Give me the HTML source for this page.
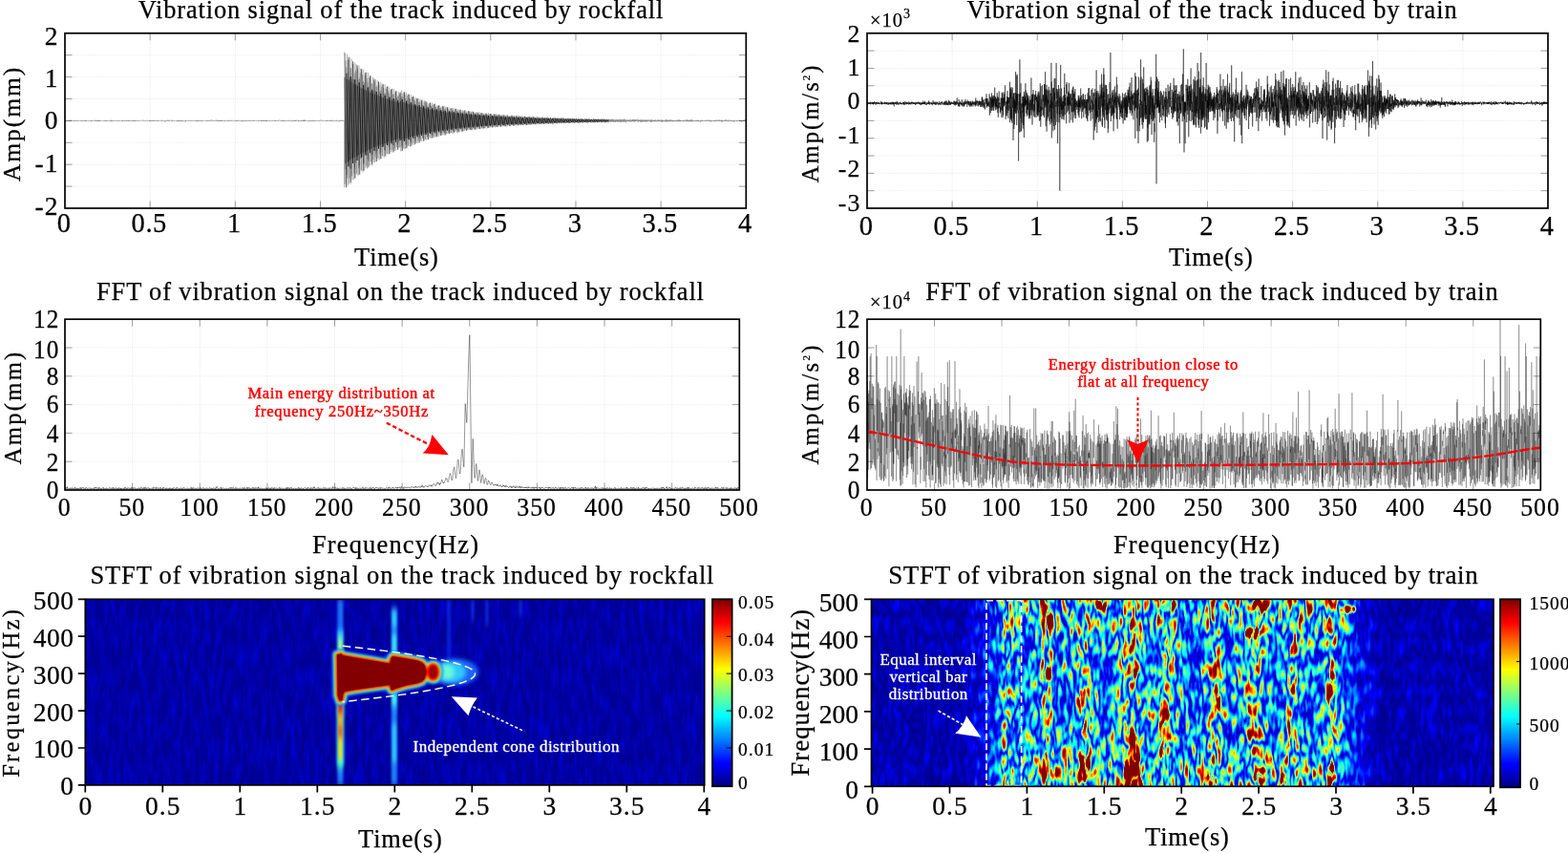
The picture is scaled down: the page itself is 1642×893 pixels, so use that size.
<!DOCTYPE html><html><head><meta charset="utf-8"><title>Vibration signals</title><style>html,body{margin:0;padding:0;background:#fff;overflow:hidden}svg{display:block;font-family:"Liberation Serif", serif}</style></head><body>
<svg width="1642" height="893" viewBox="0 0 1642 893">
<rect width="1642" height="893" fill="#fff"/>
<rect x="68" y="34.8" width="713.30" height="183.20" fill="#fff"/>
<path d="M157.16 34.8V218M246.32 34.8V218M335.49 34.8V218M424.65 34.8V218M513.81 34.8V218M602.97 34.8V218M692.14 34.8V218M68 195.10H781.3M68 172.20H781.3M68 149.30H781.3M68 126.40H781.3M68 103.50H781.3M68 80.60H781.3M68 57.70H781.3" stroke="#e2e2e2" stroke-width="0.6" stroke-dasharray="1.2 0.8" fill="none"/>
<path d="M157.16 34.8v7.5M157.16 218v-7.5M246.32 34.8v7.5M246.32 218v-7.5M335.49 34.8v7.5M335.49 218v-7.5M424.65 34.8v7.5M424.65 218v-7.5M513.81 34.8v7.5M513.81 218v-7.5M602.97 34.8v7.5M602.97 218v-7.5M692.14 34.8v7.5M692.14 218v-7.5M68 195.10h7.5M781.3 195.10h-7.5M68 172.20h7.5M781.3 172.20h-7.5M68 149.30h7.5M781.3 149.30h-7.5M68 126.40h7.5M781.3 126.40h-7.5M68 103.50h7.5M781.3 103.50h-7.5M68 80.60h7.5M781.3 80.60h-7.5M68 57.70h7.5M781.3 57.70h-7.5" stroke="#777" stroke-width="0.7" fill="none"/>
<clipPath id="c1"><rect x="68" y="34.8" width="713.3" height="183.2"/></clipPath>
<polyline points="68.0,126.3 68.2,126.1 68.4,126.3 68.5,126.9 68.7,126.1 68.9,126.2 69.1,126.6 69.2,126.2 69.4,126.3 69.6,126.3 69.8,126.4 70.0,126.2 70.1,126.7 70.3,126.5 70.5,126.6 70.7,126.2 70.9,126.4 71.0,126.5 71.2,126.7 71.4,126.5 71.6,126.4 71.7,126.5 71.9,125.9 72.1,126.0 72.3,127.4 72.5,127.1 72.6,126.5 72.8,126.6 73.0,126.3 73.2,126.3 73.3,125.6 73.5,126.8 73.7,126.5 73.9,125.7 74.1,126.2 74.2,126.2 74.4,126.6 74.6,127.0 74.8,126.3 75.0,126.4 75.1,126.8 75.3,126.7 75.5,126.4 75.7,126.7 75.8,126.4 76.0,126.4 76.2,126.4 76.4,126.6 76.6,126.2 76.7,126.1 76.9,126.3 77.1,126.7 77.3,126.1 77.5,126.6 77.6,126.1 77.8,126.8 78.0,126.1 78.2,126.4 78.3,126.9 78.5,126.5 78.7,126.4 78.9,126.3 79.1,126.8 79.2,126.8 79.4,126.3 79.6,126.6 79.8,126.3 79.9,126.1 80.1,127.0 80.3,126.3 80.5,126.0 80.7,126.5 80.8,126.7 81.0,126.1 81.2,126.3 81.4,126.1 81.6,126.5 81.7,126.9 81.9,126.4 82.1,126.6 82.3,126.1 82.4,126.3 82.6,127.0 82.8,126.8 83.0,126.1 83.2,126.2 83.3,126.6 83.5,126.4 83.7,126.2 83.9,126.2 84.0,126.1 84.2,126.3 84.4,126.4 84.6,126.5 84.8,126.0 84.9,127.2 85.1,126.5 85.3,126.4 85.5,126.9 85.7,126.3 85.8,126.6 86.0,126.1 86.2,126.4 86.4,126.2 86.5,126.0 86.7,126.3 86.9,126.7 87.1,127.0 87.3,125.8 87.4,126.4 87.6,126.7 87.8,126.3 88.0,126.5 88.2,126.1 88.3,126.4 88.5,126.4 88.7,126.7 88.9,126.2 89.0,126.8 89.2,126.2 89.4,125.8 89.6,127.0 89.8,127.3 89.9,126.2 90.1,125.5 90.3,126.8 90.5,126.9 90.6,126.2 90.8,126.7 91.0,126.6 91.2,126.5 91.4,126.2 91.5,126.5 91.7,126.3 91.9,126.5 92.1,126.7 92.3,126.5 92.4,126.7 92.6,126.4 92.8,126.8 93.0,126.8 93.1,125.9 93.3,126.4 93.5,126.4 93.7,126.2 93.9,126.6 94.0,126.5 94.2,126.2 94.4,126.3 94.6,126.8 94.7,126.1 94.9,126.6 95.1,126.8 95.3,126.7 95.5,126.5 95.6,125.8 95.8,126.8 96.0,126.3 96.2,127.2 96.4,126.4 96.5,126.1 96.7,126.5 96.9,126.6 97.1,126.3 97.2,126.1 97.4,126.2 97.6,125.7 97.8,126.3 98.0,126.6 98.1,126.4 98.3,126.4 98.5,126.4 98.7,126.4 98.9,126.3 99.0,127.0 99.2,126.1 99.4,126.6 99.6,126.8 99.7,126.2 99.9,125.9 100.1,126.2 100.3,126.3 100.5,126.7 100.6,125.3 100.8,126.1 101.0,126.8 101.2,126.7 101.3,126.4 101.5,127.0 101.7,126.3 101.9,126.6 102.1,126.0 102.2,126.0 102.4,127.4 102.6,126.4 102.8,127.0 103.0,126.0 103.1,126.3 103.3,126.2 103.5,126.8 103.7,125.7 103.8,125.7 104.0,126.8 104.2,126.3 104.4,126.6 104.6,126.4 104.7,126.9 104.9,125.7 105.1,126.8 105.3,126.5 105.4,126.2 105.6,126.6 105.8,126.5 106.0,126.6 106.2,126.4 106.3,126.8 106.5,126.6 106.7,126.5 106.9,126.5 107.1,126.4 107.2,126.5 107.4,126.1 107.6,126.5 107.8,126.5 107.9,126.6 108.1,126.6 108.3,126.9 108.5,126.2 108.7,126.8 108.8,126.7 109.0,126.3 109.2,126.3 109.4,126.5 109.5,127.1 109.7,126.2 109.9,126.3 110.1,126.9 110.3,126.1 110.4,126.7 110.6,126.8 110.8,126.4 111.0,126.5 111.2,126.3 111.3,127.0 111.5,125.7 111.7,126.6 111.9,127.0 112.0,126.2 112.2,126.5 112.4,126.3 112.6,126.5 112.8,126.4 112.9,126.3 113.1,126.7 113.3,126.2 113.5,126.6 113.7,126.7 113.8,126.4 114.0,126.2 114.2,126.5 114.4,126.7 114.5,126.2 114.7,127.0 114.9,126.8 115.1,126.4 115.3,126.9 115.4,126.4 115.6,126.4 115.8,126.1 116.0,126.7 116.1,126.6 116.3,126.3 116.5,127.3 116.7,125.3 116.9,126.7 117.0,126.7 117.2,126.1 117.4,126.4 117.6,127.1 117.8,126.2 117.9,126.1 118.1,126.6 118.3,126.5 118.5,126.2 118.6,126.7 118.8,126.2 119.0,126.3 119.2,126.6 119.4,126.9 119.5,126.5 119.7,126.7 119.9,126.0 120.1,126.3 120.2,126.1 120.4,126.4 120.6,126.3 120.8,126.7 121.0,126.2 121.1,125.7 121.3,126.5 121.5,126.6 121.7,126.5 121.9,126.6 122.0,126.7 122.2,126.3 122.4,126.5 122.6,125.9 122.7,126.4 122.9,126.3 123.1,126.1 123.3,126.5 123.5,125.9 123.6,126.6 123.8,126.7 124.0,126.5 124.2,126.4 124.4,126.9 124.5,126.4 124.7,127.0 124.9,125.9 125.1,126.4 125.2,126.6 125.4,126.7 125.6,126.5 125.8,126.5 126.0,126.8 126.1,126.7 126.3,126.5 126.5,126.6 126.7,126.1 126.8,126.0 127.0,126.4 127.2,126.2 127.4,126.9 127.6,126.2 127.7,126.4 127.9,126.2 128.1,125.8 128.3,127.2 128.5,126.3 128.6,126.8 128.8,126.2 129.0,126.9 129.2,126.6 129.3,126.3 129.5,126.2 129.7,126.4 129.9,126.7 130.1,126.6 130.2,126.1 130.4,126.4 130.6,127.0 130.8,126.1 130.9,126.2 131.1,126.1 131.3,126.5 131.5,126.1 131.7,126.8 131.8,126.2 132.0,126.6 132.2,126.2 132.4,126.0 132.6,126.7 132.7,126.4 132.9,126.4 133.1,126.0 133.3,126.1 133.4,126.8 133.6,126.2 133.8,126.1 134.0,125.6 134.2,127.0 134.3,126.6 134.5,125.9 134.7,126.9 134.9,126.8 135.1,126.2 135.2,126.0 135.4,126.6 135.6,126.2 135.8,126.4 135.9,125.8 136.1,126.4 136.3,126.0 136.5,126.7 136.7,126.5 136.8,126.4 137.0,126.0 137.2,126.2 137.4,126.7 137.5,126.2 137.7,126.1 137.9,126.4 138.1,126.5 138.3,126.5 138.4,127.0 138.6,126.3 138.8,126.3 139.0,126.7 139.2,126.1 139.3,126.9 139.5,126.6 139.7,126.6 139.9,125.7 140.0,127.0 140.2,126.2 140.4,126.1 140.6,126.3 140.8,126.0 140.9,126.8 141.1,127.2 141.3,126.1 141.5,126.8 141.6,126.5 141.8,126.8 142.0,126.0 142.2,126.1 142.4,126.7 142.5,126.1 142.7,126.4 142.9,126.5 143.1,126.4 143.3,126.5 143.4,126.2 143.6,126.3 143.8,126.5 144.0,126.0 144.1,126.6 144.3,126.3 144.5,126.2 144.7,125.9 144.9,126.6 145.0,125.8 145.2,126.3 145.4,126.5 145.6,126.6 145.7,126.2 145.9,126.4 146.1,126.8 146.3,126.8 146.5,126.6 146.6,126.6 146.8,126.0 147.0,125.9 147.2,126.1 147.4,126.3 147.5,126.6 147.7,126.4 147.9,126.1 148.1,125.6 148.2,126.1 148.4,126.5 148.6,126.4 148.8,126.6 149.0,126.7 149.1,126.5 149.3,126.3 149.5,125.7 149.7,126.4 149.9,125.9 150.0,125.8 150.2,126.4 150.4,125.8 150.6,126.1 150.7,126.6 150.9,126.3 151.1,126.4 151.3,126.5 151.5,126.5 151.6,126.3 151.8,126.2 152.0,126.7 152.2,126.4 152.3,127.0 152.5,126.3 152.7,126.2 152.9,126.3 153.1,126.3 153.2,126.2 153.4,126.6 153.6,126.5 153.8,126.2 154.0,126.0 154.1,126.3 154.3,125.5 154.5,126.4 154.7,126.0 154.8,125.9 155.0,126.4 155.2,126.7 155.4,126.8 155.6,126.3 155.7,126.0 155.9,126.3 156.1,126.3 156.3,126.5 156.4,126.2 156.6,127.2 156.8,126.3 157.0,126.4 157.2,126.9 157.3,125.6 157.5,126.9 157.7,126.8 157.9,126.8 158.1,126.0 158.2,126.7 158.4,126.2 158.6,126.2 158.8,126.3 158.9,126.9 159.1,126.6 159.3,125.8 159.5,126.9 159.7,126.7 159.8,126.5 160.0,126.1 160.2,126.3 160.4,126.1 160.6,126.8 160.7,126.1 160.9,126.2 161.1,127.0 161.3,125.8 161.4,125.6 161.6,126.7 161.8,126.4 162.0,125.9 162.2,126.9 162.3,127.1 162.5,126.9 162.7,126.6 162.9,126.6 163.0,126.2 163.2,126.3 163.4,126.9 163.6,126.2 163.8,125.7 163.9,126.0 164.1,126.0 164.3,126.4 164.5,126.0 164.7,126.8 164.8,126.1 165.0,126.4 165.2,126.0 165.4,126.2 165.5,126.8 165.7,126.4 165.9,126.0 166.1,126.8 166.3,126.6 166.4,126.7 166.6,126.9 166.8,126.0 167.0,125.9 167.1,126.1 167.3,126.3 167.5,126.4 167.7,126.3 167.9,126.7 168.0,126.1 168.2,126.0 168.4,126.1 168.6,126.6 168.8,126.4 168.9,126.5 169.1,125.7 169.3,126.3 169.5,127.1 169.6,126.3 169.8,125.7 170.0,126.1 170.2,126.1 170.4,126.4 170.5,127.1 170.7,127.1 170.9,126.9 171.1,126.4 171.3,126.3 171.4,126.1 171.6,126.5 171.8,126.0 172.0,126.5 172.1,126.7 172.3,126.1 172.5,126.7 172.7,127.4 172.9,126.8 173.0,126.4 173.2,127.5 173.4,126.5 173.6,126.5 173.7,126.9 173.9,126.9 174.1,126.6 174.3,126.6 174.5,125.9 174.6,126.3 174.8,127.0 175.0,126.7 175.2,126.1 175.4,125.7 175.5,126.3 175.7,126.3 175.9,125.7 176.1,126.4 176.2,126.5 176.4,126.9 176.6,126.6 176.8,125.6 177.0,126.9 177.1,126.4 177.3,126.9 177.5,126.4 177.7,126.1 177.8,126.5 178.0,126.1 178.2,126.1 178.4,126.2 178.6,125.8 178.7,126.1 178.9,126.5 179.1,126.6 179.3,126.7 179.5,126.2 179.6,126.5 179.8,125.4 180.0,125.7 180.2,126.5 180.3,126.5 180.5,125.8 180.7,127.1 180.9,126.6 181.1,126.1 181.2,126.7 181.4,126.6 181.6,126.5 181.8,126.2 181.9,126.3 182.1,126.3 182.3,126.2 182.5,126.4 182.7,126.0 182.8,126.7 183.0,126.9 183.2,127.1 183.4,127.0 183.6,126.6 183.7,126.0 183.9,126.3 184.1,126.6 184.3,126.8 184.4,126.6 184.6,126.5 184.8,126.6 185.0,126.9 185.2,126.6 185.3,126.0 185.5,127.2 185.7,126.5 185.9,127.2 186.1,126.3 186.2,126.7 186.4,127.2 186.6,126.4 186.8,125.7 186.9,126.4 187.1,126.0 187.3,126.4 187.5,127.2 187.7,126.2 187.8,126.6 188.0,126.9 188.2,126.1 188.4,126.3 188.5,126.6 188.7,126.1 188.9,126.7 189.1,126.2 189.3,126.7 189.4,126.2 189.6,126.8 189.8,125.9 190.0,126.3 190.2,125.9 190.3,126.7 190.5,126.6 190.7,126.1 190.9,127.4 191.0,126.8 191.2,126.0 191.4,126.2 191.6,126.0 191.8,126.5 191.9,126.2 192.1,126.7 192.3,126.9 192.5,127.0 192.6,126.6 192.8,126.6 193.0,126.6 193.2,127.7 193.4,127.1 193.5,126.6 193.7,126.3 193.9,126.6 194.1,126.7 194.3,127.2 194.4,125.7 194.6,126.8 194.8,125.8 195.0,125.8 195.1,126.3 195.3,126.6 195.5,126.4 195.7,126.8 195.9,126.3 196.0,126.4 196.2,126.2 196.4,126.1 196.6,125.8 196.8,126.5 196.9,126.0 197.1,126.7 197.3,126.7 197.5,126.6 197.6,126.8 197.8,126.0 198.0,126.1 198.2,125.9 198.4,126.4 198.5,126.3 198.7,126.6 198.9,126.8 199.1,126.2 199.2,126.3 199.4,126.8 199.6,126.2 199.8,127.0 200.0,126.5 200.1,126.6 200.3,126.6 200.5,126.8 200.7,126.1 200.9,126.2 201.0,126.0 201.2,126.4 201.4,126.9 201.6,126.5 201.7,126.8 201.9,126.2 202.1,126.0 202.3,126.3 202.5,126.6 202.6,126.5 202.8,126.3 203.0,126.9 203.2,126.4 203.3,126.3 203.5,126.6 203.7,126.6 203.9,126.3 204.1,126.7 204.2,126.7 204.4,126.1 204.6,126.3 204.8,125.8 205.0,126.8 205.1,127.1 205.3,126.1 205.5,126.1 205.7,126.7 205.8,126.9 206.0,126.4 206.2,127.1 206.4,126.5 206.6,127.2 206.7,126.5 206.9,127.2 207.1,126.5 207.3,125.9 207.5,126.5 207.6,126.1 207.8,126.6 208.0,126.7 208.2,127.0 208.3,126.0 208.5,126.4 208.7,125.8 208.9,126.8 209.1,126.5 209.2,126.4 209.4,125.9 209.6,125.7 209.8,126.7 209.9,126.8 210.1,127.1 210.3,125.9 210.5,126.4 210.7,126.7 210.8,126.4 211.0,127.4 211.2,127.1 211.4,126.1 211.6,126.3 211.7,126.4 211.9,126.8 212.1,126.2 212.3,125.8 212.4,126.9 212.6,126.4 212.8,126.6 213.0,126.3 213.2,126.4 213.3,126.5 213.5,126.7 213.7,126.4 213.9,126.6 214.0,126.5 214.2,126.4 214.4,126.2 214.6,126.6 214.8,126.5 214.9,126.0 215.1,126.5 215.3,126.5 215.5,126.1 215.7,126.3 215.8,126.4 216.0,126.3 216.2,126.9 216.4,126.3 216.5,125.9 216.7,126.2 216.9,127.0 217.1,126.3 217.3,126.7 217.4,126.5 217.6,126.4 217.8,126.9 218.0,125.9 218.1,126.4 218.3,126.1 218.5,126.2 218.7,125.9 218.9,126.0 219.0,127.0 219.2,126.4 219.4,127.2 219.6,126.6 219.8,126.2 219.9,126.1 220.1,125.9 220.3,126.6 220.5,126.3 220.6,126.4 220.8,125.9 221.0,125.8 221.2,126.5 221.4,125.0 221.5,126.4 221.7,126.5 221.9,126.2 222.1,126.1 222.3,126.2 222.4,126.6 222.6,125.9 222.8,126.4 223.0,125.8 223.1,125.9 223.3,126.9 223.5,126.8 223.7,126.8 223.9,126.3 224.0,126.4 224.2,126.3 224.4,126.7 224.6,126.3 224.7,125.9 224.9,126.9 225.1,126.5 225.3,126.3 225.5,126.5 225.6,126.5 225.8,125.8 226.0,125.9 226.2,126.1 226.4,126.7 226.5,125.6 226.7,126.3 226.9,126.6 227.1,126.5 227.2,126.6 227.4,125.6 227.6,126.3 227.8,126.4 228.0,127.2 228.1,126.1 228.3,126.8 228.5,126.8 228.7,126.2 228.8,126.7 229.0,126.1 229.2,126.0 229.4,127.1 229.6,126.5 229.7,127.0 229.9,126.4 230.1,126.1 230.3,126.9 230.5,125.7 230.6,126.5 230.8,126.8 231.0,126.5 231.2,126.1 231.3,126.9 231.5,126.4 231.7,126.9 231.9,126.0 232.1,126.3 232.2,126.6 232.4,126.0 232.6,126.9 232.8,126.6 233.0,125.7 233.1,126.5 233.3,125.9 233.5,126.3 233.7,126.7 233.8,126.5 234.0,126.4 234.2,126.6 234.4,126.7 234.6,126.7 234.7,127.0 234.9,126.4 235.1,126.3 235.3,126.1 235.4,127.1 235.6,126.1 235.8,126.4 236.0,126.9 236.2,126.4 236.3,126.1 236.5,126.2 236.7,126.1 236.9,126.1 237.1,126.1 237.2,126.4 237.4,127.2 237.6,126.7 237.8,126.3 237.9,126.6 238.1,126.2 238.3,126.1 238.5,126.4 238.7,125.7 238.8,126.8 239.0,126.1 239.2,126.6 239.4,126.7 239.5,126.2 239.7,126.6 239.9,126.1 240.1,126.8 240.3,126.4 240.4,126.7 240.6,126.5 240.8,126.5 241.0,126.8 241.2,126.2 241.3,126.9 241.5,126.8 241.7,126.1 241.9,126.1 242.0,126.2 242.2,126.3 242.4,125.6 242.6,126.8 242.8,126.7 242.9,126.8 243.1,126.1 243.3,126.3 243.5,126.0 243.7,126.0 243.8,126.5 244.0,126.7 244.2,126.8 244.4,125.6 244.5,126.1 244.7,126.2 244.9,126.5 245.1,126.5 245.3,126.5 245.4,126.5 245.6,127.3 245.8,126.4 246.0,126.5 246.1,126.3 246.3,126.3 246.5,126.1 246.7,126.4 246.9,126.1 247.0,127.3 247.2,126.8 247.4,125.8 247.6,126.9 247.8,126.5 247.9,126.1 248.1,126.7 248.3,126.1 248.5,126.9 248.6,127.1 248.8,126.9 249.0,127.0 249.2,126.4 249.4,126.5 249.5,126.3 249.7,126.8 249.9,125.5 250.1,126.4 250.2,126.4 250.4,126.2 250.6,126.5 250.8,126.6 251.0,126.4 251.1,126.1 251.3,126.2 251.5,126.1 251.7,126.6 251.9,126.7 252.0,125.7 252.2,126.5 252.4,126.2 252.6,126.1 252.7,125.9 252.9,126.9 253.1,126.6 253.3,126.6 253.5,126.5 253.6,127.3 253.8,126.4 254.0,127.5 254.2,126.3 254.3,126.2 254.5,126.2 254.7,126.8 254.9,126.1 255.1,126.7 255.2,126.9 255.4,126.8 255.6,126.7 255.8,126.3 256.0,126.1 256.1,127.2 256.3,126.6 256.5,126.1 256.7,126.3 256.8,126.2 257.0,127.0 257.2,126.1 257.4,127.0 257.6,126.3 257.7,125.9 257.9,125.7 258.1,126.2 258.3,126.1 258.5,126.6 258.6,126.6 258.8,126.0 259.0,126.4 259.2,126.4 259.3,126.9 259.5,126.3 259.7,126.2 259.9,126.7 260.1,126.6 260.2,125.8 260.4,126.3 260.6,126.5 260.8,126.8 260.9,126.6 261.1,126.5 261.3,125.9 261.5,126.6 261.7,125.7 261.8,126.7 262.0,126.5 262.2,126.1 262.4,126.5 262.6,126.7 262.7,126.4 262.9,126.2 263.1,127.0 263.3,126.5 263.4,126.4 263.6,126.5 263.8,126.1 264.0,126.6 264.2,126.5 264.3,126.4 264.5,126.1 264.7,126.5 264.9,125.8 265.0,126.7 265.2,125.9 265.4,126.7 265.6,126.5 265.8,126.3 265.9,125.6 266.1,126.1 266.3,126.5 266.5,125.9 266.7,126.5 266.8,126.7 267.0,126.2 267.2,126.4 267.4,126.1 267.5,126.6 267.7,126.3 267.9,126.2 268.1,126.3 268.3,126.4 268.4,126.7 268.6,126.1 268.8,126.3 269.0,126.2 269.2,126.5 269.3,126.4 269.5,126.8 269.7,126.4 269.9,126.1 270.0,126.4 270.2,126.1 270.4,126.3 270.6,125.9 270.8,126.5 270.9,127.0 271.1,126.2 271.3,126.5 271.5,126.8 271.6,126.2 271.8,126.3 272.0,126.2 272.2,126.5 272.4,126.3 272.5,126.3 272.7,125.7 272.9,126.7 273.1,126.4 273.3,126.3 273.4,127.0 273.6,127.0 273.8,125.6 274.0,127.0 274.1,126.2 274.3,126.7 274.5,126.7 274.7,127.1 274.9,126.7 275.0,126.1 275.2,126.9 275.4,126.2 275.6,126.3 275.7,125.7 275.9,126.6 276.1,125.9 276.3,126.1 276.5,126.5 276.6,127.0 276.8,125.8 277.0,126.9 277.2,126.6 277.4,126.1 277.5,126.0 277.7,126.7 277.9,126.4 278.1,126.5 278.2,126.0 278.4,125.5 278.6,127.1 278.8,126.1 279.0,127.4 279.1,126.4 279.3,126.8 279.5,125.7 279.7,126.3 279.9,126.7 280.0,126.6 280.2,126.6 280.4,126.3 280.6,126.5 280.7,126.2 280.9,125.8 281.1,126.1 281.3,126.8 281.5,127.0 281.6,126.7 281.8,126.0 282.0,126.5 282.2,126.6 282.3,126.3 282.5,126.9 282.7,126.8 282.9,126.2 283.1,126.5 283.2,126.6 283.4,126.3 283.6,126.6 283.8,126.7 284.0,126.6 284.1,126.2 284.3,126.4 284.5,126.8 284.7,126.5 284.8,126.2 285.0,125.7 285.2,126.8 285.4,126.3 285.6,126.5 285.7,126.1 285.9,126.2 286.1,125.9 286.3,126.2 286.4,126.6 286.6,126.6 286.8,126.3 287.0,126.3 287.2,125.5 287.3,125.8 287.5,126.8 287.7,126.3 287.9,126.9 288.1,127.0 288.2,126.1 288.4,126.2 288.6,126.8 288.8,125.8 288.9,126.8 289.1,126.8 289.3,126.2 289.5,126.3 289.7,126.5 289.8,126.4 290.0,126.3 290.2,126.5 290.4,126.5 290.5,127.1 290.7,126.9 290.9,126.2 291.1,126.7 291.3,126.2 291.4,125.9 291.6,126.5 291.8,126.3 292.0,125.6 292.2,126.1 292.3,125.7 292.5,125.8 292.7,126.1 292.9,126.4 293.0,126.7 293.2,126.8 293.4,126.2 293.6,126.2 293.8,126.5 293.9,126.1 294.1,126.6 294.3,126.0 294.5,126.4 294.7,126.4 294.8,126.4 295.0,126.4 295.2,125.5 295.4,127.0 295.5,126.3 295.7,125.9 295.9,126.1 296.1,126.5 296.3,125.8 296.4,126.8 296.6,126.9 296.8,126.2 297.0,126.9 297.1,127.3 297.3,126.1 297.5,126.1 297.7,126.1 297.9,126.6 298.0,126.3 298.2,126.8 298.4,125.8 298.6,126.1 298.8,126.1 298.9,127.1 299.1,126.1 299.3,125.9 299.5,126.0 299.6,126.1 299.8,126.4 300.0,126.5 300.2,126.2 300.4,126.3 300.5,126.3 300.7,126.5 300.9,125.8 301.1,126.8 301.2,126.4 301.4,126.6 301.6,126.0 301.8,125.9 302.0,125.9 302.1,126.1 302.3,126.9 302.5,125.6 302.7,126.2 302.9,126.4 303.0,126.4 303.2,126.5 303.4,126.2 303.6,126.3 303.7,126.5 303.9,127.3 304.1,126.4 304.3,126.2 304.5,126.2 304.6,126.5 304.8,126.2 305.0,126.0 305.2,126.6 305.4,125.9 305.5,127.1 305.7,126.9 305.9,126.7 306.1,127.3 306.2,126.8 306.4,125.9 306.6,125.9 306.8,126.4 307.0,125.8 307.1,126.3 307.3,126.6 307.5,126.3 307.7,126.5 307.8,126.1 308.0,127.0 308.2,126.0 308.4,126.6 308.6,126.1 308.7,127.0 308.9,126.6 309.1,126.4 309.3,126.1 309.5,126.8 309.6,125.8 309.8,126.2 310.0,126.6 310.2,126.0 310.3,126.4 310.5,126.0 310.7,125.5 310.9,126.1 311.1,126.6 311.2,126.6 311.4,126.2 311.6,126.3 311.8,126.7 311.9,126.6 312.1,126.2 312.3,125.5 312.5,127.4 312.7,126.1 312.8,126.5 313.0,126.1 313.2,126.1 313.4,126.4 313.6,126.8 313.7,126.9 313.9,127.1 314.1,126.0 314.3,126.5 314.4,126.6 314.6,126.5 314.8,126.9 315.0,126.3 315.2,125.9 315.3,126.0 315.5,127.0 315.7,125.9 315.9,126.7 316.1,127.1 316.2,126.9 316.4,126.8 316.6,126.4 316.8,126.8 316.9,127.0 317.1,126.5 317.3,125.7 317.5,126.7 317.7,126.2 317.8,126.4 318.0,125.4 318.2,127.1 318.4,126.0 318.5,126.9 318.7,126.6 318.9,126.4 319.1,125.2 319.3,126.7 319.4,127.1 319.6,125.9 319.8,126.7 320.0,126.5 320.2,126.4 320.3,126.4 320.5,126.5 320.7,126.3 320.9,126.3 321.0,126.1 321.2,126.6 321.4,126.7 321.6,126.8 321.8,126.2 321.9,126.4 322.1,126.2 322.3,126.2 322.5,125.8 322.6,126.3 322.8,126.1 323.0,126.8 323.2,126.8 323.4,126.5 323.5,126.8 323.7,126.1 323.9,126.9 324.1,126.4 324.3,127.3 324.4,126.8 324.6,126.5 324.8,126.5 325.0,127.1 325.1,126.4 325.3,126.0 325.5,126.2 325.7,126.6 325.9,126.6 326.0,126.8 326.2,126.2 326.4,125.9 326.6,126.6 326.7,127.0 326.9,126.3 327.1,126.1 327.3,127.4 327.5,126.3 327.6,125.6 327.8,126.1 328.0,126.2 328.2,126.3 328.4,126.0 328.5,126.7 328.7,126.7 328.9,126.3 329.1,126.7 329.2,126.3 329.4,127.1 329.6,126.1 329.8,126.1 330.0,126.4 330.1,126.3 330.3,125.8 330.5,126.8 330.7,126.7 330.9,126.8 331.0,126.6 331.2,126.8 331.4,126.4 331.6,126.6 331.7,126.9 331.9,127.0 332.1,126.0 332.3,126.4 332.5,126.5 332.6,126.4 332.8,126.4 333.0,126.1 333.2,126.2 333.3,126.6 333.5,126.7 333.7,126.8 333.9,126.9 334.1,125.9 334.2,126.7 334.4,127.1 334.6,126.7 334.8,126.7 335.0,126.3 335.1,126.7 335.3,126.2 335.5,126.3 335.7,125.9 335.8,125.6 336.0,125.4 336.2,125.9 336.4,126.8 336.6,126.5 336.7,126.3 336.9,125.6 337.1,126.2 337.3,126.0 337.4,126.5 337.6,126.2 337.8,126.1 338.0,126.6 338.2,126.1 338.3,126.0 338.5,126.5 338.7,126.0 338.9,125.8 339.1,126.4 339.2,126.4 339.4,126.5 339.6,126.6 339.8,126.3 339.9,126.6 340.1,126.5 340.3,126.7 340.5,127.0 340.7,126.7 340.8,126.3 341.0,126.8 341.2,126.6 341.4,125.8 341.6,126.0 341.7,126.7 341.9,126.2 342.1,126.6 342.3,125.8 342.4,126.6 342.6,126.4 342.8,125.9 343.0,126.7 343.2,125.9 343.3,126.7 343.5,126.3 343.7,126.5 343.9,126.4 344.0,126.3 344.2,126.4 344.4,126.8 344.6,126.1 344.8,126.1 344.9,125.9 345.1,125.9 345.3,126.9 345.5,125.9 345.7,125.9 345.8,126.6 346.0,126.0 346.2,125.9 346.4,126.6 346.5,126.9 346.7,126.5 346.9,125.4 347.1,126.3 347.3,126.8 347.4,126.5 347.6,126.8 347.8,126.5 348.0,126.4 348.1,127.3 348.3,126.3 348.5,125.9 348.7,126.5 348.9,126.5 349.0,126.0 349.2,126.9 349.4,126.9 349.6,126.9 349.8,126.5 349.9,126.3 350.1,126.4 350.3,126.2 350.5,126.1 350.6,126.2 350.8,126.7 351.0,126.5 351.2,125.9 351.4,126.8 351.5,126.5 351.7,126.6 351.9,126.5 352.1,126.8 352.3,126.9 352.4,125.5 352.6,126.1 352.8,126.7 353.0,126.4 353.1,126.2 353.3,126.5 353.5,126.2 353.7,126.6 353.9,126.5 354.0,126.4 354.2,126.6 354.4,127.3 354.6,126.4 354.7,126.3 354.9,126.2 355.1,126.8 355.3,126.3 355.5,126.3 355.6,127.0 355.8,127.2 356.0,126.2 356.2,126.7 356.4,126.0 356.5,125.6 356.7,126.6 356.9,126.7 357.1,126.4 357.2,126.2 357.4,126.8 357.6,125.9 357.8,126.0 358.0,126.2 358.1,126.6 358.3,126.1 358.5,126.1 358.7,126.8 358.8,125.6 359.0,126.5 359.2,126.3 359.4,126.6 359.6,126.3 359.7,126.0 359.9,126.7 360.1,127.0 360.3,126.6 360.5,128.6 360.6,196.2 360.8,85.2 361.0,80.7 361.2,192.9 361.3,134.2 361.5,55.5 361.7,159.5 361.9,177.6 362.1,63.4 362.2,110.2 362.4,196.7 362.6,102.3 362.8,70.2 362.9,183.3 363.1,151.3 363.3,56.8 363.5,142.0 363.7,186.7 363.8,76.2 364.0,94.2 364.2,194.4 364.4,119.9 364.6,62.8 364.7,169.3 364.9,165.2 365.1,61.5 365.3,124.6 365.4,192.6 365.6,91.4 365.8,81.7 366.0,186.5 366.2,136.8 366.3,59.9 366.5,153.4 366.7,176.5 366.9,70.7 367.1,108.3 367.2,192.7 367.4,106.9 367.6,71.5 367.8,176.5 367.9,151.8 368.1,61.6 368.3,136.9 368.5,184.5 368.7,82.3 368.8,93.6 369.0,188.2 369.2,124.2 369.4,66.4 369.5,163.7 369.7,165.4 369.9,67.1 370.1,121.4 370.3,188.0 370.4,96.9 370.6,82.9 370.8,181.7 371.0,138.8 371.2,65.1 371.3,149.8 371.5,175.5 371.7,76.5 371.9,106.0 372.0,186.6 372.2,111.5 372.4,73.8 372.6,170.5 372.8,152.5 372.9,67.0 373.1,134.3 373.3,181.5 373.5,88.5 373.6,93.6 373.8,183.1 374.0,127.2 374.2,69.7 374.4,158.4 374.5,164.1 374.7,72.3 374.9,118.7 375.1,184.2 375.3,101.2 375.4,83.1 375.6,176.2 375.8,140.9 376.0,68.3 376.1,144.7 376.3,173.7 376.5,81.7 376.7,105.1 376.9,183.0 377.0,114.8 377.2,76.1 377.4,166.1 377.6,153.7 377.8,71.8 377.9,130.9 378.1,178.3 378.3,92.8 378.5,93.5 378.6,178.6 378.8,129.6 379.0,72.4 379.2,154.2 379.4,164.1 379.5,78.1 379.7,116.9 379.9,180.5 380.1,105.4 380.2,85.1 380.4,171.1 380.6,142.3 380.8,72.8 381.0,140.7 381.1,171.6 381.3,86.4 381.5,104.5 381.7,178.6 381.9,119.3 382.0,78.7 382.2,161.2 382.4,153.2 382.6,76.1 382.7,128.0 382.9,176.1 383.1,96.8 383.3,94.4 383.5,173.5 383.6,131.7 383.8,75.6 384.0,149.6 384.2,162.4 384.3,82.0 384.5,115.2 384.7,176.7 384.9,108.7 385.1,86.3 385.2,166.6 385.4,143.2 385.6,76.0 385.8,137.4 386.0,168.8 386.1,91.1 386.3,103.3 386.5,174.5 386.7,121.1 386.8,81.2 387.0,156.8 387.2,153.8 387.4,80.8 387.6,125.5 387.7,173.1 387.9,101.4 388.1,94.9 388.3,169.2 388.5,133.4 388.6,79.4 388.8,146.0 389.0,161.9 389.2,86.8 389.3,113.0 389.5,173.3 389.7,112.8 389.9,87.9 390.1,162.0 390.2,144.8 390.4,80.9 390.6,133.9 390.8,167.6 390.9,94.9 391.1,102.6 391.3,170.0 391.5,124.9 391.7,83.5 391.8,152.6 392.0,153.5 392.2,85.2 392.4,122.6 392.6,170.3 392.7,104.6 392.9,94.8 393.1,164.4 393.3,135.4 393.4,83.2 393.6,142.0 393.8,160.4 394.0,91.0 394.2,111.9 394.3,169.4 394.5,116.2 394.7,89.5 394.9,158.2 395.0,145.2 395.2,84.2 395.4,131.9 395.6,165.4 395.8,98.8 395.9,103.2 396.1,166.8 396.3,126.6 396.5,86.2 396.7,149.8 396.8,153.4 397.0,88.7 397.2,121.1 397.4,167.7 397.5,108.1 397.7,95.9 397.9,162.0 398.1,136.5 398.3,85.9 398.4,138.7 398.6,159.4 398.8,94.9 399.0,111.4 399.1,166.4 399.3,118.0 399.5,90.9 399.7,154.2 399.9,146.0 400.0,87.3 400.2,128.5 400.4,163.0 400.6,102.5 400.8,103.2 400.9,163.6 401.1,128.4 401.3,88.9 401.5,145.8 401.6,153.1 401.8,92.2 402.0,119.3 402.2,165.1 402.4,111.5 402.5,97.4 402.7,157.3 402.9,137.0 403.1,88.2 403.3,135.9 403.4,158.0 403.6,97.9 403.8,110.9 404.0,163.7 404.1,120.8 404.3,92.9 404.5,151.2 404.7,145.6 404.9,90.9 405.0,127.8 405.2,161.3 405.4,106.0 405.6,103.5 405.7,160.4 405.9,129.7 406.1,90.1 406.3,143.3 406.5,152.1 406.6,95.0 406.8,118.7 407.0,161.9 407.2,113.7 407.4,97.6 407.5,154.1 407.7,139.0 407.9,91.5 408.1,134.1 408.2,156.7 408.4,101.3 408.6,110.5 408.8,160.6 409.0,123.2 409.1,94.2 409.3,148.9 409.5,145.3 409.7,94.0 409.8,126.0 410.0,159.1 410.2,109.1 410.4,103.6 410.6,157.1 410.7,131.3 410.9,92.8 411.1,139.7 411.3,151.8 411.5,98.4 411.6,117.2 411.8,160.0 412.0,116.4 412.2,98.9 412.3,152.2 412.5,138.8 412.7,93.4 412.9,132.5 413.1,155.3 413.2,103.8 413.4,109.7 413.6,158.1 413.8,125.4 414.0,96.2 414.1,145.3 414.3,145.8 414.5,96.7 414.7,123.7 414.8,157.5 415.0,111.3 415.2,103.1 415.4,154.1 415.6,132.4 415.7,95.2 415.9,137.7 416.1,151.2 416.3,100.9 416.4,116.4 416.6,156.9 416.8,118.1 417.0,100.0 417.2,148.6 417.3,140.1 417.5,96.4 417.7,129.6 417.9,154.1 418.1,107.2 418.2,109.8 418.4,155.2 418.6,126.5 418.8,97.9 418.9,141.9 419.1,146.0 419.3,96.1 419.5,122.4 419.7,158.5 419.8,112.2 420.0,101.7 420.2,154.3 420.4,134.6 420.5,94.5 420.7,136.3 420.9,152.5 421.1,101.0 421.3,114.6 421.4,158.3 421.6,120.6 421.8,98.1 422.0,148.4 422.2,141.7 422.3,96.0 422.5,128.6 422.7,155.5 422.9,107.0 423.0,107.9 423.2,155.7 423.4,128.4 423.6,96.7 423.8,142.0 423.9,147.2 424.1,99.2 424.3,120.8 424.5,156.2 424.6,114.8 424.8,103.1 425.0,151.4 425.2,135.3 425.4,96.5 425.5,134.3 425.7,151.7 425.9,104.7 426.1,114.8 426.3,154.6 426.4,122.7 426.6,100.2 426.8,144.9 427.0,141.1 427.1,98.3 427.3,127.2 427.5,153.2 427.7,109.2 427.9,108.6 428.0,152.3 428.2,129.4 428.4,98.9 428.6,139.0 428.8,146.0 428.9,102.6 429.1,120.7 429.3,153.9 429.5,116.9 429.6,103.9 429.8,148.0 430.0,136.0 430.2,99.1 430.4,132.0 430.5,149.7 430.7,107.2 430.9,113.8 431.1,152.7 431.2,124.5 431.4,101.4 431.6,143.4 431.8,141.5 432.0,101.6 432.1,125.8 432.3,151.7 432.5,113.3 432.7,108.9 432.9,149.7 433.0,130.3 433.2,100.6 433.4,136.5 433.6,145.2 433.7,104.3 433.9,119.3 434.1,152.2 434.3,118.9 434.5,105.5 434.6,145.6 434.8,136.4 435.0,102.0 435.2,130.4 435.3,148.2 435.5,110.0 435.7,113.8 435.9,150.2 436.1,125.4 436.2,103.2 436.4,140.6 436.6,141.3 436.8,103.9 437.0,125.3 437.1,150.0 437.3,115.1 437.5,110.1 437.7,147.3 437.8,131.1 438.0,103.1 438.2,135.1 438.4,144.6 438.6,106.9 438.7,119.1 438.9,149.5 439.1,120.3 439.3,106.6 439.5,143.6 439.6,136.8 439.8,103.9 440.0,129.6 440.2,146.5 440.3,112.0 440.5,113.9 440.7,147.9 440.9,126.2 441.1,105.0 441.2,139.0 441.4,140.3 441.6,106.1 441.8,123.5 441.9,148.1 442.1,116.4 442.3,109.9 442.5,144.7 442.7,131.6 442.8,104.6 443.0,133.2 443.2,144.4 443.4,110.2 443.6,118.5 443.7,148.1 443.9,121.2 444.1,107.0 444.3,140.9 444.4,136.8 444.6,105.0 444.8,128.6 445.0,146.5 445.2,114.0 445.3,114.4 445.5,146.0 445.7,127.4 445.9,105.6 446.0,136.4 446.2,140.1 446.4,107.9 446.6,122.8 446.8,146.9 446.9,119.0 447.1,111.1 447.3,143.3 447.5,132.1 447.7,106.9 447.8,132.3 448.0,143.2 448.2,111.8 448.4,118.0 448.5,146.2 448.7,123.8 448.9,109.1 449.1,139.5 449.3,137.0 449.4,107.8 449.6,127.1 449.8,144.8 450.0,115.4 450.2,114.9 450.3,144.2 450.5,128.2 450.7,107.2 450.9,134.8 451.0,140.0 451.2,110.3 451.4,122.4 451.6,144.9 451.8,120.2 451.9,111.0 452.1,140.9 452.3,133.2 452.5,107.7 452.6,130.6 452.8,141.8 453.0,112.8 453.2,118.1 453.4,144.2 453.5,124.9 453.7,109.6 453.9,137.7 454.1,136.7 454.3,109.1 454.4,126.2 454.6,144.4 454.8,117.2 455.0,114.8 455.1,142.8 455.3,128.3 455.5,108.4 455.7,133.7 455.9,140.2 456.0,112.1 456.2,121.5 456.4,143.5 456.6,121.4 456.7,111.9 456.9,139.6 457.1,132.8 457.3,110.0 457.5,129.3 457.6,141.6 457.8,114.4 458.0,117.7 458.2,143.3 458.4,125.8 458.5,111.0 458.7,136.2 458.9,136.6 459.1,110.6 459.2,125.5 459.4,143.1 459.6,117.9 459.8,114.7 460.0,140.3 460.1,129.6 460.3,110.6 460.5,132.1 460.7,138.8 460.8,113.3 461.0,121.9 461.2,142.3 461.4,122.5 461.6,112.5 461.7,139.2 461.9,133.3 462.1,111.7 462.3,128.7 462.5,140.6 462.6,116.8 462.8,118.4 463.0,141.6 463.2,125.8 463.3,110.8 463.5,135.1 463.7,136.1 463.9,112.0 464.1,124.3 464.2,141.5 464.4,120.0 464.6,114.8 464.8,139.1 465.0,129.2 465.1,110.8 465.3,132.1 465.5,139.2 465.7,114.4 465.8,120.8 466.0,142.1 466.2,123.5 466.4,113.3 466.6,136.9 466.7,133.6 466.9,111.6 467.1,126.9 467.3,139.9 467.4,117.9 467.6,118.1 467.8,140.4 468.0,127.2 468.2,112.4 468.3,133.8 468.5,136.7 468.7,113.2 468.9,123.5 469.1,140.3 469.2,120.9 469.4,115.2 469.6,138.5 469.8,131.0 469.9,112.4 470.1,130.0 470.3,138.4 470.5,116.2 470.7,120.5 470.8,140.1 471.0,124.3 471.2,114.1 471.4,135.6 471.5,133.8 471.7,113.2 471.9,126.7 472.1,139.2 472.3,118.0 472.4,117.2 472.6,138.7 472.8,127.9 473.0,113.2 473.2,132.7 473.3,135.7 473.5,115.8 473.7,123.3 473.9,140.4 474.0,121.8 474.2,115.3 474.4,137.3 474.6,131.8 474.8,112.8 474.9,128.8 475.1,137.6 475.3,116.6 475.5,120.7 475.7,138.7 475.8,124.5 476.0,114.2 476.2,134.4 476.4,133.2 476.5,113.8 476.7,126.3 476.9,138.2 477.1,119.5 477.3,117.9 477.4,137.4 477.6,128.0 477.8,113.7 478.0,131.8 478.1,135.6 478.3,116.3 478.5,123.0 478.7,139.4 478.9,123.4 479.0,116.0 479.2,135.9 479.4,131.2 479.6,114.0 479.8,128.4 479.9,137.6 480.1,118.1 480.3,120.3 480.5,138.3 480.6,125.9 480.8,115.2 481.0,133.7 481.2,133.8 481.4,115.2 481.5,124.7 481.7,138.3 481.9,120.5 482.1,118.6 482.2,136.2 482.4,128.9 482.6,114.7 482.8,130.2 483.0,135.2 483.1,117.5 483.3,122.5 483.5,138.0 483.7,123.3 483.9,116.5 484.0,134.6 484.2,131.3 484.4,115.2 484.6,127.4 484.7,137.4 484.9,119.2 485.1,120.6 485.3,137.2 485.5,126.6 485.6,115.7 485.8,132.7 486.0,133.8 486.2,116.8 486.4,125.0 486.5,137.2 486.7,121.8 486.9,118.5 487.1,136.0 487.2,128.5 487.4,115.4 487.6,129.7 487.8,135.4 488.0,118.1 488.1,122.7 488.3,136.6 488.5,124.9 488.7,116.8 488.8,133.9 489.0,131.7 489.2,116.6 489.4,127.6 489.6,135.9 489.7,120.3 489.9,119.9 490.1,136.1 490.3,126.7 490.5,116.0 490.6,132.1 490.8,133.7 491.0,116.9 491.2,125.0 491.3,136.0 491.5,122.6 491.7,118.5 491.9,135.3 492.1,129.3 492.2,116.5 492.4,129.2 492.6,135.4 492.8,118.4 492.9,122.8 493.1,136.2 493.3,124.8 493.5,117.2 493.7,133.4 493.8,131.3 494.0,116.5 494.2,126.6 494.4,135.7 494.6,120.9 494.7,120.0 494.9,135.8 495.1,127.2 495.3,116.7 495.4,131.4 495.6,134.4 495.8,118.0 496.0,124.3 496.2,135.6 496.3,123.1 496.5,118.9 496.7,134.5 496.9,129.7 497.0,117.1 497.2,128.9 497.4,134.7 497.6,119.2 497.8,122.0 497.9,136.0 498.1,125.4 498.3,118.2 498.5,132.8 498.7,131.5 498.8,117.8 499.0,125.7 499.2,135.2 499.4,121.9 499.5,120.2 499.7,134.2 499.9,127.9 500.1,117.8 500.3,130.4 500.4,133.5 500.6,119.2 500.8,124.4 501.0,135.2 501.2,123.4 501.3,119.1 501.5,133.0 501.7,129.6 501.9,117.0 502.0,128.0 502.2,134.4 502.4,120.2 502.6,121.9 502.8,134.8 502.9,125.5 503.1,118.3 503.3,131.4 503.5,132.0 503.6,118.4 503.8,126.0 504.0,135.1 504.2,122.4 504.4,120.5 504.5,133.8 504.7,127.8 504.9,118.5 505.1,129.1 505.3,133.9 505.4,119.4 505.6,123.4 505.8,135.0 506.0,124.4 506.1,119.5 506.3,132.2 506.5,131.2 506.7,118.6 506.9,128.1 507.0,133.9 507.2,120.6 507.4,121.5 507.6,134.0 507.7,126.3 507.9,118.9 508.1,130.4 508.3,131.4 508.5,119.3 508.6,125.8 508.8,134.6 509.0,122.5 509.2,120.0 509.4,132.6 509.5,128.7 509.7,118.6 509.9,128.4 510.1,132.8 510.2,119.9 510.4,124.0 510.6,134.3 510.8,124.9 511.0,119.6 511.1,132.0 511.3,130.8 511.5,118.2 511.7,126.9 511.9,134.1 512.0,121.3 512.2,121.9 512.4,133.3 512.6,126.9 512.7,119.3 512.9,130.5 513.1,131.5 513.3,119.4 513.5,124.9 513.6,133.6 513.8,123.0 514.0,120.5 514.2,132.2 514.3,128.2 514.5,118.9 514.7,128.4 514.9,132.8 515.1,121.3 515.2,123.9 515.4,133.2 515.6,125.3 515.8,120.0 516.0,130.6 516.1,129.9 516.3,119.4 516.5,126.2 516.7,133.3 516.8,122.2 517.0,121.2 517.2,132.6 517.4,127.2 517.6,119.1 517.7,129.2 517.9,131.5 518.1,120.4 518.3,124.1 518.4,133.5 518.6,124.5 518.8,120.7 519.0,131.1 519.2,128.6 519.3,119.1 519.5,128.7 519.7,132.6 519.9,121.0 520.1,123.3 520.2,132.6 520.4,125.5 520.6,119.9 520.8,130.0 520.9,130.4 521.1,120.1 521.3,126.1 521.5,132.8 521.7,123.5 521.8,121.4 522.0,132.3 522.2,127.4 522.4,119.5 522.6,129.2 522.7,130.9 522.9,120.8 523.1,124.3 523.3,133.2 523.4,124.5 523.6,120.8 523.8,131.7 524.0,129.2 524.2,119.9 524.3,127.1 524.5,131.9 524.7,121.6 524.9,123.0 525.0,132.3 525.2,125.5 525.4,120.3 525.6,129.9 525.8,130.0 525.9,121.2 526.1,125.9 526.3,132.4 526.5,123.1 526.7,122.1 526.8,131.5 527.0,127.9 527.2,120.2 527.4,128.0 527.5,131.7 527.7,121.3 527.9,124.4 528.1,132.5 528.3,125.0 528.4,120.9 528.6,131.3 528.8,129.5 529.0,120.2 529.1,127.5 529.3,131.8 529.5,122.5 529.7,123.3 529.9,132.2 530.0,126.4 530.2,120.5 530.4,129.8 530.6,130.3 530.8,121.5 530.9,125.7 531.1,132.9 531.3,123.8 531.5,122.2 531.6,130.6 531.8,127.4 532.0,120.6 532.2,127.9 532.4,131.0 532.5,122.3 532.7,125.1 532.9,131.7 533.1,125.1 533.2,122.0 533.4,130.2 533.6,128.8 533.8,121.1 534.0,126.5 534.1,132.3 534.3,123.0 534.5,123.0 534.7,131.4 534.9,126.5 535.0,120.9 535.2,129.0 535.4,130.5 535.6,120.9 535.7,125.5 535.9,131.6 536.1,124.2 536.3,122.2 536.5,130.7 536.6,127.9 536.8,120.4 537.0,127.5 537.2,131.2 537.4,122.1 537.5,124.1 537.7,132.0 537.9,126.0 538.1,121.4 538.2,130.1 538.4,129.7 538.6,121.3 538.8,126.4 539.0,131.4 539.1,123.8 539.3,123.3 539.5,130.8 539.7,127.2 539.8,121.4 540.0,127.9 540.2,130.0 540.4,122.0 540.6,125.9 540.7,131.5 540.9,125.1 541.1,122.3 541.3,130.8 541.5,128.8 541.6,120.7 541.8,127.6 542.0,130.5 542.2,122.5 542.3,124.3 542.5,131.3 542.7,126.0 542.9,121.4 543.1,129.4 543.2,129.4 543.4,121.0 543.6,126.1 543.8,131.0 543.9,124.1 544.1,122.9 544.3,131.4 544.5,127.0 544.7,121.9 544.8,128.4 545.0,130.2 545.2,122.2 545.4,124.9 545.6,131.3 545.7,125.0 545.9,122.9 546.1,130.8 546.3,127.8 546.4,121.4 546.6,127.8 546.8,130.0 547.0,123.4 547.2,123.8 547.3,130.9 547.5,126.1 547.7,121.7 547.9,129.7 548.1,129.3 548.2,122.1 548.4,126.0 548.6,131.1 548.8,124.4 548.9,123.4 549.1,130.2 549.3,127.6 549.5,121.7 549.7,128.0 549.8,130.1 550.0,122.5 550.2,124.7 550.4,131.2 550.5,125.2 550.7,121.8 550.9,130.1 551.1,128.5 551.3,122.2 551.4,126.2 551.6,131.0 551.8,123.5 552.0,123.6 552.2,131.0 552.3,126.5 552.5,122.4 552.7,129.3 552.9,129.3 553.0,122.2 553.2,126.0 553.4,130.7 553.6,124.2 553.8,122.7 553.9,130.6 554.1,127.3 554.3,122.3 554.5,128.5 554.6,130.2 554.8,122.8 555.0,124.7 555.2,131.1 555.4,125.0 555.5,122.5 555.7,129.4 555.9,128.6 556.1,122.1 556.3,126.9 556.4,129.9 556.6,123.7 556.8,123.7 557.0,130.5 557.1,127.2 557.3,122.2 557.5,128.9 557.7,129.3 557.9,122.7 558.0,126.0 558.2,130.2 558.4,125.3 558.6,122.7 558.8,130.0 558.9,127.3 559.1,121.9 559.3,127.8 559.5,130.1 559.6,123.0 559.8,124.7 560.0,130.3 560.2,126.5 560.4,123.4 560.5,128.9 560.7,128.0 560.9,122.8 561.1,126.8 561.2,130.1 561.4,124.0 561.6,123.7 561.8,130.2 562.0,127.5 562.1,122.0 562.3,128.4 562.5,128.7 562.7,123.8 562.9,125.4 563.0,130.4 563.2,125.5 563.4,123.0 563.6,129.0 563.7,127.9 563.9,122.4 564.1,127.6 564.3,129.9 564.5,123.8 564.6,124.8 564.8,129.9 565.0,126.5 565.2,122.6 565.3,128.4 565.5,128.6 565.7,123.3 565.9,127.2 566.1,130.0 566.2,124.7 566.4,123.9 566.6,130.1 566.8,127.0 567.0,122.8 567.1,127.9 567.3,129.1 567.5,123.2 567.7,125.0 567.8,130.3 568.0,125.1 568.2,123.3 568.4,129.3 568.6,128.2 568.7,122.3 568.9,126.9 569.1,129.8 569.3,123.9 569.4,124.6 569.6,130.0 569.8,126.7 570.0,123.0 570.2,128.5 570.3,128.6 570.5,122.8 570.7,126.6 570.9,130.2 571.1,124.7 571.2,123.7 571.4,129.2 571.6,126.8 571.8,123.8 571.9,127.5 572.1,129.0 572.3,123.4 572.5,125.5 572.7,129.6 572.8,125.2 573.0,122.9 573.2,128.8 573.4,128.4 573.6,123.1 573.7,126.6 573.9,129.3 574.1,123.5 574.3,124.6 574.4,130.0 574.6,126.6 574.8,123.0 575.0,128.5 575.2,128.9 575.3,123.7 575.5,125.5 575.7,129.6 575.9,125.1 576.0,123.7 576.2,128.9 576.4,127.6 576.6,122.9 576.8,127.3 576.9,129.8 577.1,124.3 577.3,125.1 577.5,129.4 577.7,125.9 577.8,123.9 578.0,128.5 578.2,128.6 578.4,123.1 578.5,126.7 578.7,129.4 578.9,124.7 579.1,124.2 579.3,130.2 579.4,126.9 579.6,123.1 579.8,128.2 580.0,128.0 580.1,123.5 580.3,126.1 580.5,129.1 580.7,125.2 580.9,123.8 581.0,129.2 581.2,127.5 581.4,123.1 581.6,127.2 581.8,129.2 581.9,124.4 582.1,124.9 582.3,128.7 582.5,126.2 582.6,123.4 582.8,129.4 583.0,128.5 583.2,123.3 583.4,125.9 583.5,129.2 583.7,124.5 583.9,124.4 584.1,128.7 584.3,127.1 584.4,123.3 584.6,127.9 584.8,128.6 585.0,123.8 585.1,125.8 585.3,129.6 585.5,125.5 585.7,124.4 585.9,128.2 586.0,127.1 586.2,123.7 586.4,126.4 586.6,128.4 586.7,124.2 586.9,125.3 587.1,129.1 587.3,125.9 587.5,123.3 587.6,128.2 587.8,128.2 588.0,122.9 588.2,125.8 588.4,129.0 588.5,125.3 588.7,124.3 588.9,128.5 589.1,126.5 589.2,123.3 589.4,127.5 589.6,128.1 589.8,124.3 590.0,125.8 590.1,129.3 590.3,125.8 590.5,123.4 590.7,129.1 590.8,127.4 591.0,124.1 591.2,127.3 591.4,128.8 591.6,125.1 591.7,125.1 591.9,128.2 592.1,126.3 592.3,123.7 592.5,128.3 592.6,127.8 592.8,124.5 593.0,126.1 593.2,129.0 593.3,124.3 593.5,124.6 593.7,128.8 593.9,127.1 594.1,124.2 594.2,127.1 594.4,127.9 594.6,124.4 594.8,125.3 595.0,129.1 595.1,125.6 595.3,124.0 595.5,128.8 595.7,127.8 595.8,123.5 596.0,127.4 596.2,128.7 596.4,124.9 596.6,125.3 596.7,128.8 596.9,126.3 597.1,123.8 597.3,128.7 597.4,127.4 597.6,124.3 597.8,125.7 598.0,128.9 598.2,125.5 598.3,124.6 598.5,127.4 598.7,126.4 598.9,124.1 599.1,127.1 599.2,128.0 599.4,124.3 599.6,125.5 599.8,128.9 599.9,126.3 600.1,124.0 600.3,127.7 600.5,126.7 600.7,124.2 600.8,126.3 601.0,128.6 601.2,124.5 601.4,125.0 601.5,128.9 601.7,127.1 601.9,123.8 602.1,127.5 602.3,127.6 602.4,124.5 602.6,125.0 602.8,129.0 603.0,125.3 603.2,124.4 603.3,127.9 603.5,127.2 603.7,124.4 603.9,127.4 604.0,128.1 604.2,124.6 604.4,125.3 604.6,129.0 604.8,126.0 604.9,124.3 605.1,127.7 605.3,128.1 605.5,124.5 605.6,125.8 605.8,128.7 606.0,125.2 606.2,125.1 606.4,129.0 606.5,127.0 606.7,124.1 606.9,127.7 607.1,127.3 607.3,125.0 607.4,126.6 607.6,128.7 607.8,126.1 608.0,124.1 608.1,128.3 608.3,127.0 608.5,124.7 608.7,126.6 608.9,128.1 609.0,124.4 609.2,125.3 609.4,128.3 609.6,126.1 609.8,124.1 609.9,127.9 610.1,127.4 610.3,124.6 610.5,126.1 610.6,128.6 610.8,125.5 611.0,125.2 611.2,127.8 611.4,127.3 611.5,124.9 611.7,127.0 611.9,128.4 612.1,124.8 612.2,126.0 612.4,127.7 612.6,126.0 612.8,124.9 613.0,128.1 613.1,127.1 613.3,124.2 613.5,127.3 613.7,128.1 613.9,124.3 614.0,126.0 614.2,128.2 614.4,126.0 614.6,124.4 614.7,127.7 614.9,128.5 615.1,124.1 615.3,126.4 615.5,128.4 615.6,125.0 615.8,125.8 616.0,128.2 616.2,126.6 616.3,124.2 616.5,126.9 616.7,127.2 616.9,124.7 617.1,125.4 617.2,128.1 617.4,126.5 617.6,125.0 617.8,127.1 618.0,127.4 618.1,124.5 618.3,127.1 618.5,128.3 618.7,125.6 618.8,125.6 619.0,128.0 619.2,126.7 619.4,124.8 619.6,127.0 619.7,127.5 619.9,124.5 620.1,125.8 620.3,128.5 620.5,125.7 620.6,125.8 620.8,127.7 621.0,126.9 621.2,124.5 621.3,127.4 621.5,127.7 621.7,124.7 621.9,125.6 622.1,128.8 622.2,126.3 622.4,124.8 622.6,128.0 622.8,127.2 622.9,124.2 623.1,126.8 623.3,128.2 623.5,125.5 623.7,124.9 623.8,127.8 624.0,125.5 624.2,124.6 624.4,127.7 624.6,127.5 624.7,124.9 624.9,126.0 625.1,127.7 625.3,125.8 625.4,124.8 625.6,128.7 625.8,126.5 626.0,124.6 626.2,127.0 626.3,128.1 626.5,124.6 626.7,125.9 626.9,127.7 627.0,126.3 627.2,124.8 627.4,127.4 627.6,126.6 627.8,124.6 627.9,126.4 628.1,128.1 628.3,125.5 628.5,125.5 628.7,127.3 628.8,126.0 629.0,125.0 629.2,127.1 629.4,128.1 629.5,124.6 629.7,125.8 629.9,128.0 630.1,126.1 630.3,124.8 630.4,127.5 630.6,127.0 630.8,124.4 631.0,127.3 631.2,128.1 631.3,125.5 631.5,125.6 631.7,127.4 631.9,126.2 632.0,124.4 632.2,127.4 632.4,127.5 632.6,124.5 632.8,126.2 632.9,127.5 633.1,125.2 633.3,125.6 633.5,128.8 633.6,126.6 633.8,125.2 634.0,127.6 634.2,128.2 634.4,125.3 634.5,126.0 634.7,128.0 634.9,125.2 635.1,125.5 635.3,127.6 635.4,127.5 635.6,125.2 635.8,126.6 636.0,127.7 636.1,125.8 636.3,125.2 636.5,128.3 636.7,126.0 636.9,124.9 637.0,127.0 637.2,127.1 637.4,125.1 637.6,126.1 637.7,128.4 637.9,126.1 638.1,125.4 638.3,127.3 638.5,127.0 638.6,125.1 638.8,126.3 639.0,127.6 639.2,125.2 639.4,126.3 639.5,127.9 639.7,125.8 639.9,125.1 640.1,127.2 640.2,126.9 640.4,124.5 640.6,126.3 640.8,127.8 641.0,125.1 641.1,124.9 641.3,127.7 641.5,126.8 641.7,124.9 641.8,127.3 642.0,126.4 642.2,124.8 642.4,126.6 642.6,127.9 642.7,125.2 642.9,125.7 643.1,127.8 643.3,126.8 643.5,125.0 643.6,127.1 643.8,127.5 644.0,125.8 644.2,126.1 644.3,128.1 644.5,126.2 644.7,125.2 644.9,127.4 645.1,127.2 645.2,125.2 645.4,126.4 645.6,127.4 645.8,125.2 646.0,126.0 646.1,127.6 646.3,126.2 646.5,125.1 646.7,126.9 646.8,127.4 647.0,125.0 647.2,126.7 647.4,127.6 647.6,126.0 647.7,125.6 647.9,127.7 648.1,126.5 648.3,124.7 648.4,126.7 648.6,127.2 648.8,125.5 649.0,126.3 649.2,128.4 649.3,126.2 649.5,125.2 649.7,127.3 649.9,127.1 650.1,124.7 650.2,126.8 650.4,128.0 650.6,124.9 650.8,125.3 650.9,127.8 651.1,127.3 651.3,125.4 651.5,127.1 651.7,127.4 651.8,125.2 652.0,126.2 652.2,127.3 652.4,126.4 652.5,125.5 652.7,127.7 652.9,126.6 653.1,125.0 653.3,126.4 653.4,127.5 653.6,124.1 653.8,125.6 654.0,128.0 654.2,126.3 654.3,125.4 654.5,126.9 654.7,126.8 654.9,125.1 655.0,126.4 655.2,127.9 655.4,125.2 655.6,125.2 655.8,128.6 655.9,126.6 656.1,125.5 656.3,127.1 656.5,126.7 656.7,125.8 656.8,126.4 657.0,126.8 657.2,126.2 657.4,125.5 657.5,126.9 657.7,127.1 657.9,125.2 658.1,126.5 658.3,127.0 658.4,126.2 658.6,126.1 658.8,127.6 659.0,126.0 659.1,125.5 659.3,126.9 659.5,127.3 659.7,125.4 659.9,125.8 660.0,127.7 660.2,124.7 660.4,125.4 660.6,127.0 660.8,126.4 660.9,125.8 661.1,127.4 661.3,127.2 661.5,125.8 661.6,126.2 661.8,127.7 662.0,126.4 662.2,125.0 662.4,127.0 662.5,126.9 662.7,125.0 662.9,126.9 663.1,127.1 663.2,126.0 663.4,125.2 663.6,127.8 663.8,126.6 664.0,124.9 664.1,126.8 664.3,127.5 664.5,125.1 664.7,126.3 664.9,127.5 665.0,125.7 665.2,125.3 665.4,127.0 665.6,126.5 665.7,125.1 665.9,126.8 666.1,126.8 666.3,125.8 666.5,125.3 666.6,126.7 666.8,125.4 667.0,125.5 667.2,126.4 667.4,126.5 667.5,124.9 667.7,125.3 667.9,127.4 668.1,125.5 668.2,126.2 668.4,128.2 668.6,126.3 668.8,125.2 669.0,126.7 669.1,127.0 669.3,126.2 669.5,126.1 669.7,127.1 669.8,125.4 670.0,125.9 670.2,127.6 670.4,127.0 670.6,125.6 670.7,127.3 670.9,127.6 671.1,125.0 671.3,126.3 671.5,128.1 671.6,126.3 671.8,125.6 672.0,126.9 672.2,127.2 672.3,125.4 672.5,126.7 672.7,127.8 672.9,125.7 673.1,125.7 673.2,127.4 673.4,126.3 673.6,125.7 673.8,126.9 673.9,127.1 674.1,125.1 674.3,126.9 674.5,127.6 674.7,125.9 674.8,125.8 675.0,127.2 675.2,126.5 675.4,125.2 675.6,127.3 675.7,127.7 675.9,126.7 676.1,125.7 676.3,127.3 676.4,125.8 676.6,125.5 676.8,127.5 677.0,126.6 677.2,125.9 677.3,126.4 677.5,127.4 677.7,125.6 677.9,125.4 678.0,127.5 678.2,126.8 678.4,125.4 678.6,127.0 678.8,126.8 678.9,125.4 679.1,125.6 679.3,126.4 679.5,126.4 679.7,125.8 679.8,127.0 680.0,126.6 680.2,125.6 680.4,127.2 680.5,126.3 680.7,125.7 680.9,126.3 681.1,128.2 681.3,125.8 681.4,125.4 681.6,127.0 681.8,127.4 682.0,125.6 682.2,126.5 682.3,128.2 682.5,125.0 682.7,125.6 682.9,127.4 683.0,126.9 683.2,125.7 683.4,125.9 683.6,127.0 683.8,126.1 683.9,125.8 684.1,127.1 684.3,126.0 684.5,125.7 684.6,127.1 684.8,126.7 685.0,125.6 685.2,127.0 685.4,127.6 685.5,125.8 685.7,126.5 685.9,127.3 686.1,126.5 686.3,125.3 686.4,126.8 686.6,127.1 686.8,125.7 687.0,126.1 687.1,126.9 687.3,126.4 687.5,126.3 687.7,127.4 687.9,127.5 688.0,125.8 688.2,126.4 688.4,126.8 688.6,125.1 688.7,126.1 688.9,127.2 689.1,126.4 689.3,125.8 689.5,126.9 689.6,126.5 689.8,125.4 690.0,127.2 690.2,127.0 690.4,125.9 690.5,126.1 690.7,127.2 690.9,126.1 691.1,125.5 691.2,127.1 691.4,125.8 691.6,125.9 691.8,126.1 692.0,126.8 692.1,126.4 692.3,125.5 692.5,127.4 692.7,126.8 692.9,125.8 693.0,126.0 693.2,127.6 693.4,125.6 693.6,126.0 693.7,128.0 693.9,125.6 694.1,125.9 694.3,127.1 694.5,126.8 694.6,125.9 694.8,126.7 695.0,127.2 695.2,126.3 695.3,125.9 695.5,126.7 695.7,126.9 695.9,126.2 696.1,126.8 696.2,126.9 696.4,125.4 696.6,126.6 696.8,128.1 697.0,125.8 697.1,125.5 697.3,126.5 697.5,127.0 697.7,125.4 697.8,126.2 698.0,127.8 698.2,125.4 698.4,125.5 698.6,127.0 698.7,126.1 698.9,125.4 699.1,127.0 699.3,127.4 699.4,126.0 699.6,126.5 699.8,127.5 700.0,125.6 700.2,126.0 700.3,127.2 700.5,127.2 700.7,125.5 700.9,127.0 701.1,126.4 701.2,126.4 701.4,126.1 701.6,127.3 701.8,126.3 701.9,125.1 702.1,126.6 702.3,127.0 702.5,125.1 702.7,126.8 702.8,126.8 703.0,126.5 703.2,126.1 703.4,127.3 703.6,126.5 703.7,126.3 703.9,127.5 704.1,126.9 704.3,125.5 704.4,126.3 704.6,127.3 704.8,126.6 705.0,126.0 705.2,127.3 705.3,126.8 705.5,125.6 705.7,126.6 705.9,126.8 706.0,125.9 706.2,126.5 706.4,127.2 706.6,126.3 706.8,126.4 706.9,127.1 707.1,127.3 707.3,126.4 707.5,126.8 707.7,127.3 707.8,125.7 708.0,126.1 708.2,126.9 708.4,125.9 708.5,125.7 708.7,126.7 708.9,127.1 709.1,125.5 709.3,126.3 709.4,127.1 709.6,126.5 709.8,126.2 710.0,127.3 710.1,126.5 710.3,125.3 710.5,127.2 710.7,127.1 710.9,126.0 711.0,125.3 711.2,127.2 711.4,126.5 711.6,125.5 711.8,127.3 711.9,126.5 712.1,126.3 712.3,125.7 712.5,127.1 712.6,126.1 712.8,126.5 713.0,127.1 713.2,126.4 713.4,126.0 713.5,126.3 713.7,127.0 713.9,125.8 714.1,126.2 714.2,126.6 714.4,126.3 714.6,125.9 714.8,126.9 715.0,126.4 715.1,126.4 715.3,126.2 715.5,127.0 715.7,126.2 715.9,126.1 716.0,127.8 716.2,126.6 716.4,125.7 716.6,126.4 716.7,126.8 716.9,125.6 717.1,126.5 717.3,126.7 717.5,126.2 717.6,125.8 717.8,127.1 718.0,126.8 718.2,126.1 718.4,126.9 718.5,126.5 718.7,124.7 718.9,126.3 719.1,127.3 719.2,126.0 719.4,125.7 719.6,127.1 719.8,125.9 720.0,125.4 720.1,126.2 720.3,126.9 720.5,125.9 720.7,125.7 720.8,127.5 721.0,126.6 721.2,125.8 721.4,127.3 721.6,126.2 721.7,126.0 721.9,126.5 722.1,126.9 722.3,125.5 722.5,126.0 722.6,127.2 722.8,126.8 723.0,125.7 723.2,126.9 723.3,126.0 723.5,125.4 723.7,127.4 723.9,127.4 724.1,126.1 724.2,125.0 724.4,127.6 724.6,126.8 724.8,125.3 724.9,126.8 725.1,126.9 725.3,126.2 725.5,125.8 725.7,127.4 725.8,126.4 726.0,126.4 726.2,126.4 726.4,126.5 726.6,125.9 726.7,126.3 726.9,127.0 727.1,126.2 727.3,125.9 727.4,126.8 727.6,126.5 727.8,126.0 728.0,126.8 728.2,127.0 728.3,125.8 728.5,126.2 728.7,126.3 728.9,126.3 729.1,125.9 729.2,127.1 729.4,126.6 729.6,126.0 729.8,126.8 729.9,126.9 730.1,125.4 730.3,126.4 730.5,127.2 730.7,126.4 730.8,125.8 731.0,126.2 731.2,127.0 731.4,125.9 731.5,126.6 731.7,127.3 731.9,126.3 732.1,126.4 732.3,126.7 732.4,126.2 732.6,126.0 732.8,126.8 733.0,126.4 733.2,126.0 733.3,125.7 733.5,128.0 733.7,126.4 733.9,126.3 734.0,127.0 734.2,126.4 734.4,125.5 734.6,126.5 734.8,126.6 734.9,126.5 735.1,126.0 735.3,127.0 735.5,127.1 735.6,125.5 735.8,126.9 736.0,126.6 736.2,126.2 736.4,126.2 736.5,126.7 736.7,126.2 736.9,126.2 737.1,126.6 737.3,126.5 737.4,126.0 737.6,126.5 737.8,126.9 738.0,126.1 738.1,125.9 738.3,126.3 738.5,126.5 738.7,126.0 738.9,127.1 739.0,127.2 739.2,125.5 739.4,126.7 739.6,126.8 739.8,126.6 739.9,126.3 740.1,126.7 740.3,126.3 740.5,125.8 740.6,126.5 740.8,126.7 741.0,125.6 741.2,125.7 741.4,126.7 741.5,126.3 741.7,126.4 741.9,127.0 742.1,126.7 742.2,125.4 742.4,127.1 742.6,127.1 742.8,126.4 743.0,125.9 743.1,127.2 743.3,127.0 743.5,126.7 743.7,126.6 743.9,127.3 744.0,125.5 744.2,126.0 744.4,127.3 744.6,126.3 744.7,126.1 744.9,127.4 745.1,126.9 745.3,126.1 745.5,126.6 745.6,126.7 745.8,126.7 746.0,126.2 746.2,127.0 746.3,126.4 746.5,126.2 746.7,126.4 746.9,126.0 747.1,126.1 747.2,126.6 747.4,127.4 747.6,126.2 747.8,125.9 748.0,126.9 748.1,126.3 748.3,126.0 748.5,126.7 748.7,126.5 748.8,125.7 749.0,127.1 749.2,127.0 749.4,127.2 749.6,126.1 749.7,127.0 749.9,126.7 750.1,125.4 750.3,126.5 750.4,126.4 750.6,125.8 750.8,125.6 751.0,127.0 751.2,126.4 751.3,126.0 751.5,125.9 751.7,126.8 751.9,125.9 752.1,126.0 752.2,126.5 752.4,126.3 752.6,125.5 752.8,126.7 752.9,125.9 753.1,125.7 753.3,126.4 753.5,127.0 753.7,125.5 753.8,126.6 754.0,126.8 754.2,125.8 754.4,126.2 754.6,126.8 754.7,126.5 754.9,125.9 755.1,126.3 755.3,127.3 755.4,126.2 755.6,125.5 755.8,127.6 756.0,126.5 756.2,125.7 756.3,127.4 756.5,126.9 756.7,126.3 756.9,125.9 757.0,127.1 757.2,125.9 757.4,126.4 757.6,126.8 757.8,126.8 757.9,126.5 758.1,126.8 758.3,127.2 758.5,126.1 758.7,126.3 758.8,126.7 759.0,125.7 759.2,125.5 759.4,127.2 759.5,126.8 759.7,125.3 759.9,126.5 760.1,126.9 760.3,125.7 760.4,126.4 760.6,126.5 760.8,126.4 761.0,125.5 761.1,126.7 761.3,126.3 761.5,125.6 761.7,125.8 761.9,127.1 762.0,126.3 762.2,126.6 762.4,127.4 762.6,126.6 762.8,125.9 762.9,126.1 763.1,126.9 763.3,125.3 763.5,126.2 763.6,126.5 763.8,126.3 764.0,126.5 764.2,126.2 764.4,126.7 764.5,125.6 764.7,126.6 764.9,126.6 765.1,126.2 765.3,126.3 765.4,126.9 765.6,126.1 765.8,126.5 766.0,127.0 766.1,126.3 766.3,126.3 766.5,126.3 766.7,127.3 766.9,126.3 767.0,125.7 767.2,126.7 767.4,126.4 767.6,126.1 767.7,126.5 767.9,127.4 768.1,126.7 768.3,126.1 768.5,127.5 768.6,125.8 768.8,125.8 769.0,127.2 769.2,127.4 769.4,126.9 769.5,126.4 769.7,126.8 769.9,125.6 770.1,126.0 770.2,126.2 770.4,126.1 770.6,126.4 770.8,126.7 771.0,127.0 771.1,126.2 771.3,126.6 771.5,126.9 771.7,125.7 771.8,126.3 772.0,127.2 772.2,126.7 772.4,126.2 772.6,126.8 772.7,126.8 772.9,126.3 773.1,125.9 773.3,126.5 773.5,126.6 773.6,125.7 773.8,126.2 774.0,126.6 774.2,126.3 774.3,126.3 774.5,126.8 774.7,126.0 774.9,126.6 775.1,126.0 775.2,126.5 775.4,125.8 775.6,126.8 775.8,126.6 776.0,126.9 776.1,126.8 776.3,127.7 776.5,125.9 776.7,126.6 776.8,127.3 777.0,126.1 777.2,126.2 777.4,126.6 777.6,126.3 777.7,125.9 777.9,126.1 778.1,126.5 778.3,127.0 778.4,125.6 778.6,126.2 778.8,125.9 779.0,126.8 779.2,126.7 779.3,126.9 779.5,125.5 779.7,126.0 779.9,126.1 780.1,126.2 780.2,126.3 780.4,127.0 780.6,126.8 780.8,125.6 780.9,126.6 781.1,127.4" fill="none" stroke="#000" stroke-width="0.3" stroke-opacity="0.55" stroke-linejoin="round" clip-path="url(#c1)"/>
<polyline points="360.5,54.6 362.7,195.7 365.0,59.5 367.2,191.0 369.5,64.0 371.7,186.6 374.0,68.2 376.2,182.6 378.5,72.2 380.7,178.8 383.0,75.8 385.2,175.3 387.5,79.2 389.7,172.0 392.0,82.4 394.2,168.9 396.5,85.3 398.7,166.1 401.0,88.1 403.2,163.4 405.5,90.6 407.7,161.0 410.0,93.0 412.2,158.7 414.5,95.2 416.7,156.6 419.0,97.3 421.2,157.8 423.5,96.3 425.7,155.2 428.0,98.7 430.2,152.9 432.5,100.9 434.7,150.9 437.0,102.8 439.2,149.1 441.5,104.6 443.7,147.4 446.0,106.2 448.2,145.9 450.5,107.6 452.7,144.5 455.0,108.9 457.2,143.3 459.5,110.1 461.7,142.1 464.0,111.2 466.2,141.1 468.5,112.2 470.7,140.1 473.0,113.1 475.2,139.2 477.5,114.0 479.7,138.4 482.0,114.8 484.2,137.6 486.5,115.5 488.7,136.9 491.0,116.2 493.2,136.2 495.5,116.9 497.7,135.6 500.0,117.5 502.2,135.0 504.5,118.0 506.7,134.5 509.0,118.5 511.2,134.0 513.5,119.0 515.7,133.6 518.0,119.5 520.2,133.1 522.5,119.9 524.7,132.7 527.0,120.3 529.2,132.3 531.5,120.6 533.7,132.0 536.0,121.0 538.2,131.7 540.5,121.3 542.7,131.3 545.0,121.6 547.2,131.1 549.5,121.9 551.7,130.8 554.0,122.1 556.2,130.5 558.5,122.4 560.7,130.3 563.0,122.6 565.2,130.1 567.5,122.8 569.7,129.9 572.0,123.0 574.2,129.7 576.5,123.2 578.7,129.5 581.0,123.4 583.2,129.3 585.5,123.6 587.7,129.2 590.0,123.7 592.2,129.0 594.5,123.9 596.7,128.9 599.0,124.0 601.2,128.7 603.5,124.1 605.7,128.6 608.0,124.2 610.2,128.5 612.5,124.4 614.7,128.4 617.0,124.5 619.2,128.3 621.5,124.6 623.7,128.2 626.0,124.7 628.2,128.1 630.5,124.7 632.7,128.0 635.0,124.8 637.2,127.9" fill="none" stroke="#000" stroke-width="0.5" stroke-opacity="0.6" stroke-linejoin="round" clip-path="url(#c1)"/>
<polyline points="362.7,76.9 365.0,174.2 367.2,80.2 369.5,171.0 371.7,83.4 374.0,168.0 376.2,86.3 378.5,165.1 380.7,89.0 383.0,162.5 385.2,91.5 387.5,160.1 389.7,93.8 392.0,157.9 394.2,96.0 396.5,155.7 398.7,98.1 401.0,153.8 403.2,99.9 405.5,152.0 407.7,101.7 410.0,150.3 412.2,103.3 414.5,148.7 416.7,104.9 419.0,147.2 421.2,104.0 423.5,147.9 425.7,105.8 428.0,146.2 430.2,107.4 432.5,144.6 434.7,108.9 437.0,143.2 439.2,110.2 441.5,142.0 443.7,111.4 446.0,140.9 448.2,112.5 450.5,139.8 452.7,113.4 455.0,138.9 457.2,114.3 459.5,138.0 461.7,115.2 464.0,137.3 466.2,115.9 468.5,136.5 470.7,116.6 473.0,135.9 475.2,117.2 477.5,135.3 479.7,117.8 482.0,134.7 484.2,118.4 486.5,134.2 488.7,118.9 491.0,133.7 493.2,119.4 495.5,133.2 497.7,119.8 500.0,132.8 502.2,120.2 504.5,132.4 506.7,120.6 509.0,132.0 511.2,121.0 513.5,131.7 515.7,121.3 518.0,131.4 520.2,121.6 522.5,131.1 524.7,121.9 527.0,130.8 529.2,122.2 531.5,130.5 533.7,122.4 536.0,130.3 538.2,122.6 540.5,130.0 542.7,122.9 545.0,129.8 547.2,123.1 549.5,129.6 551.7,123.3 554.0,129.4 556.2,123.4 558.5,129.3 560.7,123.6 563.0,129.1 565.2,123.8 567.5,129.0 569.7,123.9 572.0,128.8 574.2,124.1 576.5,128.7 578.7,124.2 581.0,128.5 583.2,124.3 585.5,128.4 587.7,124.4 590.0,128.3 592.2,124.5 594.5,128.2 596.7,124.6 599.0,128.1 601.2,124.7 603.5,128.0 605.7,124.8 608.0,127.9 610.2,124.9 612.5,127.9 614.7,125.0 617.0,127.8 619.2,125.1 621.5,127.7 623.7,125.1 626.0,127.6 628.2,125.2 630.5,127.6 632.7,125.3 635.0,127.5 637.2,125.3" fill="none" stroke="#000" stroke-width="0.7" stroke-opacity="0.85" stroke-linejoin="round" clip-path="url(#c1)"/>
<polyline points="361.0,81.4 362.1,170.7 363.3,82.9 364.4,169.1 365.5,84.4 366.6,167.6 367.8,85.9 368.9,166.2 370.0,87.3 371.1,164.9 372.3,88.6 373.4,163.5 374.5,89.9 375.6,162.3 376.8,91.2 377.9,161.0 379.0,92.4 380.1,159.8 381.3,93.5 382.4,158.7 383.5,94.7 384.6,157.6 385.8,95.8 386.9,156.5 388.0,96.8 389.1,155.5 390.3,97.8 391.4,154.5 392.5,98.8 393.6,153.5 394.8,99.7 395.9,152.6 397.0,100.6 398.1,151.7 399.3,101.5 400.4,150.9 401.5,102.3 402.6,150.0 403.8,103.2 404.9,149.2 406.0,103.9 407.1,148.5 408.3,104.7 409.4,147.7 410.5,105.4 411.6,147.0 412.8,106.1 413.9,146.3 415.0,106.8 416.1,145.6 417.3,107.5 418.4,145.0 419.5,105.9 420.6,146.5 421.8,106.8 422.9,145.6 424.0,107.6 425.1,144.8 426.3,108.4 427.4,144.1 428.5,109.1 429.6,143.4 430.8,109.8 431.9,142.7 433.0,110.4 434.1,142.1 435.3,111.0 436.4,141.5 437.5,111.6 438.6,140.9 439.8,112.2 440.9,140.3 442.0,112.7 443.1,139.8 444.3,113.2 445.4,139.3 446.5,113.7 447.6,138.9 448.8,114.2 449.9,138.4 451.0,114.6 452.1,138.0 453.3,115.0 454.4,137.6 455.5,115.4 456.6,137.2 457.8,115.8 458.9,136.8 460.0,116.2 461.1,136.4 462.3,116.5 463.4,136.1 464.5,116.9 465.6,135.8 466.8,117.2 467.9,135.5 469.0,117.5 470.1,135.2 471.3,117.8 472.4,134.9 473.5,118.1 474.6,134.6 475.8,118.4 476.9,134.3 478.0,118.6 479.1,134.0 480.3,118.9 481.4,133.8 482.5,119.1 483.6,133.6 484.8,119.4 485.9,133.3 487.0,119.6 488.1,133.1 489.3,119.8 490.4,132.9 491.5,120.0 492.6,132.7 493.8,120.2 494.9,132.5 496.0,120.4 497.1,132.3 498.3,120.6 499.4,132.1 500.5,120.8 501.6,131.9 502.8,121.0 503.9,131.7 505.0,121.1 506.1,131.6 507.3,121.3 508.4,131.4 509.5,121.5 510.6,131.3 511.8,121.6 512.9,131.1 514.0,121.8 515.1,131.0 516.3,121.9 517.4,130.8 518.5,122.0 519.6,130.7 520.8,122.2 521.9,130.6 523.0,122.3 524.1,130.4 525.3,122.4 526.4,130.3 527.5,122.6 528.6,130.2 529.8,122.7 530.9,130.1 532.0,122.8 533.1,130.0 534.3,122.9 535.4,129.9 536.5,123.0 537.6,129.8 538.8,123.1 539.9,129.7 541.0,123.2 542.1,129.6 543.3,123.3 544.4,129.5 545.5,123.4 546.6,129.4 547.8,123.5 548.9,129.3 550.0,123.6 551.1,129.2 552.3,123.6 553.4,129.1 554.5,123.7 555.6,129.0 556.8,123.8 557.9,129.0 559.0,123.9 560.1,128.9 561.3,123.9 562.4,128.8 563.5,124.0 564.6,128.7 565.8,124.1 566.9,128.7 568.0,124.2 569.1,128.6 570.3,124.2 571.4,128.5 572.5,124.3 573.6,128.5 574.8,124.3 575.9,128.4 577.0,124.4 578.1,128.4 579.3,124.5 580.4,128.3 581.5,124.5 582.6,128.3 583.8,124.6 584.9,128.2 586.0,124.6 587.1,128.2 588.3,124.7 589.4,128.1 590.5,124.7 591.6,128.1 592.8,124.8 593.9,128.0 595.0,124.8 596.1,128.0 597.3,124.8 598.4,127.9 599.5,124.9 600.6,127.9 601.8,124.9 602.9,127.9 604.0,125.0 605.1,127.8 606.3,125.0 607.4,127.8 608.5,125.0 609.6,127.7 610.8,125.1 611.9,127.7 613.0,125.1 614.1,127.7 615.3,125.2 616.4,127.6 617.5,125.2 618.6,127.6 619.8,125.2 620.9,127.6 622.0,125.2 623.1,127.5 624.3,125.3 625.4,127.5 626.5,125.3 627.6,127.5 628.8,125.3 629.9,127.5 631.0,125.4 632.1,127.4 633.3,125.4 634.4,127.4 635.5,125.4 636.6,127.4 637.8,125.4" fill="none" stroke="#000" stroke-width="0.5" stroke-opacity="0.6" stroke-linejoin="round" clip-path="url(#c1)"/>
<rect x="68" y="34.8" width="713.30" height="183.20" fill="none" stroke="#000" stroke-width="1.7"/>
<text x="67.10" y="243.00" font-size="28.5" letter-spacing="0.6" text-anchor="middle" fill="#000" stroke="#000" stroke-width="0.25">0</text>
<text x="156.26" y="243.00" font-size="28.5" letter-spacing="0.6" text-anchor="middle" fill="#000" stroke="#000" stroke-width="0.25">0.5</text>
<text x="245.43" y="243.00" font-size="28.5" letter-spacing="0.6" text-anchor="middle" fill="#000" stroke="#000" stroke-width="0.25">1</text>
<text x="334.59" y="243.00" font-size="28.5" letter-spacing="0.6" text-anchor="middle" fill="#000" stroke="#000" stroke-width="0.25">1.5</text>
<text x="423.75" y="243.00" font-size="28.5" letter-spacing="0.6" text-anchor="middle" fill="#000" stroke="#000" stroke-width="0.25">2</text>
<text x="512.91" y="243.00" font-size="28.5" letter-spacing="0.6" text-anchor="middle" fill="#000" stroke="#000" stroke-width="0.25">2.5</text>
<text x="602.07" y="243.00" font-size="28.5" letter-spacing="0.6" text-anchor="middle" fill="#000" stroke="#000" stroke-width="0.25">3</text>
<text x="691.24" y="243.00" font-size="28.5" letter-spacing="0.6" text-anchor="middle" fill="#000" stroke="#000" stroke-width="0.25">3.5</text>
<text x="780.40" y="243.00" font-size="28.5" letter-spacing="0.6" text-anchor="middle" fill="#000" stroke="#000" stroke-width="0.25">4</text>
<text x="61.50" y="225.00" font-size="27.5" letter-spacing="1" text-anchor="end" fill="#000" stroke="#000" stroke-width="0.25">-2</text>
<text x="61.50" y="180.00" font-size="27.5" letter-spacing="1" text-anchor="end" fill="#000" stroke="#000" stroke-width="0.25">-1</text>
<text x="61.50" y="135.00" font-size="27.5" letter-spacing="1" text-anchor="end" fill="#000" stroke="#000" stroke-width="0.25">0</text>
<text x="61.50" y="91.00" font-size="27.5" letter-spacing="1" text-anchor="end" fill="#000" stroke="#000" stroke-width="0.25">1</text>
<text x="61.50" y="47.00" font-size="27.5" letter-spacing="1" text-anchor="end" fill="#000" stroke="#000" stroke-width="0.25">2</text>
<text x="419.94" y="19.10" font-size="26.4" letter-spacing="0.87" text-anchor="middle" fill="#000" stroke="#000" stroke-width="0.25">Vibration signal of the track induced by rockfall</text>
<text x="415.44" y="278.00" font-size="26.4" letter-spacing="0.87" text-anchor="middle" fill="#000" stroke="#000" stroke-width="0.25">Time(s)</text>
<text x="21.78" y="130.40" font-size="25.5" letter-spacing="1.95" text-anchor="middle" fill="#000" stroke="#000" stroke-width="0.25" transform="rotate(-90 20.80 130.40)">Amp(mm)</text>
<rect x="908" y="34.8" width="713.00" height="183.20" fill="#fff"/>
<path d="M997.12 34.8V218M1086.25 34.8V218M1175.38 34.8V218M1264.50 34.8V218M1353.62 34.8V218M1442.75 34.8V218M1531.88 34.8V218M908 199.68H1621M908 181.36H1621M908 163.04H1621M908 144.72H1621M908 126.40H1621M908 108.08H1621M908 89.76H1621M908 71.44H1621M908 53.12H1621" stroke="#e2e2e2" stroke-width="0.6" stroke-dasharray="1.2 0.8" fill="none"/>
<path d="M997.12 34.8v7.5M997.12 218v-7.5M1086.25 34.8v7.5M1086.25 218v-7.5M1175.38 34.8v7.5M1175.38 218v-7.5M1264.50 34.8v7.5M1264.50 218v-7.5M1353.62 34.8v7.5M1353.62 218v-7.5M1442.75 34.8v7.5M1442.75 218v-7.5M1531.88 34.8v7.5M1531.88 218v-7.5M908 199.68h7.5M1621 199.68h-7.5M908 181.36h7.5M1621 181.36h-7.5M908 163.04h7.5M1621 163.04h-7.5M908 144.72h7.5M1621 144.72h-7.5M908 126.40h7.5M1621 126.40h-7.5M908 108.08h7.5M1621 108.08h-7.5M908 89.76h7.5M1621 89.76h-7.5M908 71.44h7.5M1621 71.44h-7.5M908 53.12h7.5M1621 53.12h-7.5" stroke="#777" stroke-width="0.7" fill="none"/>
<clipPath id="c2"><rect x="908" y="34.8" width="713" height="183.2"/></clipPath>
<polyline points="908.0,107.9 908.1,108.5 908.3,108.4 908.4,109.9 908.5,106.8 908.7,107.2 908.8,108.3 909.0,107.5 909.1,107.9 909.2,108.5 909.4,107.4 909.5,108.3 909.6,108.3 909.8,108.7 909.9,107.7 910.1,108.2 910.2,107.7 910.3,108.5 910.5,107.8 910.6,108.7 910.7,107.5 910.9,107.9 911.0,107.8 911.2,107.8 911.3,108.8 911.4,107.5 911.6,106.6 911.7,109.3 911.8,109.3 912.0,109.2 912.1,107.5 912.3,108.0 912.4,107.3 912.5,107.6 912.7,107.9 912.8,107.9 912.9,108.2 913.1,107.4 913.2,108.9 913.3,108.6 913.5,107.9 913.6,106.8 913.8,108.6 913.9,108.9 914.0,108.5 914.2,107.4 914.3,108.3 914.4,107.1 914.6,109.5 914.7,107.3 914.9,107.3 915.0,109.1 915.1,108.0 915.3,107.2 915.4,108.0 915.5,107.3 915.7,106.3 915.8,107.9 916.0,108.3 916.1,109.0 916.2,106.9 916.4,108.2 916.5,108.2 916.6,108.2 916.8,107.6 916.9,108.9 917.0,109.2 917.2,109.9 917.3,107.2 917.5,108.0 917.6,107.0 917.7,108.1 917.9,108.6 918.0,107.7 918.1,108.1 918.3,109.0 918.4,108.7 918.6,106.8 918.7,107.8 918.8,107.8 919.0,108.3 919.1,108.6 919.2,107.4 919.4,108.2 919.5,108.6 919.7,108.2 919.8,108.7 919.9,107.9 920.1,107.3 920.2,108.7 920.3,107.0 920.5,108.6 920.6,108.0 920.8,108.7 920.9,108.2 921.0,108.0 921.2,108.4 921.3,108.6 921.4,108.6 921.6,108.7 921.7,109.2 921.8,108.3 922.0,107.8 922.1,107.4 922.3,107.6 922.4,106.3 922.5,107.8 922.7,108.4 922.8,106.7 922.9,108.8 923.1,107.4 923.2,108.8 923.4,107.8 923.5,109.5 923.6,107.4 923.8,108.2 923.9,108.8 924.0,106.9 924.2,107.5 924.3,108.0 924.5,108.6 924.6,108.1 924.7,108.2 924.9,107.5 925.0,107.5 925.1,108.6 925.3,108.5 925.4,108.5 925.6,109.1 925.7,108.5 925.8,108.1 926.0,107.6 926.1,107.1 926.2,108.7 926.4,107.7 926.5,108.4 926.6,106.6 926.8,108.1 926.9,107.7 927.1,108.8 927.2,108.7 927.3,107.9 927.5,108.4 927.6,107.8 927.7,109.2 927.9,107.6 928.0,108.7 928.2,106.8 928.3,108.3 928.4,107.3 928.6,109.1 928.7,107.8 928.8,108.7 929.0,108.4 929.1,108.1 929.3,108.3 929.4,107.9 929.5,106.9 929.7,107.6 929.8,108.1 929.9,109.8 930.1,108.7 930.2,108.2 930.3,109.6 930.5,107.5 930.6,108.3 930.8,108.3 930.9,107.4 931.0,107.6 931.2,107.9 931.3,108.8 931.4,107.9 931.6,107.8 931.7,108.7 931.9,107.3 932.0,107.7 932.1,109.5 932.3,108.0 932.4,109.0 932.5,107.2 932.7,107.5 932.8,108.9 933.0,108.7 933.1,108.0 933.2,108.4 933.4,107.0 933.5,107.5 933.6,108.3 933.8,107.7 933.9,109.6 934.1,107.9 934.2,107.4 934.3,108.2 934.5,108.6 934.6,107.7 934.7,106.6 934.9,107.9 935.0,108.9 935.1,107.0 935.3,109.5 935.4,107.7 935.6,108.5 935.7,107.4 935.8,108.7 936.0,107.1 936.1,107.9 936.2,109.3 936.4,111.3 936.5,108.3 936.7,107.1 936.8,108.0 936.9,108.0 937.1,108.3 937.2,107.5 937.3,107.8 937.5,107.9 937.6,108.8 937.8,107.2 937.9,107.1 938.0,109.0 938.2,106.4 938.3,107.6 938.4,108.4 938.6,109.5 938.7,107.6 938.9,107.7 939.0,108.5 939.1,109.4 939.3,107.3 939.4,108.5 939.5,108.4 939.7,106.0 939.8,106.5 939.9,107.4 940.1,108.4 940.2,107.6 940.4,109.8 940.5,108.0 940.6,108.6 940.8,109.0 940.9,109.2 941.0,107.7 941.2,108.0 941.3,108.0 941.5,107.5 941.6,108.7 941.7,109.0 941.9,109.4 942.0,108.3 942.1,107.5 942.3,108.2 942.4,107.6 942.6,108.9 942.7,108.9 942.8,108.6 943.0,109.0 943.1,106.7 943.2,107.5 943.4,108.6 943.5,108.6 943.6,108.1 943.8,109.1 943.9,107.8 944.1,109.0 944.2,108.4 944.3,108.8 944.5,108.4 944.6,109.1 944.7,109.2 944.9,108.8 945.0,109.4 945.2,108.3 945.3,108.0 945.4,107.0 945.6,107.5 945.7,108.3 945.8,107.5 946.0,108.6 946.1,107.0 946.3,107.7 946.4,109.1 946.5,107.5 946.7,106.6 946.8,110.1 946.9,108.6 947.1,108.4 947.2,109.5 947.4,108.9 947.5,108.8 947.6,107.7 947.8,107.9 947.9,106.1 948.0,108.8 948.2,107.2 948.3,108.0 948.4,107.9 948.6,108.9 948.7,109.5 948.9,108.6 949.0,107.5 949.1,106.9 949.3,107.6 949.4,107.7 949.5,108.7 949.7,106.9 949.8,107.1 950.0,109.0 950.1,108.1 950.2,108.8 950.4,107.0 950.5,107.6 950.6,108.2 950.8,107.8 950.9,107.8 951.1,108.4 951.2,109.0 951.3,109.0 951.5,109.4 951.6,107.7 951.7,106.4 951.9,109.3 952.0,108.0 952.2,107.8 952.3,108.8 952.4,107.9 952.6,108.9 952.7,107.2 952.8,108.5 953.0,108.0 953.1,107.6 953.2,108.4 953.4,109.4 953.5,108.5 953.7,107.5 953.8,108.1 953.9,107.9 954.1,108.9 954.2,108.0 954.3,107.1 954.5,108.1 954.6,106.6 954.8,108.2 954.9,108.9 955.0,109.3 955.2,107.2 955.3,108.1 955.4,107.3 955.6,107.7 955.7,106.8 955.9,107.1 956.0,108.4 956.1,107.9 956.3,107.3 956.4,109.0 956.5,107.0 956.7,107.2 956.8,107.3 957.0,108.2 957.1,107.8 957.2,108.9 957.4,108.0 957.5,108.5 957.6,108.0 957.8,108.5 957.9,107.9 958.0,107.2 958.2,109.1 958.3,107.4 958.5,109.6 958.6,109.8 958.7,108.2 958.9,108.1 959.0,107.7 959.1,109.4 959.3,108.1 959.4,108.0 959.6,107.1 959.7,108.2 959.8,107.7 960.0,108.8 960.1,108.2 960.2,108.4 960.4,107.5 960.5,108.9 960.7,108.7 960.8,107.6 960.9,106.7 961.1,107.8 961.2,107.8 961.3,108.4 961.5,107.2 961.6,107.7 961.7,106.7 961.9,107.8 962.0,108.8 962.2,108.5 962.3,108.9 962.4,109.1 962.6,107.1 962.7,107.4 962.8,109.1 963.0,106.7 963.1,107.9 963.3,108.8 963.4,107.8 963.5,108.1 963.7,108.7 963.8,109.6 963.9,108.1 964.1,107.8 964.2,110.2 964.4,107.6 964.5,107.6 964.6,108.5 964.8,108.0 964.9,108.3 965.0,108.8 965.2,108.4 965.3,107.0 965.5,109.3 965.6,107.9 965.7,107.9 965.9,108.7 966.0,108.4 966.1,109.2 966.3,108.8 966.4,108.1 966.5,107.4 966.7,108.8 966.8,105.5 967.0,109.0 967.1,107.8 967.2,108.3 967.4,108.4 967.5,107.0 967.6,108.5 967.8,107.0 967.9,107.1 968.1,109.0 968.2,107.2 968.3,108.6 968.5,105.8 968.6,108.8 968.7,108.9 968.9,109.7 969.0,109.2 969.2,108.6 969.3,108.9 969.4,109.1 969.6,108.7 969.7,108.3 969.8,106.8 970.0,109.5 970.1,108.6 970.3,110.0 970.4,109.4 970.5,109.2 970.7,108.9 970.8,107.5 970.9,108.2 971.1,108.5 971.2,107.5 971.3,107.8 971.5,108.3 971.6,107.7 971.8,108.8 971.9,107.5 972.0,107.7 972.2,108.4 972.3,109.2 972.4,106.7 972.6,108.0 972.7,105.4 972.9,108.7 973.0,107.3 973.1,108.5 973.3,107.9 973.4,107.3 973.5,109.6 973.7,108.2 973.8,107.9 974.0,108.0 974.1,107.5 974.2,107.2 974.4,107.3 974.5,107.8 974.6,108.4 974.8,109.1 974.9,108.8 975.0,108.6 975.2,107.5 975.3,108.4 975.5,109.2 975.6,107.5 975.7,108.8 975.9,108.8 976.0,108.3 976.1,107.6 976.3,110.3 976.4,109.1 976.6,107.9 976.7,108.4 976.8,108.9 977.0,108.6 977.1,105.1 977.2,108.5 977.4,107.4 977.5,107.3 977.7,108.5 977.8,107.7 977.9,108.5 978.1,108.7 978.2,109.2 978.3,107.2 978.5,108.5 978.6,108.6 978.8,109.2 978.9,106.3 979.0,106.5 979.2,108.2 979.3,108.8 979.4,109.6 979.6,107.8 979.7,107.5 979.8,109.5 980.0,106.9 980.1,107.3 980.3,109.0 980.4,109.1 980.5,108.5 980.7,107.9 980.8,108.2 980.9,109.7 981.1,106.6 981.2,107.8 981.4,106.8 981.5,106.8 981.6,108.3 981.8,107.7 981.9,107.3 982.0,107.3 982.2,108.5 982.3,108.7 982.5,108.0 982.6,108.9 982.7,108.6 982.9,110.1 983.0,108.0 983.1,109.1 983.3,108.6 983.4,108.1 983.6,107.8 983.7,106.1 983.8,107.9 984.0,109.5 984.1,107.9 984.2,108.7 984.4,107.7 984.5,108.8 984.6,108.8 984.8,108.6 984.9,108.7 985.1,110.0 985.2,108.8 985.3,108.1 985.5,106.8 985.6,108.4 985.7,108.5 985.9,107.5 986.0,107.5 986.2,106.4 986.3,107.5 986.4,108.1 986.6,106.6 986.7,106.4 986.8,108.6 987.0,107.9 987.1,109.9 987.3,109.1 987.4,109.0 987.5,108.3 987.7,108.6 987.8,108.3 987.9,108.2 988.1,107.5 988.2,107.8 988.3,108.7 988.5,109.5 988.6,106.7 988.8,106.5 988.9,108.6 989.0,107.5 989.2,109.8 989.3,109.8 989.4,108.4 989.6,106.4 989.7,109.3 989.9,109.0 990.0,106.3 990.1,110.2 990.3,107.3 990.4,107.5 990.5,108.3 990.7,107.9 990.8,105.1 991.0,109.4 991.1,108.4 991.2,108.4 991.4,108.9 991.5,109.6 991.6,106.2 991.8,107.8 991.9,110.1 992.1,108.9 992.2,107.6 992.3,107.6 992.5,109.8 992.6,108.2 992.7,107.8 992.9,107.6 993.0,107.6 993.1,110.2 993.3,105.9 993.4,107.4 993.6,105.9 993.7,104.7 993.8,108.3 994.0,109.6 994.1,107.0 994.2,108.3 994.4,108.6 994.5,109.3 994.7,106.0 994.8,108.6 994.9,109.8 995.1,108.6 995.2,109.5 995.3,107.9 995.5,108.6 995.6,109.4 995.8,107.3 995.9,108.9 996.0,107.2 996.2,106.5 996.3,108.5 996.4,108.9 996.6,107.8 996.7,107.0 996.9,108.1 997.0,107.9 997.1,108.1 997.3,107.7 997.4,107.3 997.5,109.0 997.7,108.7 997.8,108.0 997.9,108.9 998.1,107.9 998.2,107.4 998.4,108.1 998.5,108.9 998.6,109.1 998.8,105.8 998.9,106.9 999.0,109.5 999.2,109.2 999.3,105.6 999.5,106.1 999.6,107.9 999.7,106.6 999.9,110.0 1000.0,108.1 1000.1,107.1 1000.3,110.5 1000.4,110.2 1000.6,107.0 1000.7,106.6 1000.8,108.9 1001.0,107.7 1001.1,105.9 1001.2,108.6 1001.4,109.9 1001.5,108.2 1001.6,108.6 1001.8,106.3 1001.9,107.7 1002.1,109.2 1002.2,102.3 1002.3,108.8 1002.5,107.4 1002.6,107.2 1002.7,107.0 1002.9,107.8 1003.0,107.3 1003.2,108.2 1003.3,111.3 1003.4,108.4 1003.6,108.4 1003.7,108.3 1003.8,107.9 1004.0,110.4 1004.1,104.0 1004.3,105.9 1004.4,111.2 1004.5,108.1 1004.7,109.1 1004.8,111.8 1004.9,107.0 1005.1,109.0 1005.2,108.6 1005.4,109.0 1005.5,106.5 1005.6,106.3 1005.8,107.7 1005.9,107.1 1006.0,108.2 1006.2,107.9 1006.3,110.2 1006.4,108.0 1006.6,109.1 1006.7,107.5 1006.9,106.9 1007.0,107.6 1007.1,106.3 1007.3,104.1 1007.4,111.2 1007.5,108.1 1007.7,108.9 1007.8,108.8 1008.0,110.1 1008.1,108.0 1008.2,108.5 1008.4,109.0 1008.5,108.5 1008.6,109.0 1008.8,111.6 1008.9,106.4 1009.1,108.5 1009.2,109.5 1009.3,107.6 1009.5,109.1 1009.6,111.4 1009.7,106.7 1009.9,110.7 1010.0,108.4 1010.2,107.9 1010.3,106.0 1010.4,106.2 1010.6,107.8 1010.7,109.3 1010.8,108.7 1011.0,103.8 1011.1,105.3 1011.2,107.2 1011.4,109.1 1011.5,106.5 1011.7,108.7 1011.8,108.7 1011.9,108.5 1012.1,107.1 1012.2,107.6 1012.3,106.5 1012.5,106.0 1012.6,107.3 1012.8,111.8 1012.9,110.8 1013.0,107.8 1013.2,108.2 1013.3,104.6 1013.4,108.1 1013.6,108.6 1013.7,106.5 1013.9,106.3 1014.0,108.5 1014.1,107.3 1014.3,110.0 1014.4,109.6 1014.5,106.0 1014.7,110.4 1014.8,106.5 1015.0,106.9 1015.1,106.8 1015.2,106.5 1015.4,107.1 1015.5,111.7 1015.6,109.8 1015.8,109.8 1015.9,106.5 1016.0,110.0 1016.2,109.3 1016.3,108.7 1016.5,105.8 1016.6,110.6 1016.7,110.4 1016.9,107.0 1017.0,111.7 1017.1,107.5 1017.3,108.9 1017.4,110.8 1017.6,108.8 1017.7,109.8 1017.8,107.8 1018.0,107.4 1018.1,105.5 1018.2,108.1 1018.4,107.9 1018.5,109.1 1018.7,108.1 1018.8,106.2 1018.9,111.5 1019.1,106.9 1019.2,109.0 1019.3,107.9 1019.5,107.5 1019.6,106.6 1019.7,107.7 1019.9,109.8 1020.0,107.5 1020.2,108.1 1020.3,108.5 1020.4,107.7 1020.6,106.5 1020.7,107.8 1020.8,107.8 1021.0,110.4 1021.1,108.3 1021.3,111.5 1021.4,106.7 1021.5,109.8 1021.7,105.7 1021.8,102.5 1021.9,108.8 1022.1,105.6 1022.2,107.3 1022.4,109.1 1022.5,109.7 1022.6,107.0 1022.8,105.4 1022.9,107.4 1023.0,110.9 1023.2,110.1 1023.3,108.8 1023.5,105.5 1023.6,107.5 1023.7,107.5 1023.9,105.8 1024.0,108.5 1024.1,108.3 1024.3,108.4 1024.4,111.5 1024.5,107.2 1024.7,107.3 1024.8,106.2 1025.0,110.4 1025.1,109.7 1025.2,106.2 1025.4,107.4 1025.5,105.4 1025.6,109.8 1025.8,107.7 1025.9,109.5 1026.1,107.4 1026.2,109.1 1026.3,106.9 1026.5,105.7 1026.6,106.6 1026.7,112.1 1026.9,106.0 1027.0,107.1 1027.2,110.5 1027.3,110.2 1027.4,108.0 1027.6,106.7 1027.7,109.2 1027.8,112.1 1028.0,107.4 1028.1,107.7 1028.3,101.8 1028.4,111.4 1028.5,101.5 1028.7,103.5 1028.8,107.3 1028.9,103.6 1029.1,107.8 1029.2,105.4 1029.3,110.1 1029.5,107.9 1029.6,111.0 1029.8,112.6 1029.9,108.9 1030.0,111.4 1030.2,106.4 1030.3,104.2 1030.4,108.6 1030.6,107.9 1030.7,107.5 1030.9,113.3 1031.0,107.2 1031.1,108.0 1031.3,108.4 1031.4,111.7 1031.5,114.6 1031.7,108.9 1031.8,107.0 1032.0,103.5 1032.1,104.2 1032.2,103.1 1032.4,106.8 1032.5,104.0 1032.6,108.8 1032.8,105.8 1032.9,101.2 1033.0,98.3 1033.2,107.2 1033.3,112.8 1033.5,103.0 1033.6,111.0 1033.7,108.3 1033.9,109.2 1034.0,111.5 1034.1,103.0 1034.3,105.8 1034.4,110.5 1034.6,107.8 1034.7,109.8 1034.8,105.6 1035.0,109.6 1035.1,111.2 1035.2,110.7 1035.4,109.9 1035.5,106.9 1035.7,111.9 1035.8,108.5 1035.9,106.2 1036.1,98.2 1036.2,104.5 1036.3,120.8 1036.5,110.3 1036.6,109.8 1036.8,106.7 1036.9,101.2 1037.0,104.8 1037.2,118.3 1037.3,106.7 1037.4,107.6 1037.6,106.2 1037.7,101.9 1037.8,113.0 1038.0,103.0 1038.1,115.7 1038.3,107.8 1038.4,106.3 1038.5,97.4 1038.7,111.4 1038.8,116.1 1038.9,104.8 1039.1,111.2 1039.2,100.5 1039.4,111.5 1039.5,112.4 1039.6,102.0 1039.8,107.7 1039.9,103.1 1040.0,115.2 1040.2,99.8 1040.3,111.0 1040.5,103.9 1040.6,113.2 1040.7,116.0 1040.9,109.4 1041.0,107.2 1041.1,99.9 1041.3,106.3 1041.4,104.3 1041.6,104.6 1041.7,91.6 1041.8,112.4 1042.0,101.4 1042.1,108.9 1042.2,106.7 1042.4,111.0 1042.5,101.7 1042.6,115.0 1042.8,115.4 1042.9,109.2 1043.1,114.5 1043.2,104.1 1043.3,102.9 1043.5,112.3 1043.6,103.6 1043.7,111.9 1043.9,108.3 1044.0,108.0 1044.2,97.2 1044.3,108.1 1044.4,113.4 1044.6,113.5 1044.7,101.0 1044.8,118.0 1045.0,110.9 1045.1,110.4 1045.3,122.8 1045.4,110.9 1045.5,102.0 1045.7,106.7 1045.8,113.6 1045.9,103.8 1046.1,104.9 1046.2,95.5 1046.3,112.7 1046.5,110.5 1046.6,107.8 1046.8,109.0 1046.9,107.5 1047.0,108.8 1047.2,112.6 1047.3,118.5 1047.4,111.7 1047.6,117.2 1047.7,115.0 1047.9,111.7 1048.0,104.7 1048.1,102.4 1048.3,115.1 1048.4,106.1 1048.5,102.7 1048.7,108.5 1048.8,119.5 1049.0,123.1 1049.1,102.7 1049.2,96.7 1049.4,106.3 1049.5,115.7 1049.6,97.9 1049.8,99.5 1049.9,108.6 1050.1,109.9 1050.2,122.6 1050.3,102.7 1050.5,120.2 1050.6,103.2 1050.7,102.8 1050.9,107.6 1051.0,96.2 1051.1,110.8 1051.3,103.7 1051.4,102.1 1051.6,106.3 1051.7,111.6 1051.8,98.4 1052.0,104.9 1052.1,109.8 1052.2,109.6 1052.4,107.2 1052.5,89.3 1052.7,107.4 1052.8,110.3 1052.9,117.4 1053.1,118.8 1053.2,124.8 1053.3,106.2 1053.5,108.1 1053.6,117.5 1053.8,121.8 1053.9,111.3 1054.0,113.2 1054.2,120.8 1054.3,105.5 1054.4,107.0 1054.6,108.8 1054.7,101.0 1054.9,114.7 1055.0,95.1 1055.1,118.3 1055.3,103.3 1055.4,102.1 1055.5,111.0 1055.7,104.8 1055.8,121.4 1055.9,123.8 1056.1,110.5 1056.2,116.0 1056.4,102.2 1056.5,108.1 1056.6,101.9 1056.8,105.0 1056.9,106.2 1057.0,107.4 1057.2,112.5 1057.3,113.6 1057.5,85.7 1057.6,128.2 1057.7,110.6 1057.9,97.0 1058.0,103.6 1058.1,92.1 1058.3,102.0 1058.4,123.4 1058.6,112.4 1058.7,125.3 1058.8,96.6 1059.0,91.0 1059.1,113.9 1059.2,93.7 1059.4,113.6 1059.5,126.6 1059.6,114.2 1059.8,128.7 1059.9,115.9 1060.1,105.9 1060.2,99.2 1060.3,91.7 1060.5,113.0 1060.6,105.5 1060.7,103.1 1060.9,101.3 1061.0,147.0 1061.2,119.2 1061.3,97.9 1061.4,124.0 1061.6,105.3 1061.7,97.3 1061.8,135.0 1062.0,111.4 1062.1,105.5 1062.3,108.7 1062.4,130.4 1062.5,103.9 1062.7,116.8 1062.8,97.1 1062.9,102.7 1063.1,116.8 1063.2,106.4 1063.4,118.9 1063.5,119.1 1063.6,75.1 1063.8,112.5 1063.9,97.4 1064.0,107.4 1064.2,109.5 1064.3,118.4 1064.4,116.9 1064.6,98.4 1064.7,131.1 1064.9,79.2 1065.0,110.3 1065.1,77.7 1065.3,92.3 1065.4,115.5 1065.5,98.7 1065.7,105.7 1065.8,102.8 1066.0,98.0 1066.1,117.5 1066.2,118.5 1066.4,115.6 1066.5,129.3 1066.6,168.5 1066.8,106.4 1066.9,106.1 1067.1,106.9 1067.2,115.3 1067.3,98.6 1067.5,138.6 1067.6,115.3 1067.7,114.4 1067.9,62.3 1068.0,100.7 1068.2,98.9 1068.3,109.7 1068.4,97.0 1068.6,123.5 1068.7,109.0 1068.8,138.2 1069.0,87.2 1069.1,89.0 1069.2,117.9 1069.4,121.1 1069.5,137.2 1069.7,129.7 1069.8,108.4 1069.9,112.0 1070.1,128.6 1070.2,116.2 1070.3,118.2 1070.5,104.1 1070.6,101.2 1070.8,112.6 1070.9,108.5 1071.0,109.9 1071.2,134.7 1071.3,107.7 1071.4,110.6 1071.6,101.1 1071.7,131.0 1071.9,101.0 1072.0,117.0 1072.1,106.7 1072.3,96.1 1072.4,144.0 1072.5,124.1 1072.7,98.8 1072.8,122.0 1072.9,119.9 1073.1,103.2 1073.2,111.7 1073.4,101.4 1073.5,106.4 1073.6,109.8 1073.8,99.4 1073.9,87.2 1074.0,110.5 1074.2,94.6 1074.3,98.1 1074.5,108.4 1074.6,104.9 1074.7,118.6 1074.9,115.4 1075.0,105.0 1075.1,109.8 1075.3,97.0 1075.4,121.7 1075.6,112.1 1075.7,115.3 1075.8,110.8 1076.0,98.6 1076.1,120.4 1076.2,101.5 1076.4,114.7 1076.5,112.2 1076.7,100.3 1076.8,111.8 1076.9,103.3 1077.1,108.2 1077.2,110.8 1077.3,112.4 1077.5,124.4 1077.6,115.7 1077.7,107.8 1077.9,107.4 1078.0,122.0 1078.2,100.5 1078.3,104.2 1078.4,120.3 1078.6,118.0 1078.7,104.8 1078.8,124.0 1079.0,115.4 1079.1,109.6 1079.3,110.2 1079.4,109.6 1079.5,104.4 1079.7,115.7 1079.8,113.1 1079.9,81.5 1080.1,120.7 1080.2,112.8 1080.4,108.1 1080.5,114.4 1080.6,98.9 1080.8,108.4 1080.9,102.7 1081.0,130.6 1081.2,99.2 1081.3,99.5 1081.5,115.2 1081.6,98.2 1081.7,106.7 1081.9,101.3 1082.0,94.0 1082.1,108.1 1082.3,117.3 1082.4,109.0 1082.5,119.4 1082.7,121.7 1082.8,115.2 1083.0,114.8 1083.1,99.2 1083.2,101.9 1083.4,116.3 1083.5,99.4 1083.6,122.8 1083.8,114.3 1083.9,110.0 1084.1,98.8 1084.2,102.7 1084.3,104.9 1084.5,97.8 1084.6,95.0 1084.7,97.2 1084.9,115.3 1085.0,123.0 1085.2,112.2 1085.3,101.6 1085.4,106.5 1085.6,101.1 1085.7,102.6 1085.8,104.2 1086.0,101.6 1086.1,120.0 1086.2,99.2 1086.4,117.3 1086.5,109.6 1086.7,120.9 1086.8,104.2 1086.9,122.2 1087.1,96.4 1087.2,120.4 1087.3,106.4 1087.5,109.9 1087.6,116.4 1087.8,97.6 1087.9,112.5 1088.0,95.6 1088.2,117.8 1088.3,115.8 1088.4,126.6 1088.6,103.7 1088.7,100.4 1088.9,106.6 1089.0,110.1 1089.1,117.1 1089.3,87.1 1089.4,101.8 1089.5,125.6 1089.7,111.5 1089.8,132.8 1090.0,94.0 1090.1,90.2 1090.2,95.0 1090.4,109.2 1090.5,114.2 1090.6,121.9 1090.8,103.6 1090.9,115.7 1091.0,112.2 1091.2,114.8 1091.3,111.6 1091.5,89.2 1091.6,92.3 1091.7,107.2 1091.9,108.4 1092.0,119.5 1092.1,120.7 1092.3,119.1 1092.4,99.9 1092.6,106.2 1092.7,99.0 1092.8,104.4 1093.0,112.6 1093.1,121.1 1093.2,112.3 1093.4,123.1 1093.5,88.2 1093.7,105.8 1093.8,112.4 1093.9,88.0 1094.1,112.6 1094.2,102.8 1094.3,110.3 1094.5,104.8 1094.6,75.1 1094.8,103.4 1094.9,93.5 1095.0,122.0 1095.2,132.2 1095.3,94.1 1095.4,106.8 1095.6,99.2 1095.7,111.7 1095.8,91.9 1096.0,88.8 1096.1,137.6 1096.3,101.2 1096.4,115.3 1096.5,126.3 1096.7,112.0 1096.8,93.3 1096.9,123.9 1097.1,123.0 1097.2,94.9 1097.4,108.4 1097.5,104.2 1097.6,121.7 1097.8,116.2 1097.9,107.5 1098.0,106.7 1098.2,107.3 1098.3,90.8 1098.5,107.1 1098.6,126.6 1098.7,119.1 1098.9,109.8 1099.0,94.4 1099.1,117.1 1099.3,113.8 1099.4,109.6 1099.6,117.5 1099.7,130.3 1099.8,112.1 1100.0,97.7 1100.1,103.7 1100.2,112.8 1100.4,104.7 1100.5,124.7 1100.6,97.7 1100.8,100.8 1100.9,65.9 1101.1,128.9 1101.2,85.4 1101.3,144.4 1101.5,121.5 1101.6,120.6 1101.7,101.3 1101.9,127.5 1102.0,106.8 1102.2,111.4 1102.3,113.1 1102.4,99.3 1102.6,92.5 1102.7,104.8 1102.8,112.9 1103.0,137.1 1103.1,91.8 1103.3,113.2 1103.4,131.9 1103.5,107.6 1103.7,92.1 1103.8,111.2 1103.9,123.7 1104.1,82.3 1104.2,102.1 1104.3,105.3 1104.5,97.2 1104.6,135.7 1104.8,110.3 1104.9,111.4 1105.0,82.0 1105.2,116.2 1105.3,116.0 1105.4,126.1 1105.6,131.0 1105.7,111.8 1105.9,106.2 1106.0,111.7 1106.1,65.9 1106.3,103.4 1106.4,101.6 1106.5,92.9 1106.7,101.7 1106.8,115.5 1107.0,127.7 1107.1,105.0 1107.2,119.1 1107.4,93.6 1107.5,118.3 1107.6,150.2 1107.8,108.7 1107.9,96.5 1108.1,111.6 1108.2,107.1 1108.3,107.4 1108.5,89.0 1108.6,105.7 1108.7,109.7 1108.9,116.4 1109.0,128.3 1109.1,92.9 1109.3,95.9 1109.4,120.2 1109.6,102.2 1109.7,105.5 1109.8,199.7 1110.0,112.8 1110.1,100.6 1110.2,122.9 1110.4,115.1 1110.5,110.1 1110.7,67.8 1110.8,111.6 1110.9,106.8 1111.1,103.3 1111.2,119.2 1111.3,108.2 1111.5,115.1 1111.6,92.5 1111.8,124.7 1111.9,111.8 1112.0,101.5 1112.2,112.3 1112.3,112.8 1112.4,115.0 1112.6,105.7 1112.7,121.7 1112.9,110.0 1113.0,110.2 1113.1,124.7 1113.3,106.1 1113.4,114.0 1113.5,105.7 1113.7,99.9 1113.8,105.4 1113.9,121.3 1114.1,105.6 1114.2,125.6 1114.4,116.8 1114.5,91.6 1114.6,108.8 1114.8,76.9 1114.9,110.7 1115.0,108.7 1115.2,120.1 1115.3,99.2 1115.5,110.8 1115.6,102.5 1115.7,104.3 1115.9,103.4 1116.0,105.4 1116.1,109.0 1116.3,108.6 1116.4,115.4 1116.6,129.4 1116.7,103.8 1116.8,88.2 1117.0,98.0 1117.1,85.9 1117.2,103.7 1117.4,117.6 1117.5,117.8 1117.6,101.2 1117.8,105.0 1117.9,109.8 1118.1,101.2 1118.2,116.4 1118.3,103.3 1118.5,110.8 1118.6,106.7 1118.7,97.1 1118.9,109.4 1119.0,95.4 1119.2,95.9 1119.3,115.0 1119.4,86.8 1119.6,119.4 1119.7,109.0 1119.8,101.4 1120.0,128.6 1120.1,98.7 1120.3,97.8 1120.4,109.0 1120.5,105.6 1120.7,106.1 1120.8,109.8 1120.9,98.5 1121.1,111.3 1121.2,108.4 1121.4,104.8 1121.5,100.5 1121.6,98.3 1121.8,120.9 1121.9,125.7 1122.0,109.2 1122.2,108.5 1122.3,117.3 1122.4,105.4 1122.6,102.6 1122.7,104.7 1122.9,93.9 1123.0,116.9 1123.1,107.8 1123.3,91.6 1123.4,102.2 1123.5,128.3 1123.7,106.3 1123.8,98.1 1124.0,90.5 1124.1,102.4 1124.2,98.2 1124.4,117.3 1124.5,110.1 1124.6,98.1 1124.8,116.0 1124.9,108.6 1125.1,123.6 1125.2,95.8 1125.3,109.1 1125.5,103.4 1125.6,120.5 1125.7,118.9 1125.9,93.1 1126.0,110.9 1126.2,112.5 1126.3,103.9 1126.4,103.5 1126.6,124.1 1126.7,116.0 1126.8,107.7 1127.0,108.0 1127.1,105.2 1127.2,111.6 1127.4,110.4 1127.5,106.3 1127.7,113.7 1127.8,114.8 1127.9,112.5 1128.1,108.0 1128.2,109.3 1128.3,112.0 1128.5,110.1 1128.6,108.5 1128.8,105.5 1128.9,105.2 1129.0,118.5 1129.2,100.3 1129.3,121.0 1129.4,103.7 1129.6,113.8 1129.7,103.5 1129.9,99.7 1130.0,123.2 1130.1,103.3 1130.3,106.0 1130.4,111.9 1130.5,105.1 1130.7,112.1 1130.8,107.2 1130.9,116.5 1131.1,101.9 1131.2,103.5 1131.4,102.3 1131.5,113.4 1131.6,93.6 1131.8,92.5 1131.9,109.4 1132.0,111.5 1132.2,111.4 1132.3,102.7 1132.5,100.0 1132.6,114.1 1132.7,124.3 1132.9,104.6 1133.0,108.5 1133.1,106.8 1133.3,104.1 1133.4,117.1 1133.6,107.2 1133.7,110.6 1133.8,105.2 1134.0,98.5 1134.1,108.2 1134.2,115.1 1134.4,98.3 1134.5,102.6 1134.7,109.9 1134.8,122.8 1134.9,115.4 1135.1,107.2 1135.2,103.9 1135.3,112.6 1135.5,104.9 1135.6,113.5 1135.7,111.8 1135.9,104.1 1136.0,110.6 1136.2,107.3 1136.3,101.3 1136.4,99.2 1136.6,113.2 1136.7,110.5 1136.8,119.3 1137.0,119.2 1137.1,106.0 1137.3,112.8 1137.4,123.7 1137.5,104.1 1137.7,115.4 1137.8,111.1 1137.9,105.1 1138.1,105.2 1138.2,109.0 1138.4,125.2 1138.5,103.8 1138.6,113.5 1138.8,120.4 1138.9,127.1 1139.0,97.4 1139.2,107.3 1139.3,107.6 1139.5,103.4 1139.6,109.2 1139.7,121.2 1139.9,102.7 1140.0,92.3 1140.1,104.1 1140.3,95.2 1140.4,92.0 1140.5,115.5 1140.7,112.4 1140.8,100.7 1141.0,107.0 1141.1,106.6 1141.2,100.2 1141.4,101.9 1141.5,118.2 1141.6,107.4 1141.8,114.9 1141.9,110.3 1142.1,118.6 1142.2,126.4 1142.3,113.0 1142.5,113.9 1142.6,100.2 1142.7,93.9 1142.9,108.2 1143.0,104.1 1143.2,114.4 1143.3,117.2 1143.4,111.1 1143.6,111.2 1143.7,105.6 1143.8,107.3 1144.0,92.4 1144.1,110.5 1144.2,124.5 1144.4,107.2 1144.5,114.9 1144.7,106.4 1144.8,97.2 1144.9,114.8 1145.1,109.1 1145.2,146.6 1145.3,118.0 1145.5,106.2 1145.6,99.0 1145.8,100.0 1145.9,97.0 1146.0,102.6 1146.2,104.2 1146.3,123.0 1146.4,136.7 1146.6,118.6 1146.7,93.1 1146.9,107.1 1147.0,132.7 1147.1,112.9 1147.3,104.4 1147.4,128.6 1147.5,102.0 1147.7,121.0 1147.8,96.7 1148.0,107.9 1148.1,73.4 1148.2,123.3 1148.4,105.0 1148.5,125.1 1148.6,95.0 1148.8,139.2 1148.9,97.5 1149.0,107.0 1149.2,122.0 1149.3,115.9 1149.5,122.9 1149.6,120.6 1149.7,106.4 1149.9,95.3 1150.0,97.8 1150.1,101.9 1150.3,115.0 1150.4,101.9 1150.6,127.9 1150.7,105.6 1150.8,97.7 1151.0,110.5 1151.1,114.0 1151.2,113.6 1151.4,100.4 1151.5,112.1 1151.7,126.3 1151.8,113.5 1151.9,121.8 1152.1,88.8 1152.2,108.0 1152.3,127.3 1152.5,104.7 1152.6,98.7 1152.8,103.2 1152.9,112.9 1153.0,106.2 1153.2,104.4 1153.3,94.8 1153.4,103.3 1153.6,77.7 1153.7,111.0 1153.8,87.5 1154.0,107.9 1154.1,131.3 1154.3,124.1 1154.4,132.9 1154.5,131.6 1154.7,91.7 1154.8,117.2 1154.9,99.9 1155.1,120.4 1155.2,108.3 1155.4,122.7 1155.5,96.1 1155.6,111.7 1155.8,71.4 1155.9,110.4 1156.0,77.8 1156.2,101.9 1156.3,96.5 1156.5,125.5 1156.6,117.2 1156.7,104.0 1156.9,134.1 1157.0,89.4 1157.1,104.3 1157.3,108.4 1157.4,110.9 1157.5,111.4 1157.7,115.2 1157.8,88.6 1158.0,89.8 1158.1,90.7 1158.2,112.4 1158.4,120.4 1158.5,89.2 1158.6,125.1 1158.8,116.6 1158.9,98.2 1159.1,93.0 1159.2,126.4 1159.3,111.9 1159.5,107.8 1159.6,110.0 1159.7,120.0 1159.9,98.8 1160.0,115.4 1160.2,111.5 1160.3,139.0 1160.4,109.7 1160.6,134.6 1160.7,98.5 1160.8,101.5 1161.0,115.0 1161.1,106.0 1161.3,106.7 1161.4,110.1 1161.5,103.3 1161.7,109.8 1161.8,114.5 1161.9,118.7 1162.1,86.0 1162.2,105.6 1162.3,108.4 1162.5,98.7 1162.6,113.2 1162.8,113.1 1162.9,55.0 1163.0,79.1 1163.2,99.5 1163.3,127.1 1163.4,107.4 1163.6,108.5 1163.7,102.4 1163.9,119.3 1164.0,121.3 1164.1,109.6 1164.3,119.2 1164.4,121.3 1164.5,109.0 1164.7,96.9 1164.8,106.5 1165.0,94.7 1165.1,120.1 1165.2,99.7 1165.4,108.3 1165.5,118.6 1165.6,113.1 1165.8,118.2 1165.9,110.7 1166.1,137.4 1166.2,93.7 1166.3,112.3 1166.5,124.4 1166.6,110.4 1166.7,103.8 1166.9,111.8 1167.0,98.6 1167.1,118.3 1167.3,117.6 1167.4,90.4 1167.6,108.1 1167.7,102.3 1167.8,102.8 1168.0,102.0 1168.1,107.7 1168.2,110.2 1168.4,96.7 1168.5,113.3 1168.7,107.0 1168.8,101.1 1168.9,112.3 1169.1,123.9 1169.2,103.5 1169.3,80.6 1169.5,105.6 1169.6,125.0 1169.8,101.7 1169.9,88.6 1170.0,123.4 1170.2,134.8 1170.3,110.5 1170.4,107.4 1170.6,100.6 1170.7,100.2 1170.9,107.2 1171.0,102.9 1171.1,104.9 1171.3,106.9 1171.4,108.6 1171.5,109.5 1171.7,101.5 1171.8,104.3 1171.9,112.0 1172.1,98.1 1172.2,114.7 1172.4,110.2 1172.5,106.9 1172.6,125.2 1172.8,111.5 1172.9,100.4 1173.0,100.8 1173.2,118.7 1173.3,115.4 1173.5,117.6 1173.6,110.1 1173.7,108.6 1173.9,122.0 1174.0,105.3 1174.1,107.5 1174.3,108.7 1174.4,113.9 1174.6,109.7 1174.7,123.3 1174.8,106.1 1175.0,106.3 1175.1,109.0 1175.2,118.0 1175.4,97.3 1175.5,98.6 1175.6,123.8 1175.8,104.6 1175.9,106.8 1176.1,129.5 1176.2,103.8 1176.3,102.7 1176.5,102.1 1176.6,105.8 1176.7,113.5 1176.9,112.3 1177.0,103.8 1177.2,98.4 1177.3,112.1 1177.4,110.4 1177.6,102.3 1177.7,125.7 1177.8,104.4 1178.0,109.9 1178.1,126.0 1178.3,101.7 1178.4,115.5 1178.5,101.6 1178.7,96.8 1178.8,118.3 1178.9,117.9 1179.1,108.1 1179.2,122.4 1179.4,102.0 1179.5,106.5 1179.6,99.9 1179.8,123.1 1179.9,106.3 1180.0,104.2 1180.2,122.9 1180.3,100.6 1180.4,119.4 1180.6,106.5 1180.7,118.9 1180.9,101.4 1181.0,93.7 1181.1,107.4 1181.3,107.6 1181.4,96.9 1181.5,111.7 1181.7,106.7 1181.8,100.9 1182.0,104.2 1182.1,94.3 1182.2,97.4 1182.4,91.1 1182.5,107.8 1182.6,97.9 1182.8,114.7 1182.9,99.6 1183.1,92.0 1183.2,86.6 1183.3,118.5 1183.5,108.9 1183.6,100.9 1183.7,115.2 1183.9,102.3 1184.0,102.4 1184.2,111.7 1184.3,112.2 1184.4,115.7 1184.6,104.4 1184.7,95.4 1184.8,104.5 1185.0,81.1 1185.1,121.2 1185.2,112.7 1185.4,100.7 1185.5,118.2 1185.7,103.8 1185.8,99.2 1185.9,105.4 1186.1,109.3 1186.2,97.8 1186.3,103.0 1186.5,99.8 1186.6,101.6 1186.8,113.9 1186.9,125.2 1187.0,111.0 1187.2,105.3 1187.3,110.2 1187.4,97.2 1187.6,98.6 1187.7,96.8 1187.9,105.8 1188.0,114.8 1188.1,98.0 1188.3,101.7 1188.4,116.3 1188.5,111.6 1188.7,76.2 1188.8,144.9 1188.9,94.5 1189.1,106.5 1189.2,108.0 1189.4,110.6 1189.5,113.2 1189.6,79.8 1189.8,112.5 1189.9,110.9 1190.0,97.9 1190.2,102.8 1190.3,109.5 1190.5,110.8 1190.6,123.5 1190.7,94.3 1190.9,120.4 1191.0,137.3 1191.1,94.5 1191.3,98.2 1191.4,103.3 1191.6,114.1 1191.7,92.5 1191.8,121.4 1192.0,150.2 1192.1,105.6 1192.2,97.3 1192.4,99.6 1192.5,80.6 1192.7,96.8 1192.8,110.7 1192.9,110.2 1193.1,137.4 1193.2,108.5 1193.3,109.5 1193.5,131.4 1193.6,111.9 1193.7,125.2 1193.9,104.6 1194.0,105.9 1194.2,98.1 1194.3,83.3 1194.4,110.2 1194.6,62.3 1194.7,123.4 1194.8,105.6 1195.0,94.6 1195.1,80.6 1195.3,123.1 1195.4,111.4 1195.5,105.8 1195.7,109.2 1195.8,121.2 1195.9,130.7 1196.1,125.0 1196.2,108.9 1196.4,126.7 1196.5,82.8 1196.6,90.5 1196.8,134.7 1196.9,114.8 1197.0,89.1 1197.2,87.3 1197.3,92.0 1197.5,128.1 1197.6,113.0 1197.7,70.4 1197.9,106.4 1198.0,123.0 1198.1,100.7 1198.3,93.9 1198.4,105.9 1198.5,104.4 1198.7,92.7 1198.8,115.8 1199.0,120.7 1199.1,97.1 1199.2,124.7 1199.4,100.9 1199.5,118.1 1199.6,96.1 1199.8,124.5 1199.9,92.0 1200.1,103.9 1200.2,112.1 1200.3,119.9 1200.5,110.1 1200.6,120.8 1200.7,124.6 1200.9,93.0 1201.0,99.7 1201.2,90.9 1201.3,148.7 1201.4,134.9 1201.6,129.8 1201.7,99.0 1201.8,96.8 1202.0,133.5 1202.1,93.9 1202.2,114.0 1202.4,147.4 1202.5,109.1 1202.7,100.2 1202.8,111.0 1202.9,110.4 1203.1,119.6 1203.2,127.5 1203.3,113.2 1203.5,130.4 1203.6,99.8 1203.8,119.8 1203.9,90.1 1204.0,129.9 1204.2,88.8 1204.3,120.3 1204.4,120.4 1204.6,104.1 1204.7,95.7 1204.9,108.7 1205.0,113.1 1205.1,80.5 1205.3,101.1 1205.4,124.8 1205.5,111.8 1205.7,84.5 1205.8,103.5 1206.0,96.6 1206.1,141.1 1206.2,116.4 1206.4,102.9 1206.5,117.5 1206.6,108.2 1206.8,100.5 1206.9,126.9 1207.0,106.0 1207.2,106.1 1207.3,93.2 1207.5,116.5 1207.6,126.2 1207.7,102.5 1207.9,124.2 1208.0,105.5 1208.1,100.0 1208.3,120.7 1208.4,109.9 1208.6,123.0 1208.7,148.9 1208.8,129.1 1209.0,138.2 1209.1,108.0 1209.2,123.6 1209.4,110.3 1209.5,109.0 1209.7,93.0 1209.8,113.3 1209.9,114.0 1210.1,101.1 1210.2,85.2 1210.3,109.4 1210.5,103.4 1210.6,56.8 1210.8,118.2 1210.9,130.1 1211.0,192.4 1211.2,112.1 1211.3,111.8 1211.4,80.5 1211.6,113.0 1211.7,103.7 1211.8,113.1 1212.0,92.0 1212.1,112.2 1212.3,82.8 1212.4,111.8 1212.5,97.7 1212.7,94.5 1212.8,111.4 1212.9,96.8 1213.1,107.4 1213.2,118.2 1213.4,117.0 1213.5,103.9 1213.6,85.1 1213.8,114.5 1213.9,101.2 1214.0,118.4 1214.2,105.0 1214.3,124.4 1214.5,128.2 1214.6,108.3 1214.7,117.3 1214.9,111.4 1215.0,96.1 1215.1,109.7 1215.3,116.6 1215.4,122.6 1215.5,114.3 1215.7,94.9 1215.8,109.1 1216.0,109.8 1216.1,100.1 1216.2,98.9 1216.4,97.1 1216.5,112.1 1216.6,118.0 1216.8,126.0 1216.9,115.4 1217.1,112.1 1217.2,100.5 1217.3,104.8 1217.5,114.0 1217.6,99.2 1217.7,120.8 1217.9,118.7 1218.0,119.8 1218.2,118.9 1218.3,110.7 1218.4,116.4 1218.6,115.5 1218.7,95.4 1218.8,122.1 1219.0,117.9 1219.1,110.4 1219.3,104.1 1219.4,103.7 1219.5,110.6 1219.7,111.5 1219.8,110.6 1219.9,101.5 1220.1,116.4 1220.2,129.1 1220.3,104.8 1220.5,134.1 1220.6,108.7 1220.8,96.0 1220.9,106.8 1221.0,92.2 1221.2,121.9 1221.3,106.1 1221.4,104.8 1221.6,101.1 1221.7,114.4 1221.9,106.8 1222.0,107.1 1222.1,107.4 1222.3,119.8 1222.4,122.7 1222.5,103.6 1222.7,105.2 1222.8,107.8 1223.0,102.7 1223.1,88.6 1223.2,117.9 1223.4,101.5 1223.5,95.5 1223.6,99.4 1223.8,103.1 1223.9,102.1 1224.1,120.2 1224.2,112.2 1224.3,99.3 1224.5,95.4 1224.6,104.0 1224.7,111.8 1224.9,109.1 1225.0,100.6 1225.1,90.6 1225.3,101.0 1225.4,112.3 1225.6,102.4 1225.7,104.0 1225.8,86.9 1226.0,102.5 1226.1,107.4 1226.2,108.4 1226.4,118.5 1226.5,117.0 1226.7,111.9 1226.8,114.9 1226.9,106.0 1227.1,106.8 1227.2,99.2 1227.3,93.9 1227.5,106.3 1227.6,109.4 1227.8,124.8 1227.9,104.1 1228.0,101.5 1228.2,114.8 1228.3,111.3 1228.4,123.0 1228.6,97.6 1228.7,101.7 1228.8,95.9 1229.0,119.3 1229.1,81.8 1229.3,116.0 1229.4,117.7 1229.5,102.8 1229.7,113.2 1229.8,89.4 1229.9,111.8 1230.1,114.7 1230.2,97.7 1230.4,95.1 1230.5,116.4 1230.6,112.7 1230.8,116.6 1230.9,109.4 1231.0,89.5 1231.2,94.3 1231.3,96.2 1231.5,93.9 1231.6,107.6 1231.7,98.2 1231.9,108.6 1232.0,116.2 1232.1,89.1 1232.3,127.7 1232.4,107.8 1232.6,114.5 1232.7,127.1 1232.8,112.3 1233.0,107.1 1233.1,102.5 1233.2,117.8 1233.4,98.9 1233.5,104.3 1233.6,98.1 1233.8,131.5 1233.9,113.6 1234.1,115.7 1234.2,100.9 1234.3,117.3 1234.5,123.7 1234.6,122.6 1234.7,123.4 1234.9,120.2 1235.0,95.6 1235.2,122.0 1235.3,150.2 1235.4,99.0 1235.6,114.2 1235.7,100.8 1235.8,101.1 1236.0,112.5 1236.1,114.0 1236.3,115.9 1236.4,108.4 1236.5,119.1 1236.7,105.6 1236.8,89.0 1236.9,117.7 1237.1,117.2 1237.2,117.3 1237.4,99.6 1237.5,98.9 1237.6,87.7 1237.8,98.0 1237.9,106.4 1238.0,101.6 1238.2,127.3 1238.3,100.0 1238.4,105.6 1238.6,77.5 1238.7,87.8 1238.9,120.4 1239.0,116.6 1239.1,95.0 1239.3,51.3 1239.4,122.0 1239.5,102.6 1239.7,98.4 1239.8,105.3 1240.0,159.4 1240.1,112.3 1240.2,106.7 1240.4,111.1 1240.5,124.9 1240.6,106.8 1240.8,116.6 1240.9,106.9 1241.1,150.2 1241.2,106.4 1241.3,116.5 1241.5,117.6 1241.6,107.4 1241.7,115.4 1241.9,93.6 1242.0,88.6 1242.2,94.3 1242.3,93.0 1242.4,102.4 1242.6,107.6 1242.7,128.1 1242.8,113.8 1243.0,89.1 1243.1,96.1 1243.2,115.7 1243.4,106.4 1243.5,91.5 1243.7,110.6 1243.8,82.7 1243.9,119.9 1244.1,95.7 1244.2,97.2 1244.3,105.3 1244.5,103.3 1244.6,99.6 1244.8,143.4 1244.9,100.7 1245.0,90.2 1245.2,101.8 1245.3,90.3 1245.4,126.3 1245.6,109.0 1245.7,102.9 1245.9,112.1 1246.0,89.6 1246.1,100.5 1246.3,115.9 1246.4,95.4 1246.5,95.4 1246.7,114.7 1246.8,98.3 1246.9,102.2 1247.1,71.4 1247.2,127.2 1247.4,88.4 1247.5,98.1 1247.6,108.4 1247.8,94.7 1247.9,102.9 1248.0,112.7 1248.2,116.9 1248.3,106.5 1248.5,117.1 1248.6,115.4 1248.7,125.7 1248.9,112.2 1249.0,92.8 1249.1,104.8 1249.3,107.3 1249.4,112.8 1249.6,114.5 1249.7,130.7 1249.8,83.0 1250.0,119.0 1250.1,130.7 1250.2,95.9 1250.4,104.2 1250.5,115.9 1250.7,130.3 1250.8,128.9 1250.9,84.5 1251.1,109.8 1251.2,117.9 1251.3,80.2 1251.5,116.3 1251.6,121.9 1251.7,99.9 1251.9,102.6 1252.0,84.7 1252.2,131.3 1252.3,103.8 1252.4,133.4 1252.6,101.2 1252.7,117.8 1252.8,115.0 1253.0,119.0 1253.1,95.7 1253.3,84.1 1253.4,109.4 1253.5,111.9 1253.7,115.5 1253.8,100.4 1253.9,123.2 1254.1,65.9 1254.2,111.5 1254.4,83.1 1254.5,105.9 1254.6,128.1 1254.8,130.8 1254.9,114.2 1255.0,118.5 1255.2,111.7 1255.3,124.7 1255.5,74.6 1255.6,77.8 1255.7,134.0 1255.9,101.4 1256.0,91.3 1256.1,113.0 1256.3,111.4 1256.4,93.0 1256.5,100.7 1256.7,125.2 1256.8,91.3 1257.0,115.1 1257.1,82.8 1257.2,121.5 1257.4,139.6 1257.5,107.0 1257.6,55.0 1257.8,101.4 1257.9,106.3 1258.1,120.7 1258.2,96.3 1258.3,132.9 1258.5,98.1 1258.6,124.3 1258.7,116.3 1258.9,125.6 1259.0,120.3 1259.2,89.6 1259.3,123.6 1259.4,106.3 1259.6,118.7 1259.7,95.9 1259.8,125.6 1260.0,108.7 1260.1,97.7 1260.2,81.2 1260.4,123.1 1260.5,119.3 1260.7,109.4 1260.8,91.2 1260.9,120.8 1261.1,99.2 1261.2,116.1 1261.3,133.9 1261.5,127.1 1261.6,107.3 1261.8,97.7 1261.9,110.0 1262.0,132.5 1262.2,115.1 1262.3,98.2 1262.4,99.3 1262.6,105.9 1262.7,92.9 1262.9,122.5 1263.0,122.0 1263.1,65.9 1263.3,101.8 1263.4,111.0 1263.5,113.9 1263.7,135.4 1263.8,100.3 1264.0,129.9 1264.1,135.6 1264.2,109.4 1264.4,93.8 1264.5,112.8 1264.6,105.2 1264.8,113.1 1264.9,105.0 1265.0,124.9 1265.2,88.6 1265.3,118.0 1265.5,103.5 1265.6,128.2 1265.7,92.1 1265.9,104.7 1266.0,90.1 1266.1,114.9 1266.3,99.2 1266.4,110.3 1266.6,109.1 1266.7,96.9 1266.8,116.9 1267.0,102.0 1267.1,91.2 1267.2,93.0 1267.4,99.1 1267.5,105.7 1267.7,117.1 1267.8,95.9 1267.9,114.5 1268.1,98.0 1268.2,111.4 1268.3,108.4 1268.5,108.5 1268.6,103.2 1268.8,112.3 1268.9,106.9 1269.0,116.3 1269.2,103.9 1269.3,106.0 1269.4,104.8 1269.6,115.7 1269.7,105.7 1269.8,108.1 1270.0,100.6 1270.1,108.0 1270.3,116.7 1270.4,102.3 1270.5,114.1 1270.7,106.1 1270.8,125.9 1270.9,104.2 1271.1,102.9 1271.2,116.2 1271.4,100.2 1271.5,111.6 1271.6,96.9 1271.8,102.9 1271.9,119.0 1272.0,110.2 1272.2,123.4 1272.3,111.2 1272.5,103.9 1272.6,101.5 1272.7,109.4 1272.9,110.5 1273.0,107.1 1273.1,113.6 1273.3,105.7 1273.4,99.0 1273.5,106.8 1273.7,101.1 1273.8,115.1 1274.0,112.6 1274.1,105.5 1274.2,91.1 1274.4,99.7 1274.5,93.6 1274.6,107.9 1274.8,97.6 1274.9,139.9 1275.1,103.7 1275.2,126.3 1275.3,97.5 1275.5,100.1 1275.6,98.0 1275.7,104.6 1275.9,112.5 1276.0,114.7 1276.2,106.4 1276.3,94.8 1276.4,102.5 1276.6,112.9 1276.7,113.1 1276.8,114.4 1277.0,110.0 1277.1,108.9 1277.3,112.4 1277.4,108.0 1277.5,122.4 1277.7,93.8 1277.8,105.8 1277.9,77.6 1278.1,105.3 1278.2,109.8 1278.3,107.2 1278.5,105.9 1278.6,114.1 1278.8,111.5 1278.9,90.0 1279.0,99.1 1279.2,112.8 1279.3,102.9 1279.4,115.9 1279.6,94.5 1279.7,117.6 1279.9,99.2 1280.0,107.6 1280.1,107.5 1280.3,115.8 1280.4,110.4 1280.5,115.3 1280.7,126.8 1280.8,103.3 1281.0,82.8 1281.1,111.3 1281.2,97.8 1281.4,108.0 1281.5,115.1 1281.6,94.2 1281.8,101.4 1281.9,96.2 1282.1,106.6 1282.2,106.3 1282.3,116.3 1282.5,110.6 1282.6,90.3 1282.7,131.6 1282.9,103.7 1283.0,92.3 1283.1,99.3 1283.3,98.4 1283.4,110.6 1283.6,95.7 1283.7,95.3 1283.8,108.1 1284.0,89.6 1284.1,113.0 1284.2,134.7 1284.4,107.8 1284.5,108.9 1284.7,117.1 1284.8,112.8 1284.9,113.7 1285.1,128.0 1285.2,94.0 1285.3,107.6 1285.5,77.6 1285.6,107.9 1285.8,103.2 1285.9,124.8 1286.0,96.2 1286.2,128.4 1286.3,101.6 1286.4,97.1 1286.6,99.0 1286.7,117.3 1286.8,117.0 1287.0,99.0 1287.1,94.0 1287.3,90.9 1287.4,108.0 1287.5,109.0 1287.7,86.8 1287.8,114.7 1287.9,98.8 1288.1,111.4 1288.2,124.5 1288.4,120.9 1288.5,102.4 1288.6,105.2 1288.8,101.9 1288.9,111.9 1289.0,118.3 1289.2,104.4 1289.3,110.0 1289.5,126.9 1289.6,113.0 1289.7,68.4 1289.9,116.9 1290.0,101.2 1290.1,108.8 1290.3,99.1 1290.4,118.3 1290.6,123.2 1290.7,102.5 1290.8,116.3 1291.0,108.3 1291.1,111.7 1291.2,96.4 1291.4,104.9 1291.5,106.3 1291.6,119.6 1291.8,126.7 1291.9,118.0 1292.1,98.0 1292.2,99.7 1292.3,101.0 1292.5,112.8 1292.6,120.2 1292.7,148.4 1292.9,105.8 1293.0,101.7 1293.2,119.2 1293.3,116.1 1293.4,100.4 1293.6,99.3 1293.7,119.8 1293.8,104.6 1294.0,121.8 1294.1,93.7 1294.3,100.3 1294.4,81.5 1294.5,90.4 1294.7,115.7 1294.8,105.8 1294.9,113.6 1295.1,106.4 1295.2,99.0 1295.4,108.1 1295.5,107.4 1295.6,123.4 1295.8,101.5 1295.9,108.2 1296.0,101.0 1296.2,96.3 1296.3,107.7 1296.4,100.2 1296.6,114.9 1296.7,97.5 1296.9,108.3 1297.0,114.7 1297.1,110.6 1297.3,123.7 1297.4,115.2 1297.5,112.8 1297.7,107.8 1297.8,109.0 1298.0,115.1 1298.1,110.1 1298.2,131.1 1298.4,107.1 1298.5,102.2 1298.6,99.7 1298.8,96.7 1298.9,110.3 1299.1,109.0 1299.2,113.2 1299.3,113.2 1299.5,106.9 1299.6,94.3 1299.7,141.5 1299.9,113.3 1300.0,105.4 1300.2,118.4 1300.3,104.0 1300.4,75.1 1300.6,111.7 1300.7,150.2 1300.8,105.5 1301.0,116.1 1301.1,101.9 1301.2,111.2 1301.4,117.7 1301.5,112.4 1301.7,106.4 1301.8,108.5 1301.9,110.9 1302.1,111.8 1302.2,108.3 1302.3,100.3 1302.5,113.8 1302.6,104.3 1302.8,120.9 1302.9,99.7 1303.0,105.0 1303.2,111.7 1303.3,111.4 1303.4,124.1 1303.6,107.5 1303.7,110.6 1303.9,121.1 1304.0,112.4 1304.1,103.1 1304.3,106.8 1304.4,103.8 1304.5,113.3 1304.7,100.8 1304.8,108.6 1304.9,100.8 1305.1,88.7 1305.2,126.0 1305.4,112.7 1305.5,108.3 1305.6,114.7 1305.8,99.3 1305.9,111.3 1306.0,93.8 1306.2,101.7 1306.3,104.6 1306.5,108.4 1306.6,101.0 1306.7,104.0 1306.9,95.7 1307.0,104.6 1307.1,99.4 1307.3,104.7 1307.4,105.3 1307.6,135.1 1307.7,108.0 1307.8,104.8 1308.0,117.8 1308.1,119.6 1308.2,110.6 1308.4,105.6 1308.5,122.1 1308.7,105.5 1308.8,100.2 1308.9,110.1 1309.1,103.8 1309.2,104.3 1309.3,113.5 1309.5,103.0 1309.6,104.4 1309.7,118.1 1309.9,103.9 1310.0,101.0 1310.2,116.8 1310.3,101.1 1310.4,110.2 1310.6,118.8 1310.7,116.4 1310.8,115.1 1311.0,103.8 1311.1,111.9 1311.3,111.2 1311.4,118.1 1311.5,107.9 1311.7,132.6 1311.8,113.4 1311.9,103.2 1312.1,102.8 1312.2,112.3 1312.4,108.5 1312.5,103.9 1312.6,108.2 1312.8,98.6 1312.9,97.5 1313.0,108.8 1313.2,117.8 1313.3,109.3 1313.5,97.5 1313.6,99.2 1313.7,98.8 1313.9,92.5 1314.0,112.1 1314.1,105.9 1314.3,99.5 1314.4,106.0 1314.5,101.1 1314.7,115.9 1314.8,117.6 1315.0,92.2 1315.1,102.0 1315.2,103.2 1315.4,96.5 1315.5,90.5 1315.6,85.4 1315.8,126.9 1315.9,104.9 1316.1,99.8 1316.2,123.0 1316.3,122.0 1316.5,109.3 1316.6,93.1 1316.7,100.5 1316.9,90.9 1317.0,105.7 1317.2,99.5 1317.3,95.9 1317.4,104.3 1317.6,108.1 1317.7,107.0 1317.8,137.2 1318.0,105.4 1318.1,82.4 1318.2,114.5 1318.4,102.4 1318.5,104.8 1318.7,124.0 1318.8,103.8 1318.9,102.0 1319.1,104.4 1319.2,102.5 1319.3,103.5 1319.5,121.7 1319.6,109.8 1319.8,110.5 1319.9,117.9 1320.0,108.5 1320.2,114.7 1320.3,108.8 1320.4,115.1 1320.6,99.6 1320.7,90.1 1320.9,112.8 1321.0,107.8 1321.1,107.7 1321.3,104.5 1321.4,109.6 1321.5,126.5 1321.7,105.3 1321.8,109.3 1322.0,117.1 1322.1,109.9 1322.2,112.4 1322.4,106.3 1322.5,110.9 1322.6,110.6 1322.8,107.4 1322.9,106.2 1323.0,108.1 1323.2,98.4 1323.3,106.2 1323.5,114.8 1323.6,93.6 1323.7,107.2 1323.9,94.9 1324.0,117.4 1324.1,103.4 1324.3,93.5 1324.4,97.3 1324.6,107.5 1324.7,113.4 1324.8,113.5 1325.0,109.9 1325.1,116.8 1325.2,114.8 1325.4,117.1 1325.5,117.1 1325.7,106.2 1325.8,124.0 1325.9,106.8 1326.1,102.1 1326.2,116.8 1326.3,116.5 1326.5,108.1 1326.6,108.7 1326.8,99.6 1326.9,126.5 1327.0,108.9 1327.2,79.5 1327.3,107.5 1327.4,91.8 1327.6,87.9 1327.7,113.4 1327.8,94.2 1328.0,103.4 1328.1,108.4 1328.3,110.9 1328.4,110.4 1328.5,117.0 1328.7,109.9 1328.8,99.1 1328.9,96.0 1329.1,112.0 1329.2,103.0 1329.4,103.5 1329.5,131.7 1329.6,101.1 1329.8,120.6 1329.9,119.8 1330.0,99.7 1330.2,91.2 1330.3,119.6 1330.5,117.3 1330.6,118.1 1330.7,113.7 1330.9,112.3 1331.0,117.0 1331.1,125.4 1331.3,89.6 1331.4,113.6 1331.5,116.5 1331.7,98.7 1331.8,112.3 1332.0,96.6 1332.1,99.8 1332.2,97.6 1332.4,112.7 1332.5,101.3 1332.6,125.6 1332.8,123.7 1332.9,107.6 1333.1,111.8 1333.2,93.1 1333.3,111.4 1333.5,128.5 1333.6,107.6 1333.7,111.7 1333.9,106.1 1334.0,121.9 1334.2,117.4 1334.3,107.6 1334.4,99.5 1334.6,103.4 1334.7,90.1 1334.8,125.7 1335.0,110.8 1335.1,105.6 1335.3,96.5 1335.4,105.0 1335.5,111.2 1335.7,76.9 1335.8,109.3 1335.9,126.0 1336.1,107.5 1336.2,83.2 1336.3,99.2 1336.5,131.7 1336.6,108.2 1336.8,127.3 1336.9,94.1 1337.0,101.2 1337.2,99.0 1337.3,116.8 1337.4,133.3 1337.6,121.8 1337.7,112.8 1337.9,127.9 1338.0,121.4 1338.1,84.8 1338.3,125.7 1338.4,100.8 1338.5,133.1 1338.7,104.7 1338.8,96.8 1339.0,102.0 1339.1,91.7 1339.2,83.6 1339.4,133.7 1339.5,104.4 1339.6,100.9 1339.8,102.1 1339.9,85.9 1340.1,104.1 1340.2,91.1 1340.3,91.7 1340.5,105.8 1340.6,100.1 1340.7,118.6 1340.9,98.3 1341.0,105.0 1341.1,109.8 1341.3,114.2 1341.4,93.8 1341.6,109.2 1341.7,75.0 1341.8,88.8 1342.0,96.6 1342.1,115.9 1342.2,94.4 1342.4,105.4 1342.5,106.2 1342.7,123.3 1342.8,99.0 1342.9,103.8 1343.1,114.1 1343.2,117.1 1343.3,111.3 1343.5,126.5 1343.6,115.3 1343.8,87.2 1343.9,116.7 1344.0,73.6 1344.2,126.8 1344.3,91.3 1344.4,91.4 1344.6,90.3 1344.7,98.9 1344.8,130.7 1345.0,90.5 1345.1,91.6 1345.3,106.6 1345.4,141.6 1345.5,91.6 1345.7,120.8 1345.8,111.3 1345.9,89.3 1346.1,88.0 1346.2,101.7 1346.4,115.4 1346.5,82.6 1346.6,90.6 1346.8,109.6 1346.9,121.3 1347.0,103.3 1347.2,126.9 1347.3,82.0 1347.5,100.2 1347.6,112.6 1347.7,101.6 1347.9,131.4 1348.0,108.5 1348.1,116.7 1348.3,130.1 1348.4,116.6 1348.6,102.7 1348.7,127.9 1348.8,110.5 1349.0,128.2 1349.1,104.9 1349.2,132.4 1349.4,97.8 1349.5,98.6 1349.6,96.3 1349.8,82.9 1349.9,105.5 1350.1,106.2 1350.2,99.6 1350.3,114.3 1350.5,133.7 1350.6,124.5 1350.7,124.5 1350.9,105.4 1351.0,116.5 1351.2,113.3 1351.3,100.5 1351.4,101.6 1351.6,81.6 1351.7,108.7 1351.8,120.4 1352.0,91.5 1352.1,113.4 1352.3,108.9 1352.4,95.2 1352.5,105.7 1352.7,99.0 1352.8,115.8 1352.9,111.7 1353.1,99.8 1353.2,114.6 1353.4,119.8 1353.5,108.3 1353.6,88.0 1353.8,89.5 1353.9,104.8 1354.0,106.7 1354.2,116.0 1354.3,91.5 1354.4,102.5 1354.6,96.1 1354.7,124.2 1354.9,97.8 1355.0,102.2 1355.1,98.4 1355.3,95.1 1355.4,107.1 1355.5,111.5 1355.7,99.2 1355.8,121.0 1356.0,90.8 1356.1,103.2 1356.2,119.7 1356.4,92.6 1356.5,96.2 1356.6,89.9 1356.8,75.1 1356.9,101.5 1357.1,107.3 1357.2,131.6 1357.3,98.7 1357.5,100.4 1357.6,111.4 1357.7,100.5 1357.9,116.4 1358.0,95.6 1358.1,105.2 1358.3,104.3 1358.4,114.5 1358.6,97.0 1358.7,105.2 1358.8,112.8 1359.0,102.9 1359.1,109.1 1359.2,96.4 1359.4,122.3 1359.5,118.6 1359.7,86.7 1359.8,112.0 1359.9,102.1 1360.1,113.5 1360.2,105.0 1360.3,81.4 1360.5,126.4 1360.6,101.8 1360.8,106.6 1360.9,106.8 1361.0,114.7 1361.2,116.3 1361.3,94.2 1361.4,102.4 1361.6,118.5 1361.7,107.2 1361.9,119.7 1362.0,80.5 1362.1,103.8 1362.3,123.9 1362.4,98.8 1362.5,101.6 1362.7,104.5 1362.8,105.7 1362.9,112.3 1363.1,109.1 1363.2,125.6 1363.4,95.6 1363.5,89.4 1363.6,102.9 1363.8,101.9 1363.9,119.5 1364.0,111.2 1364.2,119.9 1364.3,118.9 1364.5,102.7 1364.6,95.1 1364.7,108.0 1364.9,85.9 1365.0,100.3 1365.1,127.0 1365.3,111.0 1365.4,96.3 1365.6,106.2 1365.7,98.6 1365.8,121.9 1366.0,96.6 1366.1,117.6 1366.2,104.6 1366.4,89.6 1366.5,106.9 1366.7,109.5 1366.8,101.1 1366.9,114.6 1367.1,115.6 1367.2,99.4 1367.3,120.1 1367.5,118.0 1367.6,92.9 1367.7,118.0 1367.9,103.9 1368.0,98.4 1368.2,108.2 1368.3,116.5 1368.4,100.8 1368.6,124.2 1368.7,90.2 1368.8,89.4 1369.0,116.2 1369.1,102.9 1369.3,113.5 1369.4,104.6 1369.5,109.8 1369.7,115.8 1369.8,103.5 1369.9,121.3 1370.1,105.2 1370.2,109.0 1370.4,114.2 1370.5,100.3 1370.6,107.4 1370.8,110.6 1370.9,109.1 1371.0,109.6 1371.2,100.1 1371.3,86.1 1371.5,131.6 1371.6,133.4 1371.7,116.5 1371.9,118.2 1372.0,110.1 1372.1,119.0 1372.3,114.5 1372.4,96.9 1372.5,118.9 1372.7,100.8 1372.8,108.9 1373.0,97.0 1373.1,100.4 1373.2,107.3 1373.4,98.8 1373.5,105.9 1373.6,117.1 1373.8,103.5 1373.9,103.5 1374.1,108.6 1374.2,105.4 1374.3,111.2 1374.5,104.8 1374.6,109.9 1374.7,128.6 1374.9,109.8 1375.0,94.0 1375.2,100.5 1375.3,94.7 1375.4,107.5 1375.6,111.0 1375.7,116.6 1375.8,106.2 1376.0,98.7 1376.1,100.4 1376.2,101.1 1376.4,111.9 1376.5,106.5 1376.7,114.3 1376.8,100.2 1376.9,102.2 1377.1,113.1 1377.2,106.4 1377.3,127.7 1377.5,101.2 1377.6,114.8 1377.8,110.8 1377.9,102.1 1378.0,101.4 1378.2,113.6 1378.3,93.0 1378.4,89.0 1378.6,94.2 1378.7,95.4 1378.9,107.0 1379.0,94.6 1379.1,115.7 1379.3,130.1 1379.4,106.0 1379.5,105.1 1379.7,115.7 1379.8,90.6 1380.0,121.5 1380.1,127.4 1380.2,114.7 1380.4,91.7 1380.5,100.3 1380.6,104.2 1380.8,106.2 1380.9,102.0 1381.0,104.4 1381.2,104.5 1381.3,108.8 1381.5,123.7 1381.6,97.8 1381.7,112.0 1381.9,103.8 1382.0,102.6 1382.1,97.0 1382.3,115.8 1382.4,99.1 1382.6,98.8 1382.7,108.8 1382.8,108.2 1383.0,106.1 1383.1,118.5 1383.2,112.5 1383.4,119.8 1383.5,94.9 1383.7,116.1 1383.8,119.3 1383.9,106.0 1384.1,101.8 1384.2,111.8 1384.3,118.2 1384.5,103.1 1384.6,92.0 1384.8,126.1 1384.9,97.5 1385.0,145.1 1385.2,88.1 1385.3,112.8 1385.4,110.7 1385.6,99.5 1385.7,91.1 1385.8,83.5 1386.0,91.8 1386.1,99.7 1386.3,123.4 1386.4,112.5 1386.5,105.0 1386.7,114.9 1386.8,100.8 1386.9,110.7 1387.1,86.2 1387.2,110.0 1387.4,123.1 1387.5,114.0 1387.6,116.5 1387.8,99.1 1387.9,90.6 1388.0,95.2 1388.2,95.1 1388.3,116.2 1388.5,121.4 1388.6,117.7 1388.7,73.3 1388.9,112.0 1389.0,104.1 1389.1,94.8 1389.3,106.6 1389.4,86.1 1389.5,117.4 1389.7,146.6 1389.8,108.3 1390.0,94.7 1390.1,107.9 1390.2,114.3 1390.4,109.1 1390.5,128.2 1390.6,121.6 1390.8,97.2 1390.9,121.1 1391.1,91.9 1391.2,75.1 1391.3,112.4 1391.5,96.3 1391.6,108.6 1391.7,132.2 1391.9,108.9 1392.0,88.4 1392.2,123.5 1392.3,109.8 1392.4,112.4 1392.6,126.6 1392.7,103.6 1392.8,109.7 1393.0,100.2 1393.1,106.0 1393.3,126.2 1393.4,106.1 1393.5,99.7 1393.7,111.1 1393.8,100.6 1393.9,100.8 1394.1,135.9 1394.2,99.9 1394.3,134.2 1394.5,124.8 1394.6,109.9 1394.8,120.8 1394.9,118.6 1395.0,94.0 1395.2,122.1 1395.3,93.1 1395.4,85.0 1395.6,90.4 1395.7,122.5 1395.9,127.9 1396.0,107.7 1396.1,81.6 1396.3,111.2 1396.4,115.6 1396.5,110.0 1396.7,99.0 1396.8,93.6 1397.0,109.2 1397.1,110.1 1397.2,102.2 1397.4,108.1 1397.5,113.6 1397.6,150.2 1397.8,107.0 1397.9,115.9 1398.1,111.4 1398.2,133.7 1398.3,119.2 1398.5,101.8 1398.6,87.6 1398.7,102.2 1398.9,122.9 1399.0,106.4 1399.1,100.2 1399.3,109.7 1399.4,100.3 1399.6,125.0 1399.7,111.0 1399.8,91.8 1400.0,96.9 1400.1,109.9 1400.2,107.0 1400.4,83.9 1400.5,96.0 1400.7,116.3 1400.8,104.8 1400.9,113.4 1401.1,114.9 1401.2,121.7 1401.3,100.4 1401.5,83.8 1401.6,98.8 1401.8,122.4 1401.9,102.4 1402.0,123.9 1402.2,105.8 1402.3,96.9 1402.4,92.4 1402.6,105.1 1402.7,104.7 1402.8,108.0 1403.0,109.9 1403.1,91.8 1403.3,117.9 1403.4,124.5 1403.5,90.1 1403.7,85.0 1403.8,124.3 1403.9,98.6 1404.1,99.9 1404.2,115.7 1404.4,117.6 1404.5,106.5 1404.6,111.4 1404.8,100.0 1404.9,123.9 1405.0,96.6 1405.2,114.2 1405.3,92.3 1405.5,99.5 1405.6,97.2 1405.7,111.7 1405.9,110.2 1406.0,108.9 1406.1,96.9 1406.3,114.2 1406.4,115.4 1406.6,110.1 1406.7,104.8 1406.8,108.8 1407.0,108.6 1407.1,133.0 1407.2,113.7 1407.4,117.8 1407.5,98.6 1407.6,108.4 1407.8,102.0 1407.9,119.8 1408.1,108.4 1408.2,99.9 1408.3,125.9 1408.5,113.8 1408.6,112.6 1408.7,106.8 1408.9,105.6 1409.0,120.4 1409.2,105.2 1409.3,106.3 1409.4,105.6 1409.6,115.6 1409.7,108.7 1409.8,97.2 1410.0,98.3 1410.1,113.3 1410.3,94.6 1410.4,111.7 1410.5,115.7 1410.7,98.7 1410.8,105.4 1410.9,89.0 1411.1,110.0 1411.2,107.0 1411.4,102.0 1411.5,105.9 1411.6,111.4 1411.8,108.1 1411.9,108.3 1412.0,108.3 1412.2,108.3 1412.3,120.7 1412.4,100.8 1412.6,113.1 1412.7,110.1 1412.9,114.5 1413.0,109.8 1413.1,100.2 1413.3,97.8 1413.4,105.5 1413.5,106.8 1413.7,112.3 1413.8,110.3 1414.0,103.3 1414.1,109.3 1414.2,116.0 1414.4,107.6 1414.5,116.5 1414.6,91.5 1414.8,105.6 1414.9,112.6 1415.1,104.3 1415.2,114.1 1415.3,110.1 1415.5,95.7 1415.6,97.8 1415.7,117.5 1415.9,117.0 1416.0,117.8 1416.1,90.0 1416.3,107.6 1416.4,106.0 1416.6,112.2 1416.7,97.4 1416.8,100.3 1417.0,122.0 1417.1,114.9 1417.2,122.8 1417.4,117.4 1417.5,114.7 1417.7,118.9 1417.8,113.2 1417.9,102.5 1418.1,98.9 1418.2,106.5 1418.3,102.2 1418.5,119.1 1418.6,96.0 1418.8,89.3 1418.9,109.3 1419.0,100.5 1419.2,105.1 1419.3,126.0 1419.4,99.6 1419.6,104.1 1419.7,136.3 1419.9,111.6 1420.0,98.3 1420.1,103.2 1420.3,119.8 1420.4,113.0 1420.5,114.0 1420.7,106.8 1420.8,114.2 1420.9,107.7 1421.1,109.6 1421.2,121.1 1421.4,104.5 1421.5,105.8 1421.6,114.2 1421.8,101.5 1421.9,87.6 1422.0,122.4 1422.2,106.1 1422.3,100.5 1422.5,107.8 1422.6,113.5 1422.7,87.7 1422.9,112.8 1423.0,109.4 1423.1,114.3 1423.3,96.5 1423.4,128.7 1423.6,116.8 1423.7,112.6 1423.8,105.0 1424.0,104.7 1424.1,98.2 1424.2,109.4 1424.4,115.6 1424.5,108.8 1424.7,117.1 1424.8,113.7 1424.9,113.1 1425.1,104.9 1425.2,99.3 1425.3,119.9 1425.5,114.6 1425.6,108.4 1425.7,108.0 1425.9,110.9 1426.0,101.7 1426.2,110.6 1426.3,127.9 1426.4,93.1 1426.6,122.5 1426.7,89.1 1426.8,105.1 1427.0,104.3 1427.1,125.6 1427.3,104.9 1427.4,110.6 1427.5,118.4 1427.7,101.4 1427.8,98.8 1427.9,93.3 1428.1,123.5 1428.2,118.1 1428.4,90.4 1428.5,101.3 1428.6,97.6 1428.8,114.9 1428.9,103.4 1429.0,97.3 1429.2,124.2 1429.3,117.1 1429.4,104.6 1429.6,89.3 1429.7,113.7 1429.9,98.8 1430.0,119.4 1430.1,124.3 1430.3,99.1 1430.4,122.1 1430.5,107.3 1430.7,115.7 1430.8,100.5 1431.0,125.8 1431.1,127.9 1431.2,128.2 1431.4,110.7 1431.5,89.3 1431.6,95.9 1431.8,105.1 1431.9,109.9 1432.1,90.1 1432.2,109.4 1432.3,92.6 1432.5,73.5 1432.6,97.9 1432.7,102.1 1432.9,102.2 1433.0,109.2 1433.2,103.8 1433.3,121.1 1433.4,142.9 1433.6,84.7 1433.7,109.9 1433.8,133.3 1434.0,87.9 1434.1,87.9 1434.2,101.4 1434.4,126.4 1434.5,79.3 1434.7,92.0 1434.8,89.8 1434.9,111.7 1435.1,101.9 1435.2,112.1 1435.3,111.6 1435.5,125.2 1435.6,119.5 1435.8,115.5 1435.9,107.6 1436.0,93.9 1436.2,100.1 1436.3,134.0 1436.4,79.5 1436.6,129.6 1436.7,101.3 1436.9,111.0 1437.0,107.3 1437.1,114.9 1437.3,122.9 1437.4,85.8 1437.5,64.1 1437.7,120.4 1437.8,90.3 1438.0,108.5 1438.1,108.1 1438.2,119.7 1438.4,123.3 1438.5,100.5 1438.6,110.6 1438.8,103.9 1438.9,98.5 1439.0,130.4 1439.2,121.6 1439.3,116.8 1439.5,102.4 1439.6,99.7 1439.7,121.2 1439.9,111.1 1440.0,109.7 1440.1,109.7 1440.3,89.7 1440.4,117.2 1440.6,106.5 1440.7,135.5 1440.8,109.7 1441.0,107.0 1441.1,100.4 1441.2,114.2 1441.4,114.7 1441.5,121.8 1441.7,113.9 1441.8,82.3 1441.9,127.0 1442.1,126.7 1442.2,107.3 1442.3,118.4 1442.5,95.3 1442.6,124.1 1442.8,91.3 1442.9,112.9 1443.0,125.2 1443.2,130.8 1443.3,117.4 1443.4,114.8 1443.6,104.8 1443.7,121.0 1443.8,78.6 1444.0,100.2 1444.1,110.1 1444.3,113.6 1444.4,82.7 1444.5,115.5 1444.7,101.2 1444.8,94.5 1444.9,116.8 1445.1,102.9 1445.2,112.7 1445.4,95.6 1445.5,95.0 1445.6,103.3 1445.8,106.7 1445.9,118.9 1446.0,86.5 1446.2,94.8 1446.3,101.8 1446.5,95.1 1446.6,107.9 1446.7,117.7 1446.9,100.0 1447.0,116.3 1447.1,112.6 1447.3,101.7 1447.4,121.3 1447.5,107.8 1447.7,110.5 1447.8,123.8 1448.0,118.1 1448.1,109.9 1448.2,110.5 1448.4,106.8 1448.5,120.1 1448.6,107.4 1448.8,118.1 1448.9,114.4 1449.1,100.5 1449.2,113.3 1449.3,111.9 1449.5,122.2 1449.6,108.1 1449.7,101.8 1449.9,110.7 1450.0,103.2 1450.2,117.6 1450.3,100.2 1450.4,108.9 1450.6,107.6 1450.7,114.6 1450.8,112.4 1451.0,105.9 1451.1,116.2 1451.3,102.8 1451.4,111.1 1451.5,105.0 1451.7,115.7 1451.8,118.9 1451.9,103.9 1452.1,103.6 1452.2,108.4 1452.3,103.9 1452.5,108.2 1452.6,103.9 1452.8,107.2 1452.9,114.1 1453.0,101.2 1453.2,114.0 1453.3,94.2 1453.4,109.0 1453.6,113.7 1453.7,109.4 1453.9,107.7 1454.0,107.2 1454.1,104.8 1454.3,111.5 1454.4,119.9 1454.5,112.9 1454.7,105.5 1454.8,101.7 1455.0,119.2 1455.1,107.4 1455.2,101.8 1455.4,115.7 1455.5,98.7 1455.6,112.1 1455.8,108.6 1455.9,110.6 1456.1,98.6 1456.2,103.3 1456.3,107.3 1456.5,109.8 1456.6,116.6 1456.7,109.5 1456.9,111.0 1457.0,108.6 1457.1,117.4 1457.3,101.8 1457.4,103.6 1457.6,100.3 1457.7,110.8 1457.8,108.2 1458.0,113.7 1458.1,103.9 1458.2,109.0 1458.4,100.4 1458.5,104.7 1458.7,104.6 1458.8,105.6 1458.9,114.4 1459.1,104.8 1459.2,114.9 1459.3,106.7 1459.5,105.5 1459.6,112.8 1459.8,110.6 1459.9,109.1 1460.0,106.9 1460.2,106.8 1460.3,107.9 1460.4,111.4 1460.6,106.9 1460.7,98.5 1460.8,110.2 1461.0,102.1 1461.1,112.4 1461.3,110.4 1461.4,103.2 1461.5,105.0 1461.7,102.4 1461.8,105.9 1461.9,110.1 1462.1,107.8 1462.2,109.5 1462.4,104.6 1462.5,106.0 1462.6,104.0 1462.8,110.2 1462.9,108.8 1463.0,110.6 1463.2,109.2 1463.3,108.5 1463.5,104.3 1463.6,107.6 1463.7,104.7 1463.9,107.5 1464.0,113.1 1464.1,111.9 1464.3,108.5 1464.4,105.0 1464.6,108.0 1464.7,111.9 1464.8,107.8 1465.0,108.7 1465.1,106.6 1465.2,106.1 1465.4,107.4 1465.5,109.6 1465.6,110.4 1465.8,108.9 1465.9,108.2 1466.1,107.3 1466.2,109.1 1466.3,109.5 1466.5,107.0 1466.6,104.8 1466.7,107.5 1466.9,110.3 1467.0,108.8 1467.2,103.3 1467.3,110.4 1467.4,108.9 1467.6,106.1 1467.7,110.2 1467.8,108.8 1468.0,105.2 1468.1,105.9 1468.3,112.0 1468.4,106.7 1468.5,108.8 1468.7,111.1 1468.8,105.7 1468.9,109.2 1469.1,108.2 1469.2,110.0 1469.4,106.3 1469.5,106.1 1469.6,106.3 1469.8,102.8 1469.9,106.7 1470.0,108.7 1470.2,106.8 1470.3,107.2 1470.4,106.4 1470.6,113.0 1470.7,106.0 1470.9,103.5 1471.0,106.0 1471.1,109.1 1471.3,103.2 1471.4,106.1 1471.5,103.3 1471.7,105.6 1471.8,108.3 1472.0,111.1 1472.1,107.4 1472.2,106.4 1472.4,108.4 1472.5,110.3 1472.6,105.8 1472.8,109.1 1472.9,104.6 1473.1,108.7 1473.2,106.7 1473.3,108.2 1473.5,106.7 1473.6,106.4 1473.7,111.9 1473.9,109.0 1474.0,109.7 1474.1,108.8 1474.3,107.7 1474.4,105.3 1474.6,109.7 1474.7,106.5 1474.8,108.4 1475.0,109.0 1475.1,110.7 1475.2,109.2 1475.4,109.9 1475.5,106.7 1475.7,104.6 1475.8,106.6 1475.9,106.2 1476.1,109.3 1476.2,106.3 1476.3,109.4 1476.5,109.5 1476.6,107.2 1476.8,109.0 1476.9,106.5 1477.0,107.4 1477.2,108.2 1477.3,108.9 1477.4,107.3 1477.6,107.2 1477.7,107.6 1477.9,105.5 1478.0,108.8 1478.1,110.4 1478.3,110.3 1478.4,109.6 1478.5,109.5 1478.7,107.9 1478.8,104.6 1478.9,109.7 1479.1,109.3 1479.2,108.7 1479.4,109.6 1479.5,109.2 1479.6,106.4 1479.8,105.3 1479.9,109.1 1480.0,107.9 1480.2,106.0 1480.3,107.1 1480.5,108.1 1480.6,107.1 1480.7,107.9 1480.9,110.2 1481.0,105.3 1481.1,108.9 1481.3,108.7 1481.4,107.2 1481.6,109.9 1481.7,106.5 1481.8,109.1 1482.0,109.5 1482.1,106.8 1482.2,106.6 1482.4,106.1 1482.5,105.4 1482.7,111.3 1482.8,108.2 1482.9,111.4 1483.1,109.1 1483.2,106.3 1483.3,107.3 1483.5,107.3 1483.6,107.1 1483.7,108.6 1483.9,105.6 1484.0,109.6 1484.2,106.7 1484.3,108.9 1484.4,109.4 1484.6,104.3 1484.7,108.5 1484.8,106.7 1485.0,109.2 1485.1,109.1 1485.3,105.8 1485.4,107.2 1485.5,107.8 1485.7,107.1 1485.8,106.0 1485.9,106.4 1486.1,107.1 1486.2,106.7 1486.4,107.4 1486.5,107.7 1486.6,106.0 1486.8,111.6 1486.9,106.5 1487.0,107.9 1487.2,107.6 1487.3,108.3 1487.4,109.1 1487.6,106.9 1487.7,109.9 1487.9,109.6 1488.0,109.6 1488.1,102.4 1488.3,108.0 1488.4,108.0 1488.5,110.3 1488.7,107.9 1488.8,106.6 1489.0,109.8 1489.1,107.9 1489.2,107.7 1489.4,107.0 1489.5,106.5 1489.6,104.9 1489.8,108.1 1489.9,108.0 1490.1,109.1 1490.2,106.5 1490.3,108.1 1490.5,107.3 1490.6,106.2 1490.7,108.3 1490.9,108.4 1491.0,107.8 1491.2,107.8 1491.3,108.0 1491.4,108.3 1491.6,108.1 1491.7,106.2 1491.8,109.0 1492.0,107.9 1492.1,108.1 1492.2,106.4 1492.4,108.9 1492.5,108.7 1492.7,108.8 1492.8,106.8 1492.9,107.1 1493.1,107.4 1493.2,107.8 1493.3,104.6 1493.5,107.6 1493.6,111.0 1493.8,110.3 1493.9,110.2 1494.0,108.7 1494.2,110.3 1494.3,108.1 1494.4,112.2 1494.6,108.2 1494.7,109.0 1494.9,107.3 1495.0,107.9 1495.1,109.5 1495.3,105.4 1495.4,109.8 1495.5,108.9 1495.7,110.1 1495.8,106.7 1496.0,106.7 1496.1,108.2 1496.2,111.7 1496.4,107.0 1496.5,105.5 1496.6,109.4 1496.8,107.4 1496.9,106.8 1497.0,108.0 1497.2,109.8 1497.3,108.4 1497.5,109.0 1497.6,107.3 1497.7,110.6 1497.9,106.7 1498.0,108.0 1498.1,112.3 1498.3,109.5 1498.4,107.3 1498.6,106.3 1498.7,106.9 1498.8,104.0 1499.0,107.8 1499.1,109.8 1499.2,108.1 1499.4,109.1 1499.5,111.5 1499.7,106.6 1499.8,109.5 1499.9,109.4 1500.1,105.6 1500.2,109.0 1500.3,109.3 1500.5,106.9 1500.6,105.5 1500.7,110.7 1500.9,109.6 1501.0,109.0 1501.2,107.0 1501.3,107.8 1501.4,105.3 1501.6,110.1 1501.7,108.3 1501.8,106.1 1502.0,110.6 1502.1,106.6 1502.3,109.2 1502.4,107.7 1502.5,109.5 1502.7,107.3 1502.8,107.1 1502.9,108.5 1503.1,105.9 1503.2,109.5 1503.4,104.9 1503.5,109.6 1503.6,106.8 1503.8,107.0 1503.9,109.1 1504.0,106.0 1504.2,108.2 1504.3,109.9 1504.5,108.5 1504.6,106.9 1504.7,108.0 1504.9,106.9 1505.0,106.2 1505.1,107.0 1505.3,107.4 1505.4,107.8 1505.5,107.5 1505.7,106.2 1505.8,108.8 1506.0,108.3 1506.1,107.0 1506.2,110.6 1506.4,106.8 1506.5,108.0 1506.6,106.5 1506.8,108.8 1506.9,108.3 1507.1,106.5 1507.2,109.4 1507.3,106.8 1507.5,106.6 1507.6,107.9 1507.7,110.5 1507.9,109.5 1508.0,107.6 1508.2,106.7 1508.3,112.6 1508.4,107.6 1508.6,107.8 1508.7,109.9 1508.8,107.8 1509.0,109.0 1509.1,109.9 1509.3,105.9 1509.4,109.0 1509.5,109.8 1509.7,109.8 1509.8,102.0 1509.9,106.9 1510.1,107.4 1510.2,109.1 1510.3,107.6 1510.5,108.0 1510.6,107.2 1510.8,109.8 1510.9,107.2 1511.0,106.9 1511.2,109.2 1511.3,109.2 1511.4,108.2 1511.6,109.7 1511.7,108.4 1511.9,108.4 1512.0,106.4 1512.1,109.3 1512.3,108.5 1512.4,106.5 1512.5,110.1 1512.7,106.9 1512.8,108.6 1513.0,107.4 1513.1,108.1 1513.2,107.3 1513.4,112.0 1513.5,108.9 1513.6,110.6 1513.8,108.4 1513.9,108.8 1514.0,108.0 1514.2,106.1 1514.3,107.5 1514.5,107.6 1514.6,107.3 1514.7,108.3 1514.9,106.3 1515.0,107.3 1515.1,108.0 1515.3,106.7 1515.4,108.5 1515.6,108.6 1515.7,109.1 1515.8,109.7 1516.0,111.5 1516.1,106.7 1516.2,108.6 1516.4,108.1 1516.5,106.6 1516.7,108.2 1516.8,109.2 1516.9,109.0 1517.1,108.6 1517.2,106.9 1517.3,108.7 1517.5,108.7 1517.6,107.5 1517.8,108.1 1517.9,108.0 1518.0,107.8 1518.2,106.2 1518.3,108.5 1518.4,108.6 1518.6,106.1 1518.7,109.1 1518.8,110.0 1519.0,107.2 1519.1,108.6 1519.3,108.1 1519.4,108.0 1519.5,109.3 1519.7,107.6 1519.8,109.4 1519.9,107.2 1520.1,106.9 1520.2,108.8 1520.4,106.9 1520.5,107.9 1520.6,104.7 1520.8,108.1 1520.9,110.0 1521.0,110.0 1521.2,107.2 1521.3,108.6 1521.5,107.7 1521.6,109.3 1521.7,108.7 1521.9,110.4 1522.0,107.7 1522.1,107.3 1522.3,108.9 1522.4,107.6 1522.6,109.5 1522.7,107.3 1522.8,108.6 1523.0,109.0 1523.1,107.6 1523.2,110.0 1523.4,106.2 1523.5,109.7 1523.6,110.2 1523.8,107.8 1523.9,109.2 1524.1,107.5 1524.2,109.6 1524.3,106.6 1524.5,106.8 1524.6,109.2 1524.7,106.1 1524.9,108.6 1525.0,108.1 1525.2,108.8 1525.3,107.8 1525.4,107.7 1525.6,108.2 1525.7,107.8 1525.8,108.0 1526.0,107.6 1526.1,109.4 1526.3,108.5 1526.4,109.3 1526.5,108.2 1526.7,108.2 1526.8,108.3 1526.9,108.8 1527.1,106.3 1527.2,109.1 1527.4,107.6 1527.5,108.6 1527.6,106.7 1527.8,106.9 1527.9,107.7 1528.0,107.5 1528.2,108.9 1528.3,109.1 1528.4,107.4 1528.6,108.1 1528.7,109.6 1528.9,108.3 1529.0,109.4 1529.1,109.5 1529.3,108.2 1529.4,108.1 1529.5,108.4 1529.7,108.6 1529.8,109.1 1530.0,108.3 1530.1,108.2 1530.2,108.6 1530.4,105.9 1530.5,108.4 1530.6,108.0 1530.8,108.9 1530.9,108.6 1531.1,108.1 1531.2,107.6 1531.3,110.9 1531.5,107.1 1531.6,107.6 1531.7,107.9 1531.9,109.1 1532.0,109.8 1532.1,109.2 1532.3,107.5 1532.4,107.5 1532.6,108.1 1532.7,107.5 1532.8,109.0 1533.0,109.1 1533.1,107.0 1533.2,107.1 1533.4,107.4 1533.5,106.2 1533.7,108.1 1533.8,110.2 1533.9,108.3 1534.1,107.1 1534.2,108.3 1534.3,107.5 1534.5,107.5 1534.6,108.9 1534.8,107.0 1534.9,108.0 1535.0,109.4 1535.2,107.1 1535.3,109.0 1535.4,107.7 1535.6,107.6 1535.7,108.8 1535.9,108.9 1536.0,107.7 1536.1,107.9 1536.3,107.0 1536.4,107.9 1536.5,107.6 1536.7,107.9 1536.8,107.3 1536.9,109.0 1537.1,109.7 1537.2,107.7 1537.4,108.3 1537.5,108.6 1537.6,106.6 1537.8,109.3 1537.9,108.3 1538.0,107.3 1538.2,108.3 1538.3,108.5 1538.5,107.8 1538.6,108.4 1538.7,109.5 1538.9,109.2 1539.0,107.5 1539.1,107.5 1539.3,109.1 1539.4,107.9 1539.6,107.6 1539.7,107.5 1539.8,106.9 1540.0,107.3 1540.1,108.1 1540.2,108.3 1540.4,107.5 1540.5,109.0 1540.7,109.4 1540.8,107.4 1540.9,107.1 1541.1,107.6 1541.2,107.8 1541.3,109.4 1541.5,109.3 1541.6,108.6 1541.7,106.7 1541.9,108.3 1542.0,107.9 1542.2,108.7 1542.3,107.0 1542.4,109.6 1542.6,106.7 1542.7,108.1 1542.8,110.2 1543.0,108.0 1543.1,107.6 1543.3,107.6 1543.4,107.7 1543.5,108.3 1543.7,108.3 1543.8,108.0 1543.9,108.6 1544.1,106.7 1544.2,109.0 1544.4,108.0 1544.5,108.3 1544.6,109.2 1544.8,106.9 1544.9,107.9 1545.0,108.6 1545.2,108.8 1545.3,108.3 1545.4,106.8 1545.6,107.9 1545.7,108.8 1545.9,108.0 1546.0,108.6 1546.1,107.6 1546.3,107.7 1546.4,107.5 1546.5,107.8 1546.7,108.0 1546.8,109.1 1547.0,107.9 1547.1,107.2 1547.2,109.2 1547.4,107.3 1547.5,108.5 1547.6,108.5 1547.8,108.5 1547.9,107.5 1548.1,108.0 1548.2,107.9 1548.3,108.8 1548.5,106.8 1548.6,108.8 1548.7,107.0 1548.9,107.1 1549.0,107.5 1549.2,109.0 1549.3,108.0 1549.4,108.6 1549.6,106.8 1549.7,107.8 1549.8,107.7 1550.0,107.9 1550.1,107.8 1550.2,107.2 1550.4,106.4 1550.5,107.4 1550.7,107.1 1550.8,107.5 1550.9,107.7 1551.1,108.9 1551.2,108.3 1551.3,108.5 1551.5,107.6 1551.6,110.2 1551.8,109.7 1551.9,108.4 1552.0,107.7 1552.2,108.3 1552.3,108.1 1552.4,107.5 1552.6,106.9 1552.7,106.7 1552.9,107.5 1553.0,107.2 1553.1,108.3 1553.3,108.6 1553.4,107.5 1553.5,106.8 1553.7,107.5 1553.8,109.4 1554.0,107.2 1554.1,106.5 1554.2,107.4 1554.4,108.1 1554.5,108.6 1554.6,108.8 1554.8,106.8 1554.9,108.1 1555.0,108.1 1555.2,108.1 1555.3,108.0 1555.5,107.6 1555.6,108.2 1555.7,107.7 1555.9,108.3 1556.0,108.5 1556.1,109.2 1556.3,107.8 1556.4,107.0 1556.6,107.5 1556.7,107.1 1556.8,108.2 1557.0,108.5 1557.1,108.5 1557.2,108.7 1557.4,107.3 1557.5,107.0 1557.7,108.4 1557.8,107.6 1557.9,109.0 1558.1,107.7 1558.2,107.4 1558.3,109.0 1558.5,107.0 1558.6,108.4 1558.7,107.7 1558.9,106.7 1559.0,109.1 1559.2,107.6 1559.3,108.1 1559.4,106.9 1559.6,108.0 1559.7,108.1 1559.8,107.6 1560.0,106.7 1560.1,108.4 1560.3,108.6 1560.4,108.5 1560.5,107.3 1560.7,109.3 1560.8,108.8 1560.9,108.4 1561.1,108.6 1561.2,108.1 1561.4,108.5 1561.5,109.5 1561.6,106.3 1561.8,107.2 1561.9,108.1 1562.0,108.4 1562.2,108.5 1562.3,109.3 1562.5,109.9 1562.6,107.9 1562.7,107.8 1562.9,107.0 1563.0,108.0 1563.1,108.5 1563.3,107.3 1563.4,107.6 1563.5,108.9 1563.7,108.5 1563.8,107.4 1564.0,108.6 1564.1,107.9 1564.2,108.7 1564.4,107.3 1564.5,106.5 1564.6,109.5 1564.8,108.8 1564.9,107.5 1565.1,107.8 1565.2,108.1 1565.3,109.0 1565.5,109.3 1565.6,108.3 1565.7,107.3 1565.9,107.3 1566.0,106.3 1566.2,109.3 1566.3,107.8 1566.4,107.8 1566.6,106.6 1566.7,108.5 1566.8,107.0 1567.0,109.1 1567.1,107.2 1567.3,108.7 1567.4,108.8 1567.5,107.4 1567.7,108.3 1567.8,107.8 1567.9,108.1 1568.1,108.6 1568.2,107.4 1568.3,108.2 1568.5,108.5 1568.6,108.6 1568.8,109.4 1568.9,109.0 1569.0,107.8 1569.2,107.9 1569.3,108.1 1569.4,107.1 1569.6,108.0 1569.7,108.0 1569.9,107.6 1570.0,107.8 1570.1,107.2 1570.3,108.4 1570.4,108.0 1570.5,108.0 1570.7,108.3 1570.8,108.1 1571.0,107.3 1571.1,106.9 1571.2,108.0 1571.4,108.0 1571.5,107.8 1571.6,107.2 1571.8,107.6 1571.9,106.8 1572.0,106.6 1572.2,107.2 1572.3,108.4 1572.5,108.3 1572.6,108.3 1572.7,108.6 1572.9,107.3 1573.0,108.5 1573.1,107.6 1573.3,108.3 1573.4,108.6 1573.6,107.1 1573.7,109.0 1573.8,107.0 1574.0,109.0 1574.1,107.6 1574.2,107.8 1574.4,107.8 1574.5,108.0 1574.7,108.5 1574.8,108.2 1574.9,107.0 1575.1,106.2 1575.2,106.3 1575.3,107.1 1575.5,107.5 1575.6,107.8 1575.8,108.1 1575.9,107.0 1576.0,108.2 1576.2,108.2 1576.3,108.4 1576.4,107.6 1576.6,105.6 1576.7,108.2 1576.8,109.2 1577.0,109.1 1577.1,107.4 1577.3,108.3 1577.4,108.4 1577.5,107.5 1577.7,108.1 1577.8,108.6 1577.9,107.7 1578.1,108.7 1578.2,108.1 1578.4,106.7 1578.5,109.7 1578.6,106.8 1578.8,109.4 1578.9,107.8 1579.0,109.6 1579.2,108.2 1579.3,108.6 1579.5,108.5 1579.6,109.1 1579.7,106.9 1579.9,107.3 1580.0,109.2 1580.1,109.3 1580.3,108.2 1580.4,109.1 1580.6,106.6 1580.7,107.0 1580.8,107.6 1581.0,109.3 1581.1,108.6 1581.2,107.3 1581.4,108.7 1581.5,107.5 1581.6,108.0 1581.8,107.4 1581.9,108.1 1582.1,108.1 1582.2,109.0 1582.3,108.1 1582.5,109.3 1582.6,107.5 1582.7,109.1 1582.9,107.4 1583.0,107.3 1583.2,107.6 1583.3,109.2 1583.4,109.0 1583.6,107.9 1583.7,108.0 1583.8,108.3 1584.0,108.2 1584.1,110.0 1584.3,108.8 1584.4,108.9 1584.5,108.5 1584.7,108.2 1584.8,108.3 1584.9,108.8 1585.1,107.3 1585.2,107.9 1585.3,108.8 1585.5,106.1 1585.6,110.0 1585.8,107.6 1585.9,107.8 1586.0,108.5 1586.2,108.8 1586.3,108.2 1586.4,107.3 1586.6,107.4 1586.7,107.7 1586.9,107.9 1587.0,108.0 1587.1,107.4 1587.3,108.0 1587.4,107.9 1587.5,107.1 1587.7,108.9 1587.8,107.8 1588.0,108.1 1588.1,108.7 1588.2,107.0 1588.4,108.8 1588.5,108.3 1588.6,108.7 1588.8,107.7 1588.9,107.6 1589.1,106.9 1589.2,106.9 1589.3,106.9 1589.5,107.7 1589.6,107.3 1589.7,108.2 1589.9,108.8 1590.0,107.2 1590.1,108.6 1590.3,107.6 1590.4,107.0 1590.6,108.1 1590.7,107.0 1590.8,108.0 1591.0,108.1 1591.1,107.5 1591.2,106.7 1591.4,108.9 1591.5,107.8 1591.7,108.5 1591.8,107.8 1591.9,107.6 1592.1,109.1 1592.2,108.8 1592.3,107.4 1592.5,107.7 1592.6,108.5 1592.8,108.0 1592.9,107.3 1593.0,107.4 1593.2,109.5 1593.3,108.4 1593.4,106.8 1593.6,108.3 1593.7,108.6 1593.9,107.9 1594.0,107.8 1594.1,107.9 1594.3,107.8 1594.4,108.6 1594.5,107.7 1594.7,107.5 1594.8,108.0 1594.9,108.1 1595.1,108.5 1595.2,107.9 1595.4,108.9 1595.5,108.4 1595.6,108.2 1595.8,109.7 1595.9,107.9 1596.0,109.2 1596.2,108.7 1596.3,108.7 1596.5,108.4 1596.6,108.5 1596.7,107.7 1596.9,108.9 1597.0,108.4 1597.1,107.9 1597.3,108.6 1597.4,108.7 1597.6,108.0 1597.7,107.7 1597.8,107.8 1598.0,109.1 1598.1,108.0 1598.2,108.2 1598.4,106.9 1598.5,108.2 1598.7,108.3 1598.8,107.1 1598.9,108.7 1599.1,107.2 1599.2,107.2 1599.3,108.2 1599.5,107.9 1599.6,107.7 1599.7,106.5 1599.9,107.9 1600.0,108.4 1600.2,107.6 1600.3,108.0 1600.4,108.6 1600.6,108.0 1600.7,107.8 1600.8,107.2 1601.0,107.6 1601.1,107.6 1601.3,108.4 1601.4,107.3 1601.5,108.5 1601.7,108.6 1601.8,108.4 1601.9,108.6 1602.1,108.0 1602.2,107.6 1602.4,108.0 1602.5,108.3 1602.6,107.9 1602.8,108.4 1602.9,107.3 1603.0,107.0 1603.2,108.2 1603.3,108.3 1603.4,107.3 1603.6,105.3 1603.7,108.2 1603.9,107.1 1604.0,107.7 1604.1,108.7 1604.3,108.0 1604.4,107.8 1604.5,108.3 1604.7,106.6 1604.8,109.7 1605.0,108.4 1605.1,108.4 1605.2,108.6 1605.4,108.6 1605.5,108.0 1605.6,107.7 1605.8,108.0 1605.9,107.6 1606.1,108.2 1606.2,108.8 1606.3,108.6 1606.5,107.2 1606.6,109.1 1606.7,108.4 1606.9,107.8 1607.0,107.7 1607.2,108.1 1607.3,107.5 1607.4,107.0 1607.6,106.9 1607.7,107.9 1607.8,110.3 1608.0,108.8 1608.1,109.3 1608.2,107.9 1608.4,107.2 1608.5,107.7 1608.7,107.4 1608.8,105.9 1608.9,108.9 1609.1,107.1 1609.2,108.1 1609.3,108.5 1609.5,108.3 1609.6,108.3 1609.8,106.7 1609.9,107.8 1610.0,107.0 1610.2,109.0 1610.3,107.0 1610.4,107.7 1610.6,107.4 1610.7,108.7 1610.9,107.6 1611.0,107.9 1611.1,108.2 1611.3,108.0 1611.4,107.9 1611.5,107.8 1611.7,108.6 1611.8,107.5 1612.0,108.9 1612.1,108.8 1612.2,109.3 1612.4,110.0 1612.5,106.8 1612.6,106.8 1612.8,108.4 1612.9,108.4 1613.0,108.7 1613.2,108.1 1613.3,108.1 1613.5,108.9 1613.6,108.1 1613.7,109.1 1613.9,108.3 1614.0,107.3 1614.1,107.6 1614.3,107.9 1614.4,108.3 1614.6,106.7 1614.7,108.2 1614.8,110.8 1615.0,108.3 1615.1,109.8 1615.2,108.1 1615.4,108.2 1615.5,107.0 1615.7,107.1 1615.8,108.3 1615.9,108.2 1616.1,107.5 1616.2,108.8 1616.3,108.7 1616.5,107.0 1616.6,108.8 1616.7,107.9 1616.9,106.3 1617.0,108.3 1617.2,106.7 1617.3,109.0 1617.4,108.7 1617.6,107.0 1617.7,107.5 1617.8,108.0 1618.0,108.1 1618.1,107.3 1618.3,106.7 1618.4,108.9 1618.5,108.5 1618.7,107.3 1618.8,108.2 1618.9,107.3 1619.1,108.7 1619.2,107.0 1619.4,107.5 1619.5,107.8 1619.6,107.7 1619.8,106.8 1619.9,108.9 1620.0,107.8 1620.2,108.6 1620.3,108.6 1620.5,107.0 1620.6,107.7 1620.7,107.8 1620.9,107.5" fill="none" stroke="#000" stroke-width="0.55" stroke-opacity="0.85" stroke-linejoin="round" clip-path="url(#c2)"/>
<rect x="908" y="34.8" width="713.00" height="183.20" fill="none" stroke="#000" stroke-width="1.7"/>
<text x="907.10" y="246.00" font-size="28.5" letter-spacing="0.6" text-anchor="middle" fill="#000" stroke="#000" stroke-width="0.25">0</text>
<text x="996.22" y="246.00" font-size="28.5" letter-spacing="0.6" text-anchor="middle" fill="#000" stroke="#000" stroke-width="0.25">0.5</text>
<text x="1085.35" y="246.00" font-size="28.5" letter-spacing="0.6" text-anchor="middle" fill="#000" stroke="#000" stroke-width="0.25">1</text>
<text x="1174.47" y="246.00" font-size="28.5" letter-spacing="0.6" text-anchor="middle" fill="#000" stroke="#000" stroke-width="0.25">1.5</text>
<text x="1263.60" y="246.00" font-size="28.5" letter-spacing="0.6" text-anchor="middle" fill="#000" stroke="#000" stroke-width="0.25">2</text>
<text x="1352.72" y="246.00" font-size="28.5" letter-spacing="0.6" text-anchor="middle" fill="#000" stroke="#000" stroke-width="0.25">2.5</text>
<text x="1441.85" y="246.00" font-size="28.5" letter-spacing="0.6" text-anchor="middle" fill="#000" stroke="#000" stroke-width="0.25">3</text>
<text x="1530.97" y="246.00" font-size="28.5" letter-spacing="0.6" text-anchor="middle" fill="#000" stroke="#000" stroke-width="0.25">3.5</text>
<text x="1620.10" y="246.00" font-size="28.5" letter-spacing="0.6" text-anchor="middle" fill="#000" stroke="#000" stroke-width="0.25">4</text>
<text x="901.30" y="220.60" font-size="25.8" letter-spacing="1" text-anchor="end" fill="#000" stroke="#000" stroke-width="0.25">-3</text>
<text x="901.30" y="185.20" font-size="25.8" letter-spacing="1" text-anchor="end" fill="#000" stroke="#000" stroke-width="0.25">-2</text>
<text x="901.30" y="149.80" font-size="25.8" letter-spacing="1" text-anchor="end" fill="#000" stroke="#000" stroke-width="0.25">-1</text>
<text x="901.30" y="114.40" font-size="25.8" letter-spacing="1" text-anchor="end" fill="#000" stroke="#000" stroke-width="0.25">0</text>
<text x="901.30" y="79.00" font-size="25.8" letter-spacing="1" text-anchor="end" fill="#000" stroke="#000" stroke-width="0.25">1</text>
<text x="901.30" y="43.60" font-size="25.8" letter-spacing="1" text-anchor="end" fill="#000" stroke="#000" stroke-width="0.25">2</text>
<text x="1269.43" y="19.10" font-size="26.4" letter-spacing="0.87" text-anchor="middle" fill="#000" stroke="#000" stroke-width="0.25">Vibration signal of the track induced by train</text>
<text x="1268.43" y="278.00" font-size="26.4" letter-spacing="0.87" text-anchor="middle" fill="#000" stroke="#000" stroke-width="0.25">Time(s)</text>
<text x="858.00" y="129.90" font-size="24.6" letter-spacing="2.0" text-anchor="middle" fill="#000" stroke="#000" stroke-width="0.25" transform="rotate(-90 857.00 129.90)">Amp(m/s<tspan font-size="11" dy="-9">2</tspan><tspan dy="9">)</tspan></text>
<text x="911.00" y="27.50" font-size="20.5" letter-spacing="1" text-anchor="start" fill="#000" stroke="#000" stroke-width="0.25">×10<tspan font-size="14" dy="-8.5">3</tspan></text>
<rect x="68" y="334.2" width="706.30" height="178.80" fill="#fff"/>
<path d="M138.63 334.2V513M209.26 334.2V513M279.89 334.2V513M350.52 334.2V513M421.15 334.2V513M491.78 334.2V513M562.41 334.2V513M633.04 334.2V513M703.67 334.2V513M68 483.20H774.3M68 453.40H774.3M68 423.60H774.3M68 393.80H774.3M68 364.00H774.3" stroke="#e2e2e2" stroke-width="0.6" stroke-dasharray="1.2 0.8" fill="none"/>
<path d="M138.63 334.2v7.5M138.63 513v-7.5M209.26 334.2v7.5M209.26 513v-7.5M279.89 334.2v7.5M279.89 513v-7.5M350.52 334.2v7.5M350.52 513v-7.5M421.15 334.2v7.5M421.15 513v-7.5M491.78 334.2v7.5M491.78 513v-7.5M562.41 334.2v7.5M562.41 513v-7.5M633.04 334.2v7.5M633.04 513v-7.5M703.67 334.2v7.5M703.67 513v-7.5M68 483.20h7.5M774.3 483.20h-7.5M68 453.40h7.5M774.3 453.40h-7.5M68 423.60h7.5M774.3 423.60h-7.5M68 393.80h7.5M774.3 393.80h-7.5M68 364.00h7.5M774.3 364.00h-7.5" stroke="#777" stroke-width="0.7" fill="none"/>
<clipPath id="c3"><rect x="68" y="334.2" width="706.3" height="178.8"/></clipPath>
<polyline points="68.0,510.7 68.3,510.2 68.6,511.6 68.8,511.4 69.1,511.4 69.4,511.5 69.7,510.2 70.0,511.5 70.3,511.1 70.5,509.4 70.8,511.8 71.1,511.8 71.4,512.0 71.7,511.6 72.0,511.2 72.2,511.6 72.5,511.4 72.8,511.5 73.1,510.9 73.4,511.5 73.7,511.7 73.9,510.7 74.2,511.5 74.5,511.7 74.8,512.1 75.1,511.7 75.3,510.5 75.6,511.7 75.9,511.6 76.2,510.9 76.5,511.0 76.8,511.5 77.0,511.1 77.3,511.4 77.6,511.9 77.9,511.6 78.2,510.1 78.5,511.4 78.7,511.3 79.0,510.6 79.3,511.6 79.6,511.2 79.9,511.3 80.1,510.9 80.4,511.7 80.7,511.8 81.0,510.9 81.3,511.5 81.6,512.1 81.8,511.3 82.1,511.9 82.4,511.2 82.7,511.3 83.0,511.3 83.3,511.5 83.5,511.1 83.8,511.5 84.1,509.9 84.4,511.4 84.7,511.7 85.0,511.0 85.2,512.1 85.5,511.3 85.8,511.3 86.1,510.3 86.4,511.0 86.6,511.1 86.9,510.8 87.2,510.1 87.5,511.4 87.8,511.7 88.1,511.6 88.3,511.0 88.6,511.3 88.9,511.8 89.2,511.1 89.5,510.7 89.8,511.7 90.0,511.4 90.3,510.4 90.6,510.4 90.9,511.2 91.2,511.3 91.4,511.2 91.7,511.9 92.0,511.7 92.3,511.4 92.6,511.3 92.9,510.8 93.1,510.6 93.4,511.2 93.7,511.4 94.0,511.5 94.3,511.3 94.6,510.9 94.8,510.7 95.1,512.1 95.4,511.3 95.7,511.5 96.0,511.8 96.3,511.6 96.5,511.5 96.8,511.5 97.1,511.1 97.4,511.1 97.7,511.7 97.9,511.8 98.2,511.6 98.5,512.0 98.8,510.3 99.1,510.9 99.4,510.8 99.6,510.3 99.9,511.5 100.2,511.2 100.5,511.3 100.8,510.0 101.1,510.9 101.3,511.1 101.6,511.0 101.9,511.4 102.2,511.6 102.5,512.0 102.7,511.5 103.0,510.3 103.3,511.6 103.6,511.1 103.9,511.5 104.2,510.4 104.4,511.2 104.7,510.8 105.0,511.2 105.3,512.0 105.6,511.6 105.9,511.0 106.1,511.5 106.4,511.6 106.7,511.4 107.0,511.3 107.3,511.1 107.6,511.0 107.8,511.4 108.1,510.0 108.4,511.8 108.7,511.7 109.0,511.4 109.2,511.1 109.5,511.6 109.8,511.2 110.1,511.7 110.4,511.4 110.7,511.6 110.9,511.6 111.2,510.6 111.5,511.5 111.8,511.9 112.1,511.5 112.4,511.9 112.6,511.5 112.9,511.7 113.2,511.2 113.5,511.4 113.8,511.6 114.1,511.1 114.3,511.2 114.6,510.5 114.9,510.3 115.2,511.3 115.5,511.7 115.7,512.1 116.0,511.5 116.3,511.2 116.6,511.1 116.9,511.6 117.2,510.5 117.4,511.4 117.7,511.6 118.0,511.1 118.3,511.4 118.6,510.3 118.9,511.3 119.1,510.6 119.4,512.1 119.7,511.7 120.0,511.7 120.3,511.2 120.5,511.3 120.8,511.4 121.1,511.7 121.4,510.5 121.7,511.3 122.0,511.1 122.2,511.6 122.5,511.5 122.8,511.6 123.1,511.1 123.4,511.8 123.7,511.0 123.9,511.6 124.2,511.2 124.5,510.5 124.8,511.5 125.1,511.6 125.4,511.7 125.6,510.8 125.9,511.6 126.2,510.9 126.5,511.5 126.8,511.9 127.0,510.9 127.3,511.7 127.6,511.0 127.9,511.4 128.2,511.3 128.5,511.7 128.7,511.9 129.0,511.9 129.3,512.0 129.6,511.6 129.9,511.9 130.2,510.3 130.4,511.7 130.7,510.8 131.0,510.8 131.3,510.7 131.6,510.2 131.8,511.7 132.1,511.8 132.4,511.2 132.7,511.8 133.0,511.8 133.3,510.7 133.5,511.7 133.8,511.7 134.1,511.6 134.4,510.7 134.7,511.2 135.0,511.1 135.2,510.9 135.5,511.4 135.8,511.9 136.1,511.7 136.4,510.9 136.7,511.9 136.9,511.2 137.2,511.2 137.5,511.7 137.8,510.0 138.1,511.5 138.3,511.6 138.6,511.4 138.9,511.8 139.2,510.3 139.5,511.7 139.8,511.7 140.0,511.9 140.3,511.5 140.6,510.9 140.9,510.4 141.2,511.6 141.5,511.6 141.7,511.0 142.0,511.2 142.3,511.4 142.6,511.2 142.9,511.6 143.2,511.3 143.4,511.5 143.7,511.9 144.0,511.2 144.3,511.3 144.6,511.6 144.8,511.1 145.1,510.7 145.4,511.6 145.7,511.6 146.0,511.4 146.3,510.7 146.5,512.1 146.8,512.0 147.1,511.8 147.4,510.9 147.7,510.4 148.0,511.4 148.2,510.8 148.5,511.1 148.8,510.6 149.1,511.4 149.4,511.6 149.6,512.0 149.9,511.1 150.2,511.7 150.5,510.6 150.8,511.2 151.1,510.4 151.3,511.6 151.6,510.9 151.9,511.6 152.2,510.1 152.5,511.4 152.8,511.8 153.0,511.2 153.3,511.2 153.6,511.8 153.9,511.5 154.2,510.6 154.5,511.2 154.7,511.0 155.0,511.3 155.3,511.0 155.6,510.6 155.9,511.8 156.1,511.1 156.4,511.1 156.7,512.2 157.0,511.5 157.3,511.8 157.6,511.4 157.8,511.4 158.1,511.5 158.4,511.3 158.7,511.4 159.0,510.8 159.3,510.6 159.5,511.6 159.8,511.2 160.1,511.5 160.4,511.6 160.7,511.9 160.9,509.7 161.2,511.1 161.5,511.2 161.8,511.1 162.1,511.4 162.4,511.2 162.6,511.0 162.9,511.3 163.2,509.8 163.5,511.6 163.8,511.7 164.1,510.9 164.3,511.4 164.6,510.9 164.9,510.5 165.2,510.9 165.5,511.5 165.8,510.6 166.0,511.7 166.3,511.8 166.6,512.0 166.9,511.6 167.2,511.6 167.4,511.6 167.7,511.5 168.0,510.0 168.3,511.5 168.6,511.0 168.9,511.1 169.1,511.4 169.4,511.6 169.7,511.8 170.0,511.2 170.3,511.7 170.6,512.1 170.8,510.1 171.1,511.2 171.4,510.6 171.7,511.2 172.0,511.1 172.2,510.8 172.5,511.3 172.8,511.6 173.1,511.0 173.4,511.5 173.7,512.0 173.9,511.6 174.2,511.6 174.5,510.6 174.8,511.5 175.1,511.6 175.4,511.3 175.6,511.5 175.9,511.1 176.2,511.6 176.5,511.1 176.8,511.6 177.1,511.2 177.3,511.6 177.6,512.0 177.9,510.5 178.2,511.6 178.5,511.1 178.7,511.5 179.0,511.2 179.3,511.3 179.6,511.5 179.9,511.2 180.2,511.0 180.4,512.0 180.7,511.8 181.0,511.1 181.3,511.8 181.6,510.7 181.9,511.4 182.1,511.1 182.4,510.6 182.7,510.6 183.0,511.0 183.3,511.3 183.6,511.1 183.8,511.7 184.1,511.7 184.4,511.5 184.7,510.8 185.0,511.6 185.2,510.2 185.5,510.2 185.8,511.1 186.1,511.0 186.4,511.5 186.7,511.5 186.9,511.4 187.2,511.7 187.5,511.8 187.8,512.0 188.1,511.2 188.4,510.9 188.6,511.7 188.9,511.6 189.2,511.5 189.5,510.9 189.8,511.0 190.0,510.8 190.3,511.9 190.6,511.3 190.9,511.8 191.2,512.0 191.5,511.6 191.7,511.0 192.0,511.1 192.3,510.4 192.6,511.3 192.9,510.5 193.2,510.8 193.4,511.3 193.7,511.6 194.0,511.5 194.3,511.9 194.6,511.8 194.9,511.9 195.1,511.8 195.4,511.0 195.7,511.1 196.0,511.3 196.3,511.3 196.5,510.9 196.8,511.1 197.1,511.0 197.4,512.1 197.7,512.1 198.0,511.5 198.2,511.7 198.5,511.2 198.8,511.2 199.1,511.2 199.4,511.6 199.7,511.6 199.9,510.4 200.2,509.9 200.5,511.9 200.8,512.1 201.1,510.5 201.3,512.0 201.6,512.0 201.9,511.1 202.2,511.2 202.5,510.5 202.8,511.5 203.0,511.6 203.3,510.8 203.6,511.2 203.9,511.1 204.2,511.0 204.5,511.2 204.7,511.7 205.0,512.0 205.3,511.0 205.6,511.5 205.9,511.6 206.2,511.6 206.4,511.1 206.7,511.4 207.0,510.5 207.3,510.9 207.6,511.5 207.8,511.4 208.1,511.2 208.4,511.5 208.7,511.0 209.0,511.1 209.3,511.6 209.5,510.5 209.8,511.6 210.1,511.3 210.4,511.5 210.7,510.6 211.0,511.9 211.2,512.0 211.5,511.9 211.8,511.7 212.1,511.8 212.4,511.8 212.7,511.5 212.9,510.2 213.2,511.4 213.5,511.7 213.8,511.6 214.1,511.4 214.3,511.1 214.6,511.6 214.9,512.2 215.2,511.6 215.5,511.9 215.8,511.4 216.0,511.1 216.3,511.3 216.6,510.6 216.9,511.5 217.2,511.6 217.5,511.5 217.7,511.3 218.0,511.9 218.3,512.0 218.6,511.8 218.9,511.9 219.1,510.9 219.4,510.9 219.7,510.4 220.0,511.5 220.3,511.4 220.6,511.6 220.8,511.3 221.1,510.9 221.4,510.9 221.7,511.9 222.0,511.1 222.3,511.9 222.5,511.5 222.8,511.6 223.1,511.0 223.4,511.0 223.7,511.4 224.0,511.4 224.2,510.6 224.5,511.0 224.8,511.7 225.1,512.2 225.4,511.2 225.6,511.2 225.9,511.8 226.2,510.4 226.5,510.9 226.8,510.0 227.1,509.2 227.3,511.0 227.6,511.1 227.9,511.6 228.2,512.0 228.5,511.8 228.8,511.4 229.0,511.8 229.3,511.2 229.6,511.4 229.9,511.4 230.2,511.2 230.4,511.3 230.7,511.4 231.0,510.9 231.3,510.0 231.6,511.6 231.9,510.6 232.1,511.8 232.4,511.7 232.7,511.1 233.0,510.9 233.3,511.1 233.6,511.1 233.8,510.7 234.1,510.9 234.4,511.0 234.7,511.8 235.0,511.5 235.3,511.7 235.5,511.5 235.8,511.4 236.1,511.1 236.4,511.5 236.7,511.7 236.9,511.4 237.2,510.8 237.5,511.5 237.8,511.3 238.1,511.4 238.4,511.8 238.6,511.7 238.9,511.5 239.2,511.1 239.5,511.6 239.8,511.6 240.1,510.7 240.3,511.5 240.6,511.2 240.9,510.4 241.2,510.9 241.5,510.7 241.7,511.8 242.0,511.9 242.3,510.3 242.6,511.1 242.9,511.2 243.2,511.7 243.4,511.6 243.7,511.5 244.0,509.9 244.3,511.2 244.6,511.3 244.9,511.8 245.1,512.0 245.4,511.6 245.7,511.9 246.0,511.4 246.3,511.5 246.6,510.7 246.8,511.5 247.1,510.6 247.4,511.5 247.7,511.3 248.0,510.7 248.2,511.3 248.5,511.3 248.8,511.8 249.1,511.8 249.4,511.1 249.7,511.3 249.9,511.0 250.2,511.6 250.5,511.6 250.8,511.3 251.1,511.4 251.4,510.7 251.6,511.1 251.9,511.9 252.2,511.6 252.5,511.7 252.8,512.0 253.1,511.8 253.3,511.6 253.6,510.5 253.9,510.9 254.2,510.7 254.5,511.7 254.7,511.4 255.0,510.8 255.3,511.8 255.6,510.6 255.9,511.8 256.2,511.5 256.4,510.7 256.7,511.1 257.0,511.1 257.3,511.3 257.6,511.1 257.9,511.1 258.1,511.7 258.4,511.2 258.7,510.1 259.0,511.5 259.3,510.5 259.5,511.9 259.8,511.7 260.1,510.8 260.4,510.4 260.7,511.3 261.0,511.6 261.2,510.6 261.5,511.6 261.8,511.2 262.1,511.9 262.4,511.7 262.7,511.2 262.9,511.8 263.2,511.3 263.5,511.4 263.8,511.5 264.1,510.7 264.4,510.3 264.6,511.6 264.9,511.6 265.2,511.3 265.5,510.4 265.8,512.1 266.0,512.1 266.3,511.8 266.6,510.9 266.9,511.5 267.2,510.4 267.5,511.4 267.7,511.5 268.0,511.6 268.3,510.8 268.6,510.6 268.9,511.6 269.2,511.9 269.4,512.2 269.7,510.8 270.0,510.6 270.3,509.7 270.6,511.5 270.8,510.1 271.1,511.5 271.4,511.5 271.7,510.9 272.0,510.8 272.3,511.0 272.5,511.9 272.8,512.1 273.1,511.3 273.4,511.3 273.7,510.8 274.0,511.2 274.2,511.7 274.5,511.3 274.8,511.3 275.1,511.0 275.4,511.6 275.7,511.5 275.9,511.7 276.2,512.0 276.5,511.5 276.8,511.8 277.1,511.5 277.3,511.7 277.6,511.0 277.9,511.0 278.2,510.9 278.5,511.7 278.8,510.7 279.0,511.1 279.3,512.0 279.6,511.0 279.9,511.7 280.2,510.9 280.5,511.6 280.7,511.3 281.0,511.6 281.3,510.5 281.6,511.5 281.9,511.2 282.2,511.8 282.4,511.7 282.7,511.4 283.0,510.9 283.3,512.1 283.6,510.8 283.8,511.5 284.1,511.4 284.4,510.5 284.7,511.3 285.0,511.2 285.3,510.8 285.5,511.1 285.8,511.7 286.1,510.6 286.4,512.0 286.7,511.4 287.0,511.5 287.2,511.7 287.5,510.5 287.8,511.6 288.1,511.1 288.4,511.4 288.6,511.3 288.9,510.8 289.2,510.6 289.5,511.1 289.8,511.4 290.1,511.0 290.3,511.9 290.6,511.9 290.9,511.4 291.2,511.5 291.5,511.3 291.8,511.5 292.0,511.6 292.3,511.7 292.6,510.5 292.9,509.8 293.2,511.6 293.5,511.0 293.7,511.8 294.0,511.4 294.3,511.6 294.6,511.4 294.9,511.6 295.1,510.8 295.4,511.1 295.7,511.1 296.0,511.3 296.3,511.8 296.6,511.1 296.8,511.6 297.1,511.3 297.4,511.2 297.7,511.2 298.0,510.9 298.3,511.3 298.5,511.0 298.8,511.6 299.1,510.9 299.4,511.1 299.7,510.6 299.9,512.0 300.2,511.0 300.5,511.6 300.8,510.3 301.1,511.7 301.4,510.5 301.6,510.5 301.9,511.6 302.2,510.9 302.5,511.3 302.8,510.6 303.1,511.9 303.3,511.3 303.6,511.1 303.9,511.6 304.2,510.7 304.5,510.7 304.8,511.3 305.0,510.2 305.3,511.6 305.6,511.6 305.9,511.2 306.2,511.4 306.4,511.6 306.7,511.1 307.0,511.1 307.3,512.0 307.6,511.3 307.9,511.3 308.1,511.4 308.4,510.9 308.7,511.1 309.0,510.8 309.3,511.0 309.6,511.8 309.8,511.5 310.1,511.0 310.4,511.8 310.7,512.0 311.0,511.8 311.2,511.2 311.5,511.6 311.8,511.5 312.1,510.6 312.4,511.3 312.7,510.7 312.9,510.2 313.2,511.9 313.5,511.2 313.8,512.1 314.1,511.4 314.4,511.6 314.6,510.8 314.9,511.2 315.2,511.6 315.5,511.1 315.8,510.6 316.1,511.6 316.3,511.3 316.6,511.3 316.9,511.6 317.2,511.8 317.5,511.7 317.7,511.0 318.0,511.8 318.3,511.2 318.6,510.9 318.9,510.9 319.2,510.6 319.4,510.4 319.7,511.2 320.0,511.4 320.3,511.2 320.6,512.1 320.9,511.5 321.1,511.4 321.4,511.1 321.7,511.7 322.0,510.4 322.3,511.5 322.6,510.5 322.8,510.9 323.1,511.1 323.4,511.0 323.7,511.0 324.0,511.8 324.2,511.5 324.5,511.6 324.8,511.1 325.1,510.5 325.4,511.6 325.7,510.8 325.9,511.5 326.2,511.0 326.5,511.2 326.8,511.5 327.1,510.5 327.4,511.5 327.6,512.1 327.9,511.6 328.2,511.4 328.5,510.6 328.8,509.4 329.0,511.2 329.3,510.9 329.6,510.3 329.9,511.6 330.2,511.2 330.5,511.2 330.7,511.8 331.0,511.6 331.3,511.6 331.6,511.8 331.9,511.6 332.2,511.5 332.4,511.5 332.7,510.6 333.0,510.4 333.3,510.6 333.6,509.9 333.9,511.9 334.1,511.2 334.4,511.7 334.7,511.7 335.0,511.6 335.3,511.6 335.5,511.0 335.8,511.1 336.1,510.9 336.4,511.6 336.7,511.1 337.0,511.3 337.2,511.8 337.5,512.0 337.8,512.1 338.1,511.2 338.4,511.0 338.7,510.5 338.9,511.4 339.2,511.5 339.5,511.1 339.8,510.6 340.1,510.4 340.3,511.7 340.6,511.5 340.9,511.6 341.2,510.8 341.5,511.3 341.8,511.3 342.0,510.8 342.3,511.4 342.6,511.3 342.9,511.3 343.2,511.2 343.5,511.4 343.7,511.3 344.0,511.9 344.3,511.4 344.6,510.6 344.9,511.9 345.2,511.5 345.4,511.3 345.7,511.1 346.0,510.9 346.3,511.4 346.6,510.9 346.8,510.6 347.1,511.6 347.4,511.6 347.7,512.0 348.0,511.8 348.3,510.6 348.5,509.5 348.8,511.2 349.1,511.4 349.4,511.0 349.7,510.9 350.0,511.4 350.2,509.6 350.5,511.0 350.8,511.3 351.1,511.4 351.4,511.4 351.7,510.3 351.9,510.9 352.2,511.4 352.5,511.1 352.8,511.6 353.1,511.6 353.3,510.8 353.6,511.5 353.9,511.6 354.2,511.5 354.5,511.1 354.8,512.1 355.0,511.7 355.3,511.6 355.6,511.3 355.9,510.8 356.2,510.8 356.5,511.3 356.7,511.5 357.0,511.2 357.3,511.0 357.6,511.4 357.9,511.7 358.1,512.1 358.4,511.7 358.7,511.3 359.0,510.1 359.3,511.5 359.6,511.0 359.8,510.9 360.1,511.4 360.4,511.3 360.7,511.7 361.0,510.8 361.3,511.1 361.5,511.9 361.8,511.7 362.1,511.7 362.4,511.7 362.7,511.2 363.0,511.5 363.2,511.4 363.5,510.8 363.8,510.4 364.1,510.5 364.4,511.5 364.6,511.0 364.9,511.2 365.2,511.3 365.5,510.7 365.8,511.2 366.1,511.3 366.3,510.6 366.6,510.8 366.9,511.5 367.2,510.7 367.5,511.5 367.8,511.2 368.0,511.7 368.3,511.4 368.6,511.9 368.9,511.4 369.2,511.1 369.4,510.9 369.7,510.4 370.0,511.0 370.3,510.7 370.6,510.5 370.9,510.9 371.1,510.7 371.4,511.4 371.7,511.7 372.0,512.0 372.3,510.3 372.6,511.7 372.8,511.4 373.1,510.9 373.4,511.4 373.7,510.6 374.0,511.6 374.3,510.9 374.5,511.0 374.8,511.6 375.1,511.8 375.4,511.8 375.7,511.0 375.9,511.4 376.2,511.1 376.5,511.0 376.8,511.0 377.1,511.2 377.4,510.8 377.6,511.6 377.9,511.7 378.2,511.2 378.5,511.5 378.8,510.9 379.1,510.9 379.3,510.8 379.6,511.3 379.9,510.0 380.2,510.5 380.5,511.5 380.7,510.8 381.0,511.3 381.3,511.7 381.6,511.5 381.9,511.2 382.2,511.6 382.4,510.4 382.7,511.2 383.0,510.6 383.3,510.8 383.6,511.0 383.9,511.4 384.1,510.6 384.4,510.9 384.7,511.1 385.0,511.1 385.3,511.1 385.6,511.3 385.8,511.2 386.1,511.5 386.4,510.8 386.7,511.4 387.0,511.1 387.2,511.4 387.5,510.3 387.8,511.2 388.1,510.6 388.4,511.7 388.7,511.2 388.9,512.0 389.2,511.7 389.5,511.7 389.8,510.6 390.1,510.7 390.4,509.9 390.6,510.7 390.9,510.4 391.2,510.4 391.5,511.4 391.8,511.3 392.1,511.8 392.3,511.1 392.6,511.5 392.9,511.4 393.2,511.2 393.5,510.1 393.7,510.3 394.0,511.1 394.3,510.6 394.6,511.0 394.9,510.7 395.2,510.7 395.4,511.3 395.7,510.8 396.0,511.5 396.3,511.3 396.6,511.3 396.9,510.9 397.1,511.4 397.4,510.8 397.7,511.1 398.0,511.3 398.3,510.6 398.5,511.6 398.8,511.4 399.1,510.4 399.4,511.2 399.7,510.8 400.0,510.8 400.2,511.2 400.5,511.4 400.8,511.2 401.1,511.2 401.4,511.0 401.7,511.3 401.9,511.0 402.2,510.9 402.5,511.3 402.8,511.6 403.1,511.3 403.4,511.0 403.6,511.5 403.9,511.0 404.2,511.2 404.5,511.0 404.8,510.3 405.0,510.7 405.3,511.0 405.6,511.3 405.9,511.7 406.2,511.0 406.5,511.1 406.7,510.1 407.0,510.4 407.3,511.3 407.6,510.1 407.9,510.4 408.2,511.1 408.4,511.2 408.7,510.7 409.0,511.4 409.3,511.0 409.6,511.3 409.8,511.0 410.1,511.2 410.4,511.0 410.7,511.1 411.0,510.8 411.3,510.1 411.5,511.1 411.8,510.4 412.1,511.0 412.4,511.5 412.7,511.2 413.0,511.0 413.2,510.9 413.5,511.1 413.8,511.2 414.1,510.5 414.4,510.6 414.7,510.5 414.9,510.2 415.2,510.8 415.5,511.4 415.8,510.6 416.1,511.2 416.3,510.0 416.6,511.0 416.9,511.2 417.2,510.4 417.5,510.4 417.8,510.6 418.0,511.1 418.3,510.7 418.6,510.3 418.9,509.7 419.2,511.5 419.5,511.3 419.7,511.0 420.0,511.2 420.3,509.3 420.6,510.1 420.9,510.7 421.1,510.7 421.4,510.7 421.7,510.9 422.0,510.7 422.3,510.9 422.6,510.3 422.8,511.6 423.1,511.5 423.4,510.6 423.7,509.6 424.0,510.2 424.3,510.3 424.5,510.7 424.8,510.7 425.1,510.5 425.4,510.6 425.7,511.1 426.0,510.4 426.2,510.2 426.5,510.6 426.8,510.7 427.1,510.6 427.4,509.8 427.6,509.9 427.9,510.2 428.2,510.2 428.5,510.6 428.8,510.0 429.1,510.4 429.3,510.9 429.6,511.2 429.9,510.8 430.2,510.7 430.5,509.7 430.8,509.8 431.0,509.5 431.3,509.9 431.6,509.7 431.9,509.4 432.2,510.0 432.5,510.1 432.7,510.6 433.0,510.1 433.3,510.7 433.6,510.4 433.9,510.6 434.1,509.8 434.4,510.2 434.7,509.4 435.0,510.0 435.3,510.3 435.6,509.0 435.8,509.8 436.1,510.0 436.4,509.9 436.7,510.7 437.0,510.3 437.3,510.1 437.5,509.7 437.8,510.2 438.1,509.7 438.4,509.3 438.7,509.5 438.9,509.6 439.2,509.5 439.5,510.0 439.8,510.6 440.1,509.7 440.4,510.1 440.6,509.9 440.9,510.0 441.2,508.8 441.5,509.7 441.8,509.2 442.1,507.6 442.3,509.6 442.6,509.7 442.9,509.3 443.2,509.8 443.5,509.5 443.8,510.5 444.0,509.6 444.3,509.6 444.6,510.0 444.9,509.1 445.2,508.8 445.4,508.5 445.7,508.5 446.0,508.6 446.3,508.6 446.6,508.9 446.9,509.4 447.1,509.8 447.4,509.7 447.7,509.2 448.0,509.9 448.3,509.5 448.6,508.8 448.8,509.2 449.1,508.7 449.4,508.3 449.7,507.7 450.0,508.1 450.2,508.1 450.5,508.3 450.8,508.0 451.1,508.8 451.4,507.7 451.7,508.9 451.9,509.2 452.2,509.3 452.5,508.4 452.8,508.7 453.1,508.0 453.4,507.2 453.6,506.7 453.9,506.8 454.2,507.0 454.5,506.6 454.8,507.1 455.1,507.6 455.3,508.0 455.6,508.0 455.9,508.6 456.2,508.8 456.5,508.6 456.7,507.7 457.0,507.6 457.3,507.1 457.6,505.8 457.9,506.1 458.2,504.8 458.4,505.7 458.7,505.0 459.0,505.7 459.3,505.8 459.6,506.8 459.9,506.7 460.1,507.6 460.4,507.9 460.7,505.9 461.0,507.0 461.3,506.3 461.6,505.2 461.8,505.0 462.1,504.4 462.4,503.8 462.7,502.1 463.0,502.9 463.2,503.5 463.5,504.0 463.8,505.0 464.1,505.9 464.4,505.2 464.7,506.1 464.9,505.2 465.2,505.2 465.5,503.9 465.8,503.6 466.1,503.0 466.4,502.3 466.6,501.4 466.9,500.5 467.2,501.0 467.5,500.8 467.8,501.5 468.0,501.2 468.3,503.3 468.6,503.8 468.9,504.5 469.2,504.6 469.5,504.1 469.7,503.5 470.0,502.0 470.3,500.0 470.6,498.4 470.9,497.4 471.2,496.0 471.4,495.5 471.7,496.5 472.0,496.9 472.3,498.5 472.6,500.2 472.9,501.0 473.1,502.5 473.4,502.9 473.7,501.4 474.0,500.2 474.3,497.8 474.5,495.4 474.8,491.9 475.1,490.5 475.4,489.0 475.7,489.0 476.0,489.3 476.2,492.5 476.5,494.4 476.8,497.4 477.1,499.5 477.4,500.7 477.7,499.8 477.9,498.8 478.2,495.5 478.5,491.5 478.8,488.5 479.1,484.4 479.3,482.5 479.6,481.4 479.9,481.0 480.2,483.6 480.5,485.8 480.8,489.8 481.0,493.0 481.3,495.1 481.6,496.1 481.9,494.9 482.2,493.2 482.5,488.5 482.7,484.2 483.0,479.6 483.3,474.4 483.6,471.9 483.9,470.7 484.2,470.2 484.4,472.8 484.7,477.3 485.0,481.1 485.3,484.4 485.6,488.5 485.8,488.9 486.1,478.7 486.4,462.1 486.7,445.5 487.0,428.9 487.3,422.6 487.5,426.6 487.8,430.6 488.1,434.5 488.4,438.5 488.7,442.5 489.0,439.4 489.2,429.3 489.5,419.2 489.8,409.2 490.1,399.1 490.4,389.0 490.6,378.9 490.9,371.8 491.2,364.7 491.5,357.7 491.8,350.6 492.1,367.9 492.3,385.2 492.6,406.1 492.9,430.6 493.2,455.1 493.5,479.6 493.8,504.1 494.0,505.6 494.3,494.0 494.6,482.5 494.9,470.9 495.2,459.4 495.5,466.3 495.7,473.3 496.0,480.2 496.3,486.2 496.6,493.3 496.9,497.7 497.1,500.5 497.4,498.8 497.7,496.4 498.0,492.8 498.3,487.7 498.6,486.4 498.8,485.5 499.1,488.2 499.4,492.2 499.7,496.8 500.0,500.6 500.3,502.9 500.5,503.4 500.8,501.4 501.1,498.1 501.4,495.9 501.7,493.1 502.0,491.8 502.2,492.5 502.5,494.5 502.8,497.7 503.1,501.2 503.4,504.6 503.6,505.5 503.9,504.6 504.2,502.5 504.5,500.9 504.8,497.9 505.1,496.9 505.3,496.8 505.6,498.1 505.9,499.0 506.2,501.6 506.5,505.1 506.8,506.0 507.0,506.4 507.3,506.1 507.6,504.7 507.9,502.2 508.2,501.4 508.4,500.6 508.7,501.0 509.0,501.1 509.3,503.6 509.6,504.3 509.9,506.9 510.1,507.5 510.4,507.3 510.7,506.8 511.0,505.3 511.3,503.9 511.6,503.0 511.8,502.9 512.1,503.7 512.4,504.3 512.7,505.2 513.0,506.3 513.3,507.3 513.5,507.6 513.8,507.2 514.1,507.4 514.4,506.6 514.7,505.7 514.9,506.0 515.2,505.5 515.5,505.1 515.8,506.7 516.1,507.2 516.4,507.6 516.6,508.0 516.9,507.8 517.2,508.4 517.5,507.8 517.8,507.8 518.1,506.9 518.3,507.6 518.6,507.5 518.9,507.0 519.2,507.4 519.5,508.2 519.7,508.1 520.0,507.3 520.3,508.7 520.6,507.6 520.9,507.3 521.2,506.7 521.4,508.1 521.7,508.6 522.0,508.4 522.3,509.1 522.6,509.2 522.9,508.8 523.1,509.1 523.4,507.8 523.7,508.2 524.0,508.1 524.3,508.2 524.6,507.8 524.8,509.1 525.1,509.0 525.4,509.9 525.7,509.4 526.0,509.5 526.2,509.5 526.5,508.9 526.8,507.7 527.1,508.6 527.4,508.0 527.7,509.1 527.9,509.2 528.2,508.5 528.5,509.6 528.8,509.4 529.1,510.1 529.4,508.9 529.6,508.5 529.9,509.4 530.2,508.3 530.5,509.2 530.8,509.0 531.1,509.3 531.3,509.0 531.6,509.1 531.9,509.8 532.2,510.2 532.5,510.7 532.7,510.1 533.0,510.1 533.3,510.1 533.6,509.7 533.9,508.6 534.2,509.4 534.4,509.6 534.7,509.5 535.0,509.0 535.3,510.4 535.6,510.8 535.9,509.3 536.1,510.6 536.4,510.9 536.7,510.1 537.0,510.1 537.3,509.4 537.5,509.7 537.8,508.5 538.1,509.5 538.4,509.6 538.7,510.0 539.0,510.4 539.2,510.9 539.5,509.4 539.8,511.0 540.1,510.3 540.4,510.5 540.7,510.3 540.9,508.6 541.2,508.9 541.5,509.2 541.8,509.4 542.1,510.4 542.4,511.0 542.6,510.7 542.9,510.4 543.2,509.7 543.5,510.2 543.8,510.3 544.0,508.7 544.3,509.5 544.6,510.6 544.9,509.4 545.2,510.0 545.5,510.6 545.7,511.0 546.0,511.0 546.3,509.6 546.6,509.4 546.9,510.0 547.2,510.7 547.4,510.3 547.7,509.9 548.0,510.4 548.3,510.4 548.6,510.5 548.8,510.3 549.1,510.9 549.4,510.0 549.7,510.4 550.0,511.0 550.3,510.4 550.5,510.0 550.8,510.9 551.1,509.8 551.4,510.6 551.7,510.0 552.0,510.4 552.2,510.8 552.5,511.1 552.8,511.2 553.1,509.4 553.4,509.9 553.7,510.9 553.9,510.2 554.2,510.6 554.5,510.9 554.8,510.4 555.1,510.9 555.3,510.9 555.6,510.9 555.9,510.8 556.2,511.1 556.5,511.0 556.8,511.0 557.0,510.2 557.3,511.1 557.6,510.2 557.9,510.9 558.2,511.1 558.5,511.3 558.7,511.2 559.0,509.7 559.3,511.3 559.6,511.2 559.9,511.2 560.1,510.3 560.4,511.1 560.7,510.5 561.0,510.2 561.3,510.8 561.6,510.7 561.8,510.1 562.1,510.9 562.4,511.1 562.7,510.9 563.0,510.7 563.3,511.2 563.5,510.7 563.8,510.8 564.1,510.8 564.4,510.7 564.7,510.2 565.0,511.2 565.2,511.1 565.5,510.4 565.8,511.5 566.1,510.9 566.4,511.7 566.6,510.9 566.9,511.0 567.2,510.3 567.5,510.6 567.8,509.7 568.1,510.8 568.3,510.7 568.6,510.7 568.9,511.2 569.2,511.2 569.5,511.2 569.8,511.6 570.0,511.3 570.3,510.9 570.6,511.1 570.9,510.4 571.2,510.5 571.5,510.4 571.7,510.4 572.0,510.9 572.3,510.3 572.6,510.6 572.9,510.8 573.1,510.7 573.4,510.8 573.7,510.6 574.0,511.5 574.3,510.7 574.6,511.2 574.8,510.0 575.1,511.0 575.4,510.1 575.7,510.5 576.0,510.0 576.3,511.3 576.5,510.8 576.8,510.8 577.1,511.4 577.4,511.1 577.7,511.0 577.9,510.9 578.2,511.1 578.5,511.1 578.8,510.6 579.1,510.0 579.4,510.7 579.6,511.2 579.9,511.8 580.2,511.9 580.5,511.7 580.8,511.3 581.1,510.8 581.3,510.4 581.6,509.9 581.9,511.1 582.2,511.2 582.5,510.5 582.8,511.1 583.0,511.6 583.3,511.8 583.6,511.4 583.9,511.0 584.2,511.2 584.4,510.7 584.7,510.7 585.0,511.3 585.3,511.2 585.6,511.1 585.9,510.9 586.1,511.3 586.4,510.3 586.7,511.9 587.0,511.8 587.3,510.3 587.6,511.0 587.8,511.4 588.1,511.5 588.4,510.2 588.7,510.2 589.0,511.3 589.2,511.4 589.5,510.5 589.8,511.5 590.1,511.8 590.4,511.4 590.7,510.6 590.9,510.3 591.2,511.5 591.5,511.3 591.8,511.2 592.1,510.2 592.4,510.4 592.6,511.0 592.9,511.6 593.2,511.7 593.5,511.6 593.8,511.4 594.1,511.1 594.3,511.0 594.6,511.2 594.9,510.5 595.2,510.3 595.5,510.9 595.7,510.9 596.0,510.9 596.3,511.0 596.6,510.9 596.9,511.6 597.2,511.1 597.4,511.7 597.7,511.2 598.0,511.1 598.3,510.7 598.6,510.7 598.9,510.0 599.1,511.4 599.4,510.5 599.7,510.9 600.0,510.7 600.3,511.2 600.6,512.0 600.8,509.9 601.1,511.0 601.4,510.8 601.7,511.2 602.0,511.2 602.2,511.3 602.5,510.0 602.8,510.6 603.1,511.3 603.4,511.5 603.7,511.5 603.9,511.6 604.2,511.5 604.5,511.8 604.8,511.5 605.1,510.7 605.4,511.2 605.6,511.3 605.9,510.8 606.2,511.5 606.5,511.7 606.8,511.6 607.0,511.3 607.3,511.6 607.6,511.7 607.9,510.4 608.2,511.4 608.5,511.0 608.7,510.6 609.0,511.5 609.3,510.6 609.6,510.4 609.9,511.1 610.2,511.0 610.4,511.4 610.7,511.0 611.0,510.9 611.3,511.2 611.6,511.7 611.9,511.2 612.1,511.5 612.4,511.1 612.7,510.8 613.0,509.9 613.3,511.5 613.5,510.5 613.8,511.5 614.1,511.5 614.4,511.8 614.7,511.4 615.0,510.9 615.2,511.4 615.5,511.4 615.8,510.3 616.1,511.4 616.4,510.8 616.7,511.6 616.9,511.4 617.2,511.3 617.5,511.5 617.8,512.0 618.1,511.8 618.3,511.5 618.6,510.7 618.9,510.9 619.2,511.5 619.5,511.4 619.8,510.5 620.0,510.5 620.3,511.5 620.6,511.3 620.9,511.2 621.2,511.7 621.5,511.8 621.7,511.0 622.0,511.7 622.3,511.0 622.6,510.3 622.9,510.6 623.2,511.3 623.4,508.8 623.7,511.1 624.0,511.9 624.3,511.7 624.6,510.1 624.8,510.8 625.1,511.7 625.4,510.6 625.7,510.8 626.0,511.1 626.3,510.8 626.5,511.2 626.8,511.4 627.1,511.5 627.4,511.9 627.7,511.1 628.0,511.1 628.2,511.3 628.5,510.9 628.8,511.4 629.1,511.4 629.4,511.3 629.6,511.5 629.9,510.9 630.2,510.4 630.5,511.4 630.8,511.6 631.1,512.1 631.3,511.1 631.6,510.6 631.9,511.6 632.2,511.2 632.5,511.6 632.8,510.9 633.0,511.6 633.3,510.9 633.6,511.3 633.9,511.8 634.2,510.9 634.5,511.3 634.7,512.0 635.0,511.2 635.3,511.6 635.6,511.5 635.9,510.3 636.1,511.0 636.4,511.0 636.7,511.6 637.0,511.2 637.3,511.6 637.6,511.9 637.8,511.7 638.1,511.3 638.4,510.5 638.7,511.9 639.0,511.5 639.3,511.6 639.5,511.2 639.8,511.5 640.1,510.7 640.4,511.7 640.7,511.7 641.0,511.3 641.2,511.6 641.5,512.2 641.8,511.9 642.1,511.4 642.4,511.4 642.6,511.6 642.9,511.0 643.2,511.3 643.5,511.0 643.8,510.2 644.1,510.2 644.3,511.9 644.6,511.2 644.9,511.7 645.2,511.4 645.5,511.3 645.8,511.4 646.0,511.1 646.3,511.5 646.6,511.5 646.9,511.4 647.2,511.3 647.4,510.8 647.7,511.6 648.0,511.4 648.3,511.1 648.6,511.4 648.9,511.8 649.1,511.4 649.4,511.7 649.7,510.9 650.0,510.9 650.3,511.6 650.6,511.0 650.8,510.3 651.1,511.0 651.4,512.0 651.7,511.7 652.0,512.0 652.3,511.5 652.5,511.3 652.8,511.7 653.1,511.6 653.4,510.9 653.7,510.7 653.9,511.5 654.2,511.6 654.5,511.4 654.8,511.8 655.1,512.0 655.4,511.8 655.6,511.0 655.9,510.0 656.2,510.2 656.5,511.5 656.8,510.3 657.1,511.6 657.3,511.2 657.6,511.3 657.9,511.5 658.2,511.0 658.5,511.5 658.7,511.2 659.0,511.6 659.3,511.0 659.6,511.3 659.9,511.3 660.2,510.7 660.4,510.8 660.7,511.3 661.0,510.0 661.3,511.7 661.6,511.5 661.9,511.6 662.1,512.0 662.4,511.5 662.7,511.8 663.0,510.1 663.3,511.4 663.6,511.3 663.8,510.3 664.1,511.0 664.4,511.7 664.7,511.7 665.0,511.0 665.2,511.7 665.5,511.7 665.8,512.0 666.1,511.2 666.4,511.2 666.7,510.7 666.9,511.3 667.2,510.9 667.5,511.3 667.8,511.6 668.1,511.5 668.4,511.8 668.6,510.0 668.9,511.8 669.2,511.7 669.5,511.2 669.8,511.0 670.1,511.4 670.3,511.0 670.6,511.3 670.9,511.5 671.2,511.1 671.5,511.7 671.7,511.5 672.0,510.8 672.3,511.6 672.6,511.9 672.9,510.9 673.2,510.2 673.4,510.7 673.7,511.2 674.0,511.4 674.3,511.5 674.6,511.5 674.9,510.4 675.1,511.7 675.4,511.1 675.7,511.8 676.0,510.2 676.3,511.4 676.5,511.2 676.8,510.3 677.1,510.0 677.4,511.1 677.7,511.3 678.0,510.9 678.2,511.2 678.5,511.7 678.8,511.4 679.1,511.8 679.4,511.0 679.7,511.9 679.9,511.7 680.2,511.4 680.5,511.5 680.8,511.1 681.1,511.5 681.4,511.3 681.6,511.4 681.9,510.9 682.2,511.2 682.5,511.7 682.8,511.3 683.0,511.5 683.3,510.9 683.6,510.8 683.9,510.9 684.2,511.0 684.5,510.9 684.7,511.6 685.0,511.2 685.3,511.6 685.6,511.2 685.9,512.2 686.2,511.8 686.4,511.3 686.7,511.0 687.0,511.7 687.3,511.2 687.6,511.4 687.8,511.1 688.1,511.2 688.4,511.7 688.7,510.7 689.0,511.4 689.3,511.7 689.5,511.9 689.8,511.7 690.1,511.7 690.4,511.6 690.7,511.0 691.0,511.7 691.2,511.4 691.5,511.3 691.8,511.1 692.1,510.5 692.4,511.6 692.7,512.0 692.9,511.8 693.2,510.1 693.5,510.8 693.8,511.6 694.1,510.7 694.3,510.2 694.6,511.2 694.9,510.2 695.2,511.3 695.5,511.6 695.8,511.1 696.0,512.2 696.3,512.0 696.6,511.4 696.9,511.2 697.2,511.0 697.5,510.5 697.7,510.4 698.0,511.2 698.3,509.4 698.6,511.5 698.9,511.4 699.1,511.3 699.4,512.0 699.7,511.7 700.0,511.8 700.3,511.3 700.6,510.4 700.8,511.0 701.1,510.5 701.4,511.3 701.7,510.6 702.0,511.3 702.3,510.8 702.5,511.8 702.8,512.1 703.1,511.1 703.4,511.5 703.7,511.8 704.0,511.3 704.2,511.7 704.5,511.3 704.8,511.1 705.1,511.3 705.4,511.6 705.6,511.5 705.9,511.2 706.2,511.4 706.5,512.2 706.8,512.0 707.1,510.1 707.3,510.6 707.6,510.9 707.9,511.2 708.2,510.8 708.5,511.4 708.8,511.7 709.0,511.7 709.3,510.5 709.6,511.1 709.9,512.0 710.2,511.6 710.5,511.4 710.7,511.8 711.0,511.2 711.3,511.5 711.6,510.9 711.9,511.6 712.1,510.3 712.4,510.5 712.7,511.6 713.0,511.4 713.3,512.0 713.6,511.7 713.8,510.6 714.1,510.9 714.4,510.3 714.7,511.3 715.0,511.5 715.3,511.0 715.5,510.7 715.8,511.3 716.1,511.4 716.4,511.9 716.7,510.9 716.9,511.5 717.2,511.6 717.5,511.7 717.8,510.9 718.1,511.7 718.4,511.2 718.6,511.6 718.9,510.9 719.2,511.1 719.5,511.5 719.8,510.2 720.1,511.8 720.3,511.8 720.6,511.3 720.9,510.0 721.2,511.7 721.5,510.6 721.8,511.2 722.0,511.4 722.3,511.5 722.6,510.9 722.9,511.2 723.2,511.5 723.4,512.2 723.7,511.6 724.0,511.6 724.3,511.5 724.6,511.1 724.9,511.4 725.1,510.6 725.4,511.2 725.7,511.4 726.0,511.7 726.3,511.4 726.6,511.1 726.8,511.5 727.1,511.3 727.4,511.8 727.7,510.1 728.0,510.9 728.2,511.2 728.5,510.6 728.8,511.0 729.1,510.9 729.4,511.5 729.7,511.9 729.9,511.9 730.2,511.7 730.5,511.9 730.8,511.8 731.1,510.0 731.4,511.4 731.6,511.4 731.9,511.6 732.2,511.7 732.5,510.7 732.8,511.2 733.1,510.8 733.3,511.0 733.6,511.8 733.9,511.4 734.2,510.9 734.5,511.1 734.7,510.7 735.0,511.4 735.3,510.4 735.6,511.3 735.9,511.5 736.2,511.3 736.4,511.5 736.7,511.5 737.0,510.6 737.3,511.9 737.6,511.1 737.9,511.5 738.1,510.4 738.4,510.8 738.7,511.6 739.0,511.2 739.3,510.4 739.6,511.7 739.8,511.7 740.1,511.1 740.4,512.2 740.7,511.9 741.0,510.3 741.2,510.9 741.5,510.9 741.8,510.0 742.1,511.0 742.4,511.6 742.7,511.7 742.9,510.8 743.2,511.3 743.5,511.3 743.8,511.8 744.1,511.9 744.4,511.0 744.6,511.6 744.9,510.7 745.2,511.4 745.5,511.4 745.8,511.2 746.0,510.8 746.3,511.3 746.6,511.3 746.9,511.3 747.2,512.1 747.5,511.7 747.7,511.9 748.0,511.7 748.3,510.7 748.6,511.2 748.9,511.6 749.2,510.7 749.4,511.0 749.7,510.0 750.0,511.7 750.3,511.4 750.6,511.4 750.9,511.2 751.1,509.9 751.4,511.6 751.7,511.4 752.0,511.2 752.3,511.3 752.5,510.8 752.8,511.6 753.1,511.7 753.4,511.8 753.7,512.0 754.0,512.1 754.2,511.5 754.5,511.8 754.8,511.4 755.1,511.5 755.4,511.4 755.7,510.4 755.9,510.1 756.2,510.6 756.5,511.6 756.8,511.3 757.1,511.6 757.3,510.1 757.6,511.5 757.9,511.8 758.2,511.4 758.5,510.9 758.8,511.0 759.0,510.8 759.3,511.3 759.6,510.8 759.9,511.1 760.2,511.3 760.5,510.5 760.7,511.9 761.0,511.5 761.3,511.7 761.6,510.5 761.9,511.4 762.2,511.5 762.4,511.5 762.7,511.0 763.0,511.4 763.3,511.2 763.6,511.2 763.8,511.7 764.1,511.4 764.4,511.8 764.7,511.0 765.0,511.9 765.3,510.3 765.5,510.8 765.8,511.6 766.1,511.0 766.4,510.9 766.7,511.7 767.0,511.3 767.2,511.5 767.5,511.9 767.8,511.6 768.1,510.8 768.4,511.5 768.6,511.6 768.9,511.5 769.2,511.6 769.5,510.9 769.8,510.9 770.1,511.1 770.3,510.6 770.6,511.8 770.9,511.5 771.2,512.1 771.5,511.1 771.8,511.8 772.0,511.8 772.3,510.2 772.6,510.5 772.9,511.5 773.2,510.9 773.5,510.7 773.7,510.2 774.0,511.3 774.3,511.7" fill="none" stroke="#333" stroke-width="0.5" stroke-opacity="1" stroke-linejoin="round" clip-path="url(#c3)"/>
<rect x="68" y="334.2" width="706.30" height="178.80" fill="none" stroke="#000" stroke-width="1.7"/>
<text x="0.50" y="0.00" font-size="27.5" letter-spacing="1.0" text-anchor="middle" fill="#000" stroke="#000" stroke-width="0.25" transform="translate(67.20 540.00) scale(0.94 1)">0</text>
<text x="0.50" y="0.00" font-size="27.5" letter-spacing="1.0" text-anchor="middle" fill="#000" stroke="#000" stroke-width="0.25" transform="translate(137.83 540.00) scale(0.94 1)">50</text>
<text x="0.50" y="0.00" font-size="27.5" letter-spacing="1.0" text-anchor="middle" fill="#000" stroke="#000" stroke-width="0.25" transform="translate(208.46 540.00) scale(0.94 1)">100</text>
<text x="0.50" y="0.00" font-size="27.5" letter-spacing="1.0" text-anchor="middle" fill="#000" stroke="#000" stroke-width="0.25" transform="translate(279.09 540.00) scale(0.94 1)">150</text>
<text x="0.50" y="0.00" font-size="27.5" letter-spacing="1.0" text-anchor="middle" fill="#000" stroke="#000" stroke-width="0.25" transform="translate(349.72 540.00) scale(0.94 1)">200</text>
<text x="0.50" y="0.00" font-size="27.5" letter-spacing="1.0" text-anchor="middle" fill="#000" stroke="#000" stroke-width="0.25" transform="translate(420.35 540.00) scale(0.94 1)">250</text>
<text x="0.50" y="0.00" font-size="27.5" letter-spacing="1.0" text-anchor="middle" fill="#000" stroke="#000" stroke-width="0.25" transform="translate(490.98 540.00) scale(0.94 1)">300</text>
<text x="0.50" y="0.00" font-size="27.5" letter-spacing="1.0" text-anchor="middle" fill="#000" stroke="#000" stroke-width="0.25" transform="translate(561.61 540.00) scale(0.94 1)">350</text>
<text x="0.50" y="0.00" font-size="27.5" letter-spacing="1.0" text-anchor="middle" fill="#000" stroke="#000" stroke-width="0.25" transform="translate(632.24 540.00) scale(0.94 1)">400</text>
<text x="0.50" y="0.00" font-size="27.5" letter-spacing="1.0" text-anchor="middle" fill="#000" stroke="#000" stroke-width="0.25" transform="translate(702.87 540.00) scale(0.94 1)">450</text>
<text x="0.50" y="0.00" font-size="27.5" letter-spacing="1.0" text-anchor="middle" fill="#000" stroke="#000" stroke-width="0.25" transform="translate(773.50 540.00) scale(0.94 1)">500</text>
<text x="1.00" y="0.00" font-size="27.5" letter-spacing="1.0" text-anchor="end" fill="#000" stroke="#000" stroke-width="0.25" transform="translate(61.30 521.50) scale(0.92 1)">0</text>
<text x="1.00" y="0.00" font-size="27.5" letter-spacing="1.0" text-anchor="end" fill="#000" stroke="#000" stroke-width="0.25" transform="translate(61.30 492.70) scale(0.92 1)">2</text>
<text x="1.00" y="0.00" font-size="27.5" letter-spacing="1.0" text-anchor="end" fill="#000" stroke="#000" stroke-width="0.25" transform="translate(61.30 463.20) scale(0.92 1)">4</text>
<text x="1.00" y="0.00" font-size="27.5" letter-spacing="1.0" text-anchor="end" fill="#000" stroke="#000" stroke-width="0.25" transform="translate(61.30 432.40) scale(0.92 1)">6</text>
<text x="1.00" y="0.00" font-size="27.5" letter-spacing="1.0" text-anchor="end" fill="#000" stroke="#000" stroke-width="0.25" transform="translate(61.30 403.10) scale(0.92 1)">8</text>
<text x="1.00" y="0.00" font-size="27.5" letter-spacing="1.0" text-anchor="end" fill="#000" stroke="#000" stroke-width="0.25" transform="translate(61.30 374.50) scale(0.92 1)">10</text>
<text x="1.00" y="0.00" font-size="27.5" letter-spacing="1.0" text-anchor="end" fill="#000" stroke="#000" stroke-width="0.25" transform="translate(61.30 342.70) scale(0.92 1)">12</text>
<text x="419.44" y="314.00" font-size="26.4" letter-spacing="0.87" text-anchor="middle" fill="#000" stroke="#000" stroke-width="0.25">FFT of vibration signal on the track induced by rockfall</text>
<text x="414.60" y="579.00" font-size="26.4" letter-spacing="1.2" text-anchor="middle" fill="#000" stroke="#000" stroke-width="0.25">Frequency(Hz)</text>
<text x="23.45" y="427.50" font-size="24.6" letter-spacing="2.3" text-anchor="middle" fill="#000" stroke="#000" stroke-width="0.25" transform="rotate(-90 22.30 427.50)">Amp(mm)</text>
<text x="357.61" y="416.60" font-size="16.5" letter-spacing="0.61" text-anchor="middle" fill="#f00" stroke="#f00" stroke-width="0.45">Main energy distribution at</text>
<text x="357.87" y="436.00" font-size="16.5" letter-spacing="0.73" text-anchor="middle" fill="#f00" stroke="#f00" stroke-width="0.45">frequency 250Hz~350Hz</text>
<path d="M404.8 442.8L448.5 465" stroke="#f00" stroke-width="2.3" stroke-dasharray="4.5 2.6" fill="none"/>
<path d="M469.8 476.2L452.5 455L452 456.5Q450.5 468 442.6 474.6Z" fill="#f00"/>
<rect x="908" y="334.2" width="705.30" height="178.80" fill="#fff"/>
<path d="M978.53 334.2V513M1049.06 334.2V513M1119.59 334.2V513M1190.12 334.2V513M1260.65 334.2V513M1331.18 334.2V513M1401.71 334.2V513M1472.24 334.2V513M1542.77 334.2V513M908 483.20H1613.3M908 453.40H1613.3M908 423.60H1613.3M908 393.80H1613.3M908 364.00H1613.3" stroke="#e2e2e2" stroke-width="0.6" stroke-dasharray="1.2 0.8" fill="none"/>
<path d="M978.53 334.2v7.5M978.53 513v-7.5M1049.06 334.2v7.5M1049.06 513v-7.5M1119.59 334.2v7.5M1119.59 513v-7.5M1190.12 334.2v7.5M1190.12 513v-7.5M1260.65 334.2v7.5M1260.65 513v-7.5M1331.18 334.2v7.5M1331.18 513v-7.5M1401.71 334.2v7.5M1401.71 513v-7.5M1472.24 334.2v7.5M1472.24 513v-7.5M1542.77 334.2v7.5M1542.77 513v-7.5M908 483.20h7.5M1613.3 483.20h-7.5M908 453.40h7.5M1613.3 453.40h-7.5M908 423.60h7.5M1613.3 423.60h-7.5M908 393.80h7.5M1613.3 393.80h-7.5M908 364.00h7.5M1613.3 364.00h-7.5" stroke="#777" stroke-width="0.7" fill="none"/>
<clipPath id="c4"><rect x="908" y="334.2" width="705.3" height="178.8"/></clipPath>
<polyline points="908.0,404.0 908.2,454.2 908.4,400.0 908.6,501.8 908.8,443.1 909.0,469.4 909.2,420.4 909.4,491.8 909.6,412.2 909.8,450.3 910.0,408.6 910.2,458.0 910.4,463.3 910.6,421.8 910.8,398.8 911.0,470.2 911.2,372.9 911.4,405.3 911.6,491.5 911.8,442.8 911.9,431.6 912.1,370.0 912.3,436.1 912.5,490.0 912.7,455.5 912.9,416.6 913.1,428.2 913.3,401.7 913.5,472.4 913.7,486.4 913.9,452.7 914.1,438.9 914.3,403.9 914.5,445.8 914.7,481.5 914.9,405.0 915.1,456.2 915.3,434.9 915.5,458.0 915.7,487.2 915.9,432.9 916.1,423.8 916.3,490.1 916.5,459.8 916.7,471.0 916.9,492.3 917.1,486.7 917.3,401.1 917.5,384.5 917.7,361.0 917.9,427.4 918.1,502.9 918.3,372.9 918.5,451.0 918.7,417.9 918.9,480.7 919.1,469.4 919.3,472.6 919.5,399.9 919.7,463.3 919.8,455.3 920.0,401.9 920.2,408.2 920.4,467.3 920.6,477.2 920.8,419.5 921.0,499.1 921.2,467.6 921.4,411.4 921.6,406.5 921.8,485.4 922.0,502.2 922.2,421.8 922.4,441.3 922.6,485.0 922.8,454.7 923.0,503.0 923.2,432.2 923.4,452.3 923.6,431.6 923.8,501.2 924.0,438.6 924.2,439.1 924.4,455.5 924.6,455.9 924.8,439.9 925.0,447.6 925.2,441.9 925.4,503.8 925.6,486.4 925.8,502.9 926.0,455.7 926.2,457.6 926.4,498.7 926.6,406.3 926.8,456.9 927.0,455.5 927.2,444.3 927.4,404.8 927.6,445.3 927.7,500.7 927.9,487.0 928.1,433.2 928.3,475.7 928.5,426.0 928.7,454.4 928.9,469.3 929.1,372.9 929.3,491.2 929.5,480.0 929.7,479.2 929.9,465.3 930.1,408.4 930.3,419.5 930.5,418.5 930.7,440.7 930.9,509.4 931.1,479.9 931.3,455.6 931.5,409.6 931.7,455.2 931.9,450.0 932.1,415.5 932.3,473.8 932.5,427.3 932.7,445.0 932.9,453.0 933.1,441.0 933.3,457.6 933.5,498.8 933.7,410.0 933.9,372.9 934.1,417.5 934.3,472.5 934.5,440.7 934.7,424.9 934.9,504.1 935.1,422.8 935.3,501.8 935.5,405.3 935.6,485.0 935.8,402.6 936.0,486.1 936.2,452.2 936.4,418.1 936.6,399.9 936.8,432.7 937.0,417.8 937.2,458.0 937.4,399.4 937.6,469.3 937.8,406.8 938.0,425.0 938.2,469.9 938.4,423.8 938.6,503.8 938.8,372.9 939.0,434.4 939.2,475.8 939.4,439.8 939.6,424.0 939.8,442.0 940.0,412.2 940.2,435.1 940.4,476.7 940.6,471.0 940.8,480.9 941.0,459.0 941.2,427.4 941.4,413.9 941.6,441.7 941.8,424.2 942.0,402.9 942.2,438.7 942.4,502.0 942.6,442.6 942.8,508.5 943.0,436.8 943.2,344.6 943.3,458.2 943.5,407.6 943.7,508.5 943.9,403.9 944.1,493.3 944.3,418.5 944.5,466.4 944.7,468.9 944.9,497.1 945.1,506.8 945.3,428.7 945.5,429.4 945.7,498.1 945.9,443.5 946.1,483.9 946.3,412.4 946.5,489.0 946.7,423.7 946.9,372.9 947.1,453.1 947.3,438.2 947.5,422.5 947.7,434.2 947.9,420.9 948.1,487.6 948.3,411.3 948.5,434.5 948.7,410.7 948.9,435.4 949.1,431.4 949.3,406.8 949.5,500.0 949.7,416.1 949.9,480.4 950.1,421.8 950.3,487.7 950.5,461.3 950.7,496.6 950.9,423.8 951.1,480.5 951.2,460.9 951.4,425.0 951.6,472.0 951.8,414.9 952.0,456.9 952.2,408.5 952.4,427.9 952.6,402.9 952.8,434.6 953.0,478.5 953.2,454.9 953.4,409.1 953.6,411.0 953.8,485.2 954.0,484.6 954.2,485.0 954.4,444.6 954.6,491.1 954.8,435.8 955.0,477.9 955.2,421.1 955.4,485.7 955.6,411.3 955.8,456.3 956.0,507.3 956.2,494.6 956.4,423.8 956.6,493.7 956.8,485.4 957.0,403.9 957.2,467.8 957.4,443.2 957.6,454.0 957.8,462.3 958.0,415.2 958.2,507.2 958.4,471.8 958.6,464.2 958.8,438.9 959.0,434.2 959.1,510.2 959.3,501.2 959.5,486.9 959.7,476.9 959.9,430.1 960.1,378.5 960.3,412.6 960.5,469.8 960.7,468.0 960.9,496.9 961.1,416.4 961.3,416.0 961.5,409.8 961.7,434.2 961.9,372.9 962.1,452.4 962.3,422.8 962.5,458.5 962.7,431.9 962.9,431.8 963.1,447.1 963.3,423.1 963.5,440.9 963.7,486.1 963.9,505.9 964.1,478.2 964.3,491.7 964.5,416.3 964.7,456.5 964.9,435.4 965.1,390.1 965.3,429.0 965.5,420.8 965.7,453.8 965.9,432.6 966.1,411.2 966.3,466.6 966.5,438.9 966.7,411.8 966.9,487.2 967.0,504.0 967.2,462.5 967.4,418.8 967.6,458.2 967.8,490.8 968.0,408.7 968.2,463.6 968.4,467.2 968.6,503.9 968.8,468.0 969.0,409.8 969.2,467.7 969.4,431.5 969.6,415.4 969.8,510.4 970.0,440.8 970.2,497.3 970.4,444.5 970.6,423.8 970.8,475.7 971.0,438.1 971.2,483.1 971.4,451.1 971.6,436.9 971.8,457.1 972.0,466.6 972.2,436.3 972.4,497.9 972.6,478.8 972.8,431.5 973.0,461.4 973.2,502.1 973.4,443.1 973.6,418.1 973.8,482.9 974.0,417.9 974.2,510.3 974.4,414.3 974.6,431.5 974.7,486.3 974.9,485.8 975.1,468.3 975.3,441.9 975.5,461.4 975.7,460.3 975.9,502.9 976.1,487.4 976.3,497.4 976.5,429.2 976.7,496.9 976.9,445.2 977.1,502.8 977.3,446.7 977.5,469.0 977.7,462.1 977.9,437.0 978.1,481.5 978.3,406.2 978.5,420.0 978.7,438.5 978.9,452.6 979.1,443.3 979.3,422.5 979.5,505.9 979.7,412.1 979.9,466.1 980.1,422.6 980.3,505.7 980.5,484.4 980.7,457.2 980.9,456.1 981.1,418.3 981.3,481.3 981.5,488.9 981.7,449.7 981.9,485.8 982.1,421.4 982.3,489.5 982.5,510.5 982.6,450.7 982.8,490.1 983.0,421.6 983.2,501.6 983.4,463.4 983.6,453.6 983.8,438.8 984.0,505.6 984.2,461.7 984.4,499.3 984.6,507.1 984.8,423.0 985.0,487.1 985.2,504.8 985.4,509.8 985.6,401.0 985.8,428.4 986.0,439.7 986.2,435.0 986.4,485.6 986.6,456.0 986.8,440.8 987.0,488.3 987.2,441.4 987.4,434.9 987.6,462.2 987.8,450.2 988.0,508.7 988.2,476.4 988.4,472.9 988.6,478.1 988.8,422.6 989.0,402.2 989.2,505.9 989.4,456.5 989.6,493.4 989.8,449.9 990.0,418.1 990.2,498.4 990.4,475.8 990.5,480.1 990.7,444.6 990.9,434.4 991.1,507.2 991.3,492.7 991.5,477.3 991.7,420.1 991.9,439.8 992.1,453.0 992.3,379.0 992.5,475.2 992.7,404.9 992.9,489.0 993.1,487.9 993.3,425.2 993.5,434.8 993.7,453.6 993.9,497.2 994.1,483.1 994.3,377.2 994.5,470.0 994.7,507.4 994.9,490.6 995.1,457.3 995.3,431.2 995.5,470.1 995.7,489.4 995.9,437.9 996.1,483.7 996.3,487.6 996.5,458.8 996.7,464.6 996.9,431.6 997.1,470.7 997.3,452.6 997.5,470.3 997.7,434.2 997.9,428.3 998.1,503.0 998.3,429.2 998.4,428.4 998.6,479.4 998.8,510.7 999.0,470.5 999.2,450.3 999.4,494.0 999.6,495.6 999.8,479.4 1000.0,378.0 1000.2,457.7 1000.4,448.5 1000.6,458.9 1000.8,450.8 1001.0,472.9 1001.2,467.3 1001.4,502.3 1001.6,420.7 1001.8,497.0 1002.0,437.8 1002.2,454.9 1002.4,444.1 1002.6,464.7 1002.8,462.8 1003.0,481.7 1003.2,504.8 1003.4,455.8 1003.6,457.1 1003.8,482.9 1004.0,428.9 1004.2,428.3 1004.4,479.8 1004.6,471.3 1004.8,493.2 1005.0,407.3 1005.2,495.1 1005.4,475.4 1005.6,426.1 1005.8,498.6 1006.0,432.0 1006.1,435.7 1006.3,494.8 1006.5,440.1 1006.7,460.7 1006.9,443.2 1007.1,479.3 1007.3,485.1 1007.5,502.3 1007.7,500.9 1007.9,467.1 1008.1,477.8 1008.3,506.5 1008.5,495.8 1008.7,470.0 1008.9,507.4 1009.1,510.4 1009.3,454.2 1009.5,504.0 1009.7,476.4 1009.9,430.0 1010.1,504.1 1010.3,457.0 1010.5,483.6 1010.7,421.9 1010.9,467.8 1011.1,504.6 1011.3,446.4 1011.5,431.8 1011.7,443.8 1011.9,493.4 1012.1,426.0 1012.3,454.0 1012.5,480.1 1012.7,504.3 1012.9,467.1 1013.1,505.1 1013.3,501.0 1013.5,456.5 1013.7,448.0 1013.9,459.7 1014.0,474.3 1014.2,440.5 1014.4,438.7 1014.6,508.4 1014.8,449.5 1015.0,443.3 1015.2,461.1 1015.4,476.4 1015.6,446.5 1015.8,507.9 1016.0,435.4 1016.2,467.3 1016.4,463.2 1016.6,456.4 1016.8,473.3 1017.0,487.7 1017.2,491.7 1017.4,498.5 1017.6,510.1 1017.8,440.2 1018.0,430.1 1018.2,454.8 1018.4,487.2 1018.6,479.3 1018.8,444.4 1019.0,473.0 1019.2,480.2 1019.4,447.4 1019.6,473.2 1019.8,503.2 1020.0,479.9 1020.2,438.8 1020.4,429.2 1020.6,494.3 1020.8,447.8 1021.0,499.7 1021.2,458.2 1021.4,502.2 1021.6,494.7 1021.8,448.1 1021.9,503.0 1022.1,439.4 1022.3,484.8 1022.5,430.6 1022.7,449.8 1022.9,489.5 1023.1,431.5 1023.3,460.8 1023.5,499.6 1023.7,489.5 1023.9,446.4 1024.1,434.0 1024.3,508.7 1024.5,466.4 1024.7,496.5 1024.9,455.4 1025.1,510.9 1025.3,452.7 1025.5,469.5 1025.7,461.5 1025.9,474.1 1026.1,458.5 1026.3,445.4 1026.5,506.0 1026.7,485.6 1026.9,496.7 1027.1,476.3 1027.3,464.5 1027.5,480.5 1027.7,449.8 1027.9,510.5 1028.1,499.6 1028.3,501.5 1028.5,504.9 1028.7,465.0 1028.9,458.4 1029.1,484.4 1029.3,456.9 1029.5,466.0 1029.7,466.6 1029.8,508.6 1030.0,485.8 1030.2,507.4 1030.4,453.4 1030.6,460.8 1030.8,445.4 1031.0,443.6 1031.2,452.6 1031.4,501.2 1031.6,489.3 1031.8,449.0 1032.0,459.4 1032.2,458.0 1032.4,504.4 1032.6,502.7 1032.8,456.6 1033.0,505.7 1033.2,473.6 1033.4,479.2 1033.6,449.3 1033.8,502.0 1034.0,455.8 1034.2,487.2 1034.4,460.6 1034.6,493.2 1034.8,465.5 1035.0,424.8 1035.2,460.0 1035.4,454.1 1035.6,466.2 1035.8,473.7 1036.0,461.9 1036.2,503.2 1036.4,462.3 1036.6,501.2 1036.8,477.6 1037.0,478.0 1037.2,496.7 1037.4,496.3 1037.5,458.3 1037.7,464.9 1037.9,476.7 1038.1,461.6 1038.3,483.8 1038.5,477.4 1038.7,481.5 1038.9,456.3 1039.1,507.2 1039.3,452.1 1039.5,510.7 1039.7,488.8 1039.9,440.1 1040.1,483.7 1040.3,486.3 1040.5,500.2 1040.7,450.5 1040.9,499.5 1041.1,484.1 1041.3,487.6 1041.5,497.1 1041.7,472.3 1041.9,486.6 1042.1,443.5 1042.3,479.6 1042.5,460.5 1042.7,509.8 1042.9,434.3 1043.1,469.9 1043.3,491.2 1043.5,473.0 1043.7,510.7 1043.9,501.4 1044.1,461.6 1044.3,479.4 1044.5,447.9 1044.7,461.8 1044.9,445.0 1045.1,451.5 1045.3,503.8 1045.4,452.1 1045.6,463.2 1045.8,499.5 1046.0,502.3 1046.2,491.2 1046.4,455.2 1046.6,485.5 1046.8,474.7 1047.0,477.6 1047.2,468.4 1047.4,482.4 1047.6,504.6 1047.8,444.7 1048.0,472.8 1048.2,509.3 1048.4,498.9 1048.6,446.5 1048.8,445.3 1049.0,477.3 1049.2,487.7 1049.4,482.5 1049.6,489.6 1049.8,478.2 1050.0,469.7 1050.2,502.7 1050.4,444.9 1050.6,497.8 1050.8,506.1 1051.0,469.7 1051.2,488.1 1051.4,460.5 1051.6,499.9 1051.8,474.8 1052.0,497.2 1052.2,455.0 1052.4,496.2 1052.6,445.8 1052.8,496.9 1053.0,456.6 1053.2,483.1 1053.3,445.8 1053.5,487.9 1053.7,472.2 1053.9,450.8 1054.1,505.4 1054.3,478.3 1054.5,452.2 1054.7,494.1 1054.9,503.3 1055.1,472.0 1055.3,455.9 1055.5,451.2 1055.7,478.8 1055.9,498.6 1056.1,510.8 1056.3,485.7 1056.5,502.8 1056.7,471.9 1056.9,464.9 1057.1,465.5 1057.3,497.9 1057.5,413.9 1057.7,458.9 1057.9,468.4 1058.1,457.1 1058.3,447.2 1058.5,488.6 1058.7,458.3 1058.9,483.6 1059.1,485.0 1059.3,444.8 1059.5,494.6 1059.7,478.2 1059.9,457.6 1060.1,468.4 1060.3,485.4 1060.5,459.1 1060.7,489.7 1060.9,477.1 1061.1,477.9 1061.2,501.1 1061.4,499.5 1061.6,453.8 1061.8,504.0 1062.0,445.9 1062.2,489.4 1062.4,446.4 1062.6,463.6 1062.8,479.0 1063.0,452.8 1063.2,504.1 1063.4,474.4 1063.6,463.0 1063.8,463.0 1064.0,491.4 1064.2,507.4 1064.4,447.7 1064.6,450.4 1064.8,490.9 1065.0,455.8 1065.2,501.8 1065.4,493.2 1065.6,446.3 1065.8,504.3 1066.0,472.7 1066.2,462.9 1066.4,457.8 1066.6,449.7 1066.8,506.6 1067.0,463.8 1067.2,468.0 1067.4,459.1 1067.6,494.4 1067.8,455.5 1068.0,488.2 1068.2,468.0 1068.4,490.2 1068.6,482.8 1068.8,447.2 1068.9,498.0 1069.1,456.2 1069.3,506.9 1069.5,448.5 1069.7,470.3 1069.9,489.6 1070.1,459.5 1070.3,462.8 1070.5,448.4 1070.7,465.8 1070.9,461.0 1071.1,486.9 1071.3,458.0 1071.5,461.2 1071.7,479.8 1071.9,495.5 1072.1,447.7 1072.3,481.3 1072.5,459.0 1072.7,507.2 1072.9,491.5 1073.1,498.8 1073.3,463.5 1073.5,486.6 1073.7,459.2 1073.9,489.4 1074.1,490.9 1074.3,490.6 1074.5,495.8 1074.7,474.6 1074.9,478.6 1075.1,452.8 1075.3,489.1 1075.5,503.1 1075.7,455.2 1075.9,450.0 1076.1,476.4 1076.3,506.8 1076.5,479.4 1076.7,499.3 1076.8,489.6 1077.0,484.8 1077.2,507.9 1077.4,479.2 1077.6,479.1 1077.8,495.5 1078.0,505.1 1078.2,473.7 1078.4,469.3 1078.6,448.9 1078.8,472.9 1079.0,499.1 1079.2,499.3 1079.4,510.8 1079.6,506.2 1079.8,459.7 1080.0,509.6 1080.2,483.0 1080.4,499.6 1080.6,471.5 1080.8,462.2 1081.0,476.9 1081.2,467.8 1081.4,509.3 1081.6,505.9 1081.8,508.3 1082.0,496.1 1082.2,510.5 1082.4,464.9 1082.6,458.3 1082.8,427.4 1083.0,495.9 1083.2,486.4 1083.4,471.3 1083.6,501.5 1083.8,492.4 1084.0,468.7 1084.2,481.5 1084.4,488.3 1084.6,498.4 1084.7,427.5 1084.9,492.8 1085.1,486.4 1085.3,477.7 1085.5,496.7 1085.7,455.6 1085.9,492.9 1086.1,465.0 1086.3,472.1 1086.5,502.3 1086.7,511.2 1086.9,483.8 1087.1,465.6 1087.3,504.2 1087.5,462.5 1087.7,500.4 1087.9,489.6 1088.1,504.8 1088.3,502.8 1088.5,474.5 1088.7,466.6 1088.9,508.8 1089.1,460.6 1089.3,478.7 1089.5,478.0 1089.7,481.2 1089.9,504.6 1090.1,453.4 1090.3,458.4 1090.5,505.5 1090.7,485.5 1090.9,501.2 1091.1,486.3 1091.3,471.5 1091.5,453.9 1091.7,471.5 1091.9,454.1 1092.1,460.1 1092.3,502.4 1092.5,465.8 1092.6,475.9 1092.8,503.6 1093.0,478.3 1093.2,468.9 1093.4,503.3 1093.6,457.4 1093.8,453.7 1094.0,450.8 1094.2,510.9 1094.4,476.1 1094.6,502.0 1094.8,504.1 1095.0,475.9 1095.2,485.1 1095.4,473.0 1095.6,465.0 1095.8,487.1 1096.0,461.1 1096.2,459.3 1096.4,450.7 1096.6,511.5 1096.8,492.2 1097.0,454.2 1097.2,459.0 1097.4,499.0 1097.6,460.3 1097.8,455.3 1098.0,463.2 1098.2,505.1 1098.4,467.5 1098.6,511.6 1098.8,477.5 1099.0,477.2 1099.2,465.0 1099.4,494.4 1099.6,483.7 1099.8,488.9 1100.0,506.5 1100.2,489.9 1100.3,451.2 1100.5,470.8 1100.7,501.9 1100.9,510.4 1101.1,440.6 1101.3,472.4 1101.5,506.4 1101.7,476.8 1101.9,498.4 1102.1,469.8 1102.3,441.0 1102.5,491.0 1102.7,463.0 1102.9,509.5 1103.1,490.0 1103.3,489.7 1103.5,484.3 1103.7,485.9 1103.9,457.3 1104.1,497.0 1104.3,501.7 1104.5,459.5 1104.7,476.8 1104.9,473.9 1105.1,486.9 1105.3,477.3 1105.5,460.9 1105.7,499.3 1105.9,483.9 1106.1,495.4 1106.3,477.8 1106.5,492.0 1106.7,491.8 1106.9,491.4 1107.1,491.8 1107.3,475.7 1107.5,505.5 1107.7,492.0 1107.9,510.9 1108.1,488.3 1108.2,499.9 1108.4,477.0 1108.6,500.9 1108.8,451.6 1109.0,468.5 1109.2,498.8 1109.4,452.8 1109.6,461.1 1109.8,505.0 1110.0,472.1 1110.2,459.1 1110.4,511.5 1110.6,505.0 1110.8,501.0 1111.0,474.6 1111.2,476.8 1111.4,506.3 1111.6,505.0 1111.8,506.6 1112.0,486.9 1112.2,486.3 1112.4,485.9 1112.6,455.3 1112.8,481.8 1113.0,490.6 1113.2,488.3 1113.4,474.6 1113.6,455.6 1113.8,484.9 1114.0,463.0 1114.2,467.4 1114.4,471.7 1114.6,475.8 1114.8,475.2 1115.0,482.5 1115.2,504.6 1115.4,473.3 1115.6,505.6 1115.8,466.0 1116.0,497.4 1116.1,469.5 1116.3,476.6 1116.5,489.8 1116.7,469.7 1116.9,451.3 1117.1,478.8 1117.3,478.9 1117.5,478.3 1117.7,510.3 1117.9,498.1 1118.1,464.4 1118.3,505.2 1118.5,496.3 1118.7,453.5 1118.9,451.3 1119.1,485.7 1119.3,501.0 1119.5,464.6 1119.7,431.2 1119.9,482.5 1120.1,441.7 1120.3,497.3 1120.5,451.0 1120.7,511.2 1120.9,454.3 1121.1,484.8 1121.3,477.7 1121.5,472.4 1121.7,485.4 1121.9,489.8 1122.1,497.0 1122.3,477.6 1122.5,456.0 1122.7,461.5 1122.9,500.7 1123.1,471.7 1123.3,460.4 1123.5,501.4 1123.7,483.7 1123.9,483.4 1124.0,475.5 1124.2,505.5 1124.4,481.9 1124.6,482.9 1124.8,429.7 1125.0,472.9 1125.2,462.7 1125.4,487.6 1125.6,476.1 1125.8,503.2 1126.0,467.6 1126.2,417.6 1126.4,467.1 1126.6,468.1 1126.8,482.5 1127.0,456.2 1127.2,469.9 1127.4,455.8 1127.6,506.8 1127.8,472.1 1128.0,494.1 1128.2,503.9 1128.4,479.9 1128.6,473.3 1128.8,507.1 1129.0,508.7 1129.2,467.7 1129.4,485.3 1129.6,483.7 1129.8,506.9 1130.0,510.7 1130.2,490.7 1130.4,466.0 1130.6,488.3 1130.8,478.8 1131.0,491.7 1131.2,500.5 1131.4,477.3 1131.6,499.3 1131.7,482.1 1131.9,497.5 1132.1,498.3 1132.3,508.5 1132.5,497.8 1132.7,471.5 1132.9,477.9 1133.1,472.4 1133.3,451.3 1133.5,453.2 1133.7,484.2 1133.9,483.7 1134.1,435.0 1134.3,511.2 1134.5,486.6 1134.7,493.0 1134.9,471.9 1135.1,511.5 1135.3,487.5 1135.5,455.7 1135.7,502.7 1135.9,465.6 1136.1,466.4 1136.3,501.3 1136.5,507.5 1136.7,457.9 1136.9,507.8 1137.1,509.4 1137.3,444.1 1137.5,496.4 1137.7,483.4 1137.9,500.7 1138.1,495.0 1138.3,453.8 1138.5,485.1 1138.7,482.0 1138.9,494.8 1139.1,510.6 1139.3,469.6 1139.5,452.8 1139.6,501.0 1139.8,474.4 1140.0,479.1 1140.2,474.0 1140.4,479.3 1140.6,471.5 1140.8,479.6 1141.0,474.5 1141.2,494.5 1141.4,461.5 1141.6,455.0 1141.8,479.9 1142.0,497.2 1142.2,506.2 1142.4,467.6 1142.6,459.6 1142.8,509.6 1143.0,487.2 1143.2,498.4 1143.4,486.4 1143.6,499.5 1143.8,505.4 1144.0,461.7 1144.2,507.0 1144.4,504.4 1144.6,482.4 1144.8,471.6 1145.0,463.1 1145.2,474.4 1145.4,479.3 1145.6,439.1 1145.8,452.3 1146.0,459.1 1146.2,460.1 1146.4,474.0 1146.6,487.9 1146.8,492.8 1147.0,496.4 1147.2,495.7 1147.4,509.4 1147.5,481.6 1147.7,477.4 1147.9,465.5 1148.1,478.8 1148.3,501.7 1148.5,484.3 1148.7,482.4 1148.9,491.2 1149.1,463.7 1149.3,501.3 1149.5,493.6 1149.7,456.3 1149.9,467.8 1150.1,461.8 1150.3,490.5 1150.5,444.6 1150.7,495.9 1150.9,486.7 1151.1,481.9 1151.3,464.3 1151.5,505.2 1151.7,454.1 1151.9,507.4 1152.1,464.7 1152.3,498.4 1152.5,504.8 1152.7,458.0 1152.9,487.2 1153.1,461.6 1153.3,490.7 1153.5,500.9 1153.7,497.2 1153.9,479.7 1154.1,455.8 1154.3,488.9 1154.5,484.7 1154.7,509.9 1154.9,483.3 1155.1,490.0 1155.2,490.2 1155.4,476.5 1155.6,464.4 1155.8,499.3 1156.0,479.4 1156.2,460.7 1156.4,461.4 1156.6,479.4 1156.8,506.5 1157.0,454.7 1157.2,497.9 1157.4,473.2 1157.6,462.3 1157.8,510.2 1158.0,469.6 1158.2,462.0 1158.4,473.1 1158.6,477.5 1158.8,500.9 1159.0,453.7 1159.2,511.6 1159.4,455.6 1159.6,464.1 1159.8,458.4 1160.0,506.8 1160.2,458.4 1160.4,464.2 1160.6,466.4 1160.8,495.4 1161.0,499.3 1161.2,507.4 1161.4,464.2 1161.6,463.1 1161.8,506.0 1162.0,505.0 1162.2,493.8 1162.4,500.5 1162.6,486.0 1162.8,471.2 1163.0,464.7 1163.1,503.6 1163.3,489.2 1163.5,508.8 1163.7,491.2 1163.9,505.7 1164.1,508.0 1164.3,488.9 1164.5,503.5 1164.7,501.8 1164.9,505.3 1165.1,474.9 1165.3,506.4 1165.5,501.3 1165.7,464.5 1165.9,491.1 1166.1,499.2 1166.3,454.8 1166.5,441.1 1166.7,484.3 1166.9,493.6 1167.1,467.8 1167.3,460.6 1167.5,487.7 1167.7,463.1 1167.9,460.2 1168.1,511.4 1168.3,454.9 1168.5,507.7 1168.7,492.5 1168.9,425.3 1169.1,456.9 1169.3,500.3 1169.5,489.4 1169.7,467.8 1169.9,444.1 1170.1,465.0 1170.3,487.6 1170.5,427.7 1170.7,489.8 1170.9,487.5 1171.0,455.4 1171.2,496.1 1171.4,509.3 1171.6,495.5 1171.8,468.8 1172.0,466.5 1172.2,510.7 1172.4,499.8 1172.6,461.1 1172.8,464.6 1173.0,478.5 1173.2,496.6 1173.4,476.2 1173.6,510.1 1173.8,486.1 1174.0,471.2 1174.2,467.0 1174.4,485.2 1174.6,511.6 1174.8,488.4 1175.0,480.7 1175.2,480.9 1175.4,503.1 1175.6,495.8 1175.8,467.9 1176.0,502.3 1176.2,489.3 1176.4,511.1 1176.6,483.2 1176.8,490.3 1177.0,459.4 1177.2,461.5 1177.4,511.6 1177.6,495.5 1177.8,505.9 1178.0,493.8 1178.2,494.7 1178.4,510.4 1178.6,499.3 1178.8,496.0 1178.9,459.9 1179.1,473.9 1179.3,482.9 1179.5,500.6 1179.7,461.7 1179.9,511.0 1180.1,457.2 1180.3,460.4 1180.5,505.4 1180.7,510.0 1180.9,480.2 1181.1,475.6 1181.3,484.5 1181.5,469.7 1181.7,464.4 1181.9,508.9 1182.1,477.9 1182.3,504.8 1182.5,456.8 1182.7,464.6 1182.9,458.6 1183.1,490.6 1183.3,472.0 1183.5,511.4 1183.7,474.7 1183.9,505.3 1184.1,489.3 1184.3,489.3 1184.5,468.0 1184.7,497.3 1184.9,488.7 1185.1,495.0 1185.3,481.8 1185.5,507.9 1185.7,474.8 1185.9,500.8 1186.1,477.2 1186.3,465.9 1186.5,464.0 1186.6,503.4 1186.8,470.5 1187.0,481.9 1187.2,509.9 1187.4,504.7 1187.6,505.8 1187.8,497.1 1188.0,494.0 1188.2,484.6 1188.4,481.1 1188.6,481.2 1188.8,460.2 1189.0,470.7 1189.2,457.9 1189.4,476.0 1189.6,484.3 1189.8,480.0 1190.0,508.1 1190.2,476.4 1190.4,502.3 1190.6,454.8 1190.8,461.2 1191.0,498.0 1191.2,479.0 1191.4,471.2 1191.6,470.4 1191.8,477.8 1192.0,483.8 1192.2,458.8 1192.4,491.4 1192.6,510.9 1192.8,465.5 1193.0,464.0 1193.2,510.4 1193.4,490.3 1193.6,478.2 1193.8,500.1 1194.0,464.5 1194.2,504.0 1194.4,480.5 1194.5,438.3 1194.7,463.7 1194.9,505.1 1195.1,497.9 1195.3,508.1 1195.5,492.5 1195.7,455.0 1195.9,510.6 1196.1,492.9 1196.3,489.7 1196.5,485.9 1196.7,495.8 1196.9,475.2 1197.1,504.4 1197.3,469.8 1197.5,469.0 1197.7,474.5 1197.9,470.1 1198.1,491.3 1198.3,493.6 1198.5,466.1 1198.7,488.6 1198.9,482.9 1199.1,476.9 1199.3,500.1 1199.5,463.3 1199.7,507.5 1199.9,456.3 1200.1,474.6 1200.3,500.2 1200.5,466.4 1200.7,464.4 1200.9,486.7 1201.1,474.8 1201.3,509.6 1201.5,484.7 1201.7,455.2 1201.9,510.7 1202.1,490.0 1202.3,468.2 1202.4,496.7 1202.6,510.4 1202.8,488.2 1203.0,458.1 1203.2,464.2 1203.4,455.9 1203.6,508.4 1203.8,499.0 1204.0,457.5 1204.2,455.7 1204.4,485.6 1204.6,511.4 1204.8,479.1 1205.0,460.4 1205.2,491.2 1205.4,429.7 1205.6,510.3 1205.8,467.7 1206.0,507.7 1206.2,459.3 1206.4,485.0 1206.6,468.7 1206.8,510.0 1207.0,472.9 1207.2,506.3 1207.4,486.6 1207.6,482.2 1207.8,465.7 1208.0,475.2 1208.2,506.2 1208.4,474.2 1208.6,510.3 1208.8,506.1 1209.0,469.4 1209.2,484.2 1209.4,508.0 1209.6,506.7 1209.8,467.1 1210.0,474.0 1210.2,492.2 1210.3,462.4 1210.5,502.7 1210.7,465.7 1210.9,506.3 1211.1,460.0 1211.3,464.3 1211.5,491.6 1211.7,500.9 1211.9,503.5 1212.1,491.1 1212.3,470.2 1212.5,475.7 1212.7,485.3 1212.9,500.6 1213.1,435.1 1213.3,498.3 1213.5,489.3 1213.7,470.3 1213.9,478.7 1214.1,491.1 1214.3,494.6 1214.5,456.6 1214.7,484.1 1214.9,503.7 1215.1,494.7 1215.3,455.7 1215.5,506.5 1215.7,479.6 1215.9,511.4 1216.1,466.4 1216.3,490.3 1216.5,467.9 1216.7,462.7 1216.9,477.3 1217.1,508.6 1217.3,496.2 1217.5,488.2 1217.7,467.2 1217.9,497.4 1218.0,502.2 1218.2,501.0 1218.4,483.6 1218.6,467.8 1218.8,456.0 1219.0,479.3 1219.2,463.5 1219.4,456.8 1219.6,477.4 1219.8,457.3 1220.0,482.9 1220.2,482.1 1220.4,482.1 1220.6,500.1 1220.8,507.3 1221.0,470.4 1221.2,510.1 1221.4,482.7 1221.6,453.7 1221.8,490.4 1222.0,470.5 1222.2,489.9 1222.4,492.7 1222.6,472.6 1222.8,465.1 1223.0,500.6 1223.2,472.4 1223.4,494.5 1223.6,510.7 1223.8,486.7 1224.0,471.9 1224.2,487.4 1224.4,473.4 1224.6,471.6 1224.8,486.0 1225.0,474.5 1225.2,477.1 1225.4,454.3 1225.6,469.8 1225.8,511.1 1225.9,460.7 1226.1,462.7 1226.3,460.8 1226.5,484.8 1226.7,508.0 1226.9,469.7 1227.1,488.8 1227.3,487.5 1227.5,501.7 1227.7,453.1 1227.9,485.6 1228.1,501.0 1228.3,482.4 1228.5,460.9 1228.7,472.4 1228.9,460.4 1229.1,458.5 1229.3,431.6 1229.5,462.0 1229.7,466.4 1229.9,479.0 1230.1,463.7 1230.3,481.3 1230.5,491.8 1230.7,465.8 1230.9,507.5 1231.1,459.9 1231.3,509.5 1231.5,488.6 1231.7,485.4 1231.9,466.9 1232.1,473.4 1232.3,496.1 1232.5,459.5 1232.7,458.4 1232.9,485.7 1233.1,475.4 1233.3,455.8 1233.5,478.8 1233.7,460.9 1233.8,510.0 1234.0,506.0 1234.2,459.2 1234.4,487.1 1234.6,483.7 1234.8,486.7 1235.0,495.4 1235.2,485.1 1235.4,454.5 1235.6,453.4 1235.8,504.9 1236.0,480.5 1236.2,482.6 1236.4,504.0 1236.6,497.6 1236.8,495.7 1237.0,502.6 1237.2,465.6 1237.4,460.8 1237.6,474.7 1237.8,453.6 1238.0,454.1 1238.2,495.5 1238.4,475.7 1238.6,493.0 1238.8,456.3 1239.0,484.9 1239.2,479.1 1239.4,455.1 1239.6,461.9 1239.8,479.5 1240.0,509.6 1240.2,473.4 1240.4,489.4 1240.6,475.4 1240.8,488.0 1241.0,503.8 1241.2,502.1 1241.4,489.8 1241.6,465.8 1241.7,493.7 1241.9,452.9 1242.1,465.9 1242.3,458.4 1242.5,484.8 1242.7,484.8 1242.9,509.9 1243.1,476.0 1243.3,459.3 1243.5,506.8 1243.7,482.3 1243.9,462.8 1244.1,464.0 1244.3,470.6 1244.5,489.4 1244.7,497.5 1244.9,497.4 1245.1,505.9 1245.3,472.5 1245.5,490.1 1245.7,468.1 1245.9,459.2 1246.1,511.1 1246.3,495.2 1246.5,477.3 1246.7,482.2 1246.9,474.1 1247.1,457.3 1247.3,500.3 1247.5,482.6 1247.7,507.2 1247.9,485.1 1248.1,486.6 1248.3,511.0 1248.5,495.2 1248.7,463.1 1248.9,481.9 1249.1,486.1 1249.3,485.2 1249.4,466.5 1249.6,506.7 1249.8,480.6 1250.0,508.1 1250.2,465.2 1250.4,489.3 1250.6,497.5 1250.8,490.8 1251.0,473.2 1251.2,460.3 1251.4,466.3 1251.6,453.3 1251.8,496.1 1252.0,501.3 1252.2,479.0 1252.4,505.7 1252.6,501.8 1252.8,474.3 1253.0,460.2 1253.2,469.1 1253.4,509.5 1253.6,454.7 1253.8,464.8 1254.0,476.3 1254.2,475.4 1254.4,491.5 1254.6,495.3 1254.8,469.6 1255.0,504.1 1255.2,462.1 1255.4,480.8 1255.6,475.3 1255.8,455.0 1256.0,458.1 1256.2,511.1 1256.4,481.5 1256.6,506.8 1256.8,505.4 1257.0,454.1 1257.2,510.7 1257.3,507.0 1257.5,461.3 1257.7,475.8 1257.9,507.0 1258.1,430.1 1258.3,459.9 1258.5,453.9 1258.7,507.5 1258.9,472.7 1259.1,505.8 1259.3,503.9 1259.5,498.0 1259.7,492.6 1259.9,492.9 1260.1,496.7 1260.3,500.8 1260.5,503.0 1260.7,488.6 1260.9,494.8 1261.1,508.2 1261.3,506.2 1261.5,483.9 1261.7,498.0 1261.9,505.1 1262.1,463.2 1262.3,499.4 1262.5,464.0 1262.7,487.0 1262.9,509.1 1263.1,486.7 1263.3,496.8 1263.5,510.0 1263.7,509.5 1263.9,500.0 1264.1,465.4 1264.3,492.5 1264.5,472.8 1264.7,494.2 1264.9,498.1 1265.1,458.9 1265.2,454.6 1265.4,489.3 1265.6,465.2 1265.8,493.9 1266.0,494.8 1266.2,470.7 1266.4,475.8 1266.6,477.0 1266.8,464.2 1267.0,511.5 1267.2,457.9 1267.4,483.0 1267.6,457.1 1267.8,462.4 1268.0,483.1 1268.2,487.1 1268.4,463.1 1268.6,464.8 1268.8,504.5 1269.0,511.2 1269.2,492.4 1269.4,479.6 1269.6,509.5 1269.8,464.9 1270.0,456.5 1270.2,480.1 1270.4,491.9 1270.6,503.7 1270.8,508.2 1271.0,483.8 1271.2,510.9 1271.4,478.1 1271.6,511.0 1271.8,462.6 1272.0,494.6 1272.2,483.0 1272.4,467.2 1272.6,459.7 1272.8,508.6 1273.0,503.9 1273.1,464.5 1273.3,499.6 1273.5,496.3 1273.7,478.8 1273.9,473.0 1274.1,473.2 1274.3,482.7 1274.5,504.2 1274.7,464.9 1274.9,477.3 1275.1,454.8 1275.3,479.8 1275.5,468.0 1275.7,500.0 1275.9,479.1 1276.1,494.5 1276.3,505.7 1276.5,452.5 1276.7,454.8 1276.9,489.1 1277.1,473.9 1277.3,454.0 1277.5,500.3 1277.7,496.4 1277.9,459.4 1278.1,486.5 1278.3,480.7 1278.5,447.1 1278.7,481.8 1278.9,476.2 1279.1,491.4 1279.3,456.7 1279.5,460.3 1279.7,484.6 1279.9,464.0 1280.1,456.0 1280.3,456.0 1280.5,506.9 1280.7,479.2 1280.8,466.0 1281.0,491.9 1281.2,487.2 1281.4,484.4 1281.6,478.9 1281.8,470.1 1282.0,460.5 1282.2,459.4 1282.4,463.5 1282.6,442.8 1282.8,498.3 1283.0,481.4 1283.2,510.2 1283.4,511.3 1283.6,497.0 1283.8,459.3 1284.0,480.8 1284.2,477.8 1284.4,452.9 1284.6,464.2 1284.8,488.7 1285.0,492.1 1285.2,480.4 1285.4,483.8 1285.6,488.0 1285.8,464.1 1286.0,468.6 1286.2,493.5 1286.4,501.1 1286.6,471.3 1286.8,465.8 1287.0,479.5 1287.2,463.1 1287.4,473.1 1287.6,478.6 1287.8,493.8 1288.0,484.6 1288.2,473.3 1288.4,445.5 1288.6,481.8 1288.7,507.9 1288.9,492.7 1289.1,467.7 1289.3,452.2 1289.5,493.6 1289.7,477.8 1289.9,458.1 1290.1,494.7 1290.3,465.2 1290.5,485.2 1290.7,493.0 1290.9,455.5 1291.1,488.1 1291.3,490.9 1291.5,452.9 1291.7,490.4 1291.9,500.0 1292.1,507.0 1292.3,466.2 1292.5,467.0 1292.7,493.7 1292.9,476.3 1293.1,475.9 1293.3,461.8 1293.5,510.4 1293.7,491.8 1293.9,510.2 1294.1,502.6 1294.3,480.1 1294.5,478.2 1294.7,494.7 1294.9,505.3 1295.1,454.2 1295.3,497.3 1295.5,454.1 1295.7,453.5 1295.9,468.0 1296.1,495.2 1296.3,494.7 1296.5,504.8 1296.6,472.7 1296.8,467.1 1297.0,457.9 1297.2,477.1 1297.4,485.3 1297.6,479.0 1297.8,498.4 1298.0,478.3 1298.2,501.9 1298.4,466.0 1298.6,496.5 1298.8,454.0 1299.0,488.8 1299.2,462.9 1299.4,471.7 1299.6,489.6 1299.8,457.4 1300.0,465.2 1300.2,456.7 1300.4,484.6 1300.6,500.5 1300.8,506.8 1301.0,477.6 1301.2,504.7 1301.4,453.1 1301.6,508.1 1301.8,431.5 1302.0,462.2 1302.2,482.0 1302.4,453.6 1302.6,511.0 1302.8,475.0 1303.0,472.9 1303.2,477.8 1303.4,473.3 1303.6,490.7 1303.8,484.4 1304.0,457.1 1304.2,453.9 1304.4,510.4 1304.5,497.5 1304.7,486.0 1304.9,491.8 1305.1,510.9 1305.3,476.8 1305.5,500.9 1305.7,458.9 1305.9,461.6 1306.1,491.8 1306.3,468.2 1306.5,477.2 1306.7,486.3 1306.9,471.7 1307.1,496.5 1307.3,493.1 1307.5,467.1 1307.7,485.1 1307.9,495.6 1308.1,477.1 1308.3,507.2 1308.5,498.9 1308.7,489.4 1308.9,453.5 1309.1,468.0 1309.3,468.9 1309.5,461.8 1309.7,479.2 1309.9,454.3 1310.1,492.0 1310.3,453.8 1310.5,506.9 1310.7,493.9 1310.9,451.8 1311.1,502.5 1311.3,510.6 1311.5,478.7 1311.7,492.3 1311.9,506.5 1312.1,506.6 1312.2,494.3 1312.4,493.1 1312.6,453.8 1312.8,502.8 1313.0,463.2 1313.2,491.8 1313.4,504.1 1313.6,509.6 1313.8,460.1 1314.0,501.2 1314.2,498.8 1314.4,483.9 1314.6,451.8 1314.8,480.6 1315.0,500.2 1315.2,475.2 1315.4,478.3 1315.6,473.1 1315.8,497.9 1316.0,477.7 1316.2,462.4 1316.4,484.4 1316.6,500.2 1316.8,461.3 1317.0,479.2 1317.2,479.2 1317.4,496.2 1317.6,458.5 1317.8,467.9 1318.0,460.2 1318.2,451.7 1318.4,493.6 1318.6,497.1 1318.8,492.8 1319.0,502.5 1319.2,487.8 1319.4,483.5 1319.6,471.5 1319.8,504.2 1320.0,464.6 1320.1,491.0 1320.3,480.3 1320.5,463.6 1320.7,478.5 1320.9,501.1 1321.1,462.7 1321.3,499.1 1321.5,507.4 1321.7,454.5 1321.9,489.8 1322.1,479.0 1322.3,492.0 1322.5,475.5 1322.7,492.6 1322.9,432.4 1323.1,498.9 1323.3,457.8 1323.5,492.2 1323.7,503.8 1323.9,504.4 1324.1,475.3 1324.3,479.9 1324.5,464.4 1324.7,501.4 1324.9,455.9 1325.1,466.2 1325.3,452.4 1325.5,486.5 1325.7,492.4 1325.9,467.4 1326.1,456.9 1326.3,484.5 1326.5,498.2 1326.7,503.5 1326.9,468.7 1327.1,494.8 1327.3,477.5 1327.5,471.6 1327.7,506.7 1327.9,489.5 1328.0,490.2 1328.2,489.2 1328.4,454.7 1328.6,433.7 1328.8,472.1 1329.0,455.9 1329.2,455.4 1329.4,454.3 1329.6,466.0 1329.8,478.6 1330.0,501.5 1330.2,501.5 1330.4,474.3 1330.6,511.0 1330.8,507.2 1331.0,497.2 1331.2,477.0 1331.4,453.2 1331.6,484.1 1331.8,499.7 1332.0,493.0 1332.2,504.6 1332.4,499.0 1332.6,466.6 1332.8,506.5 1333.0,503.1 1333.2,476.1 1333.4,504.9 1333.6,473.9 1333.8,452.5 1334.0,453.1 1334.2,510.4 1334.4,469.0 1334.6,471.9 1334.8,485.5 1335.0,495.8 1335.2,485.2 1335.4,495.9 1335.6,511.4 1335.8,467.0 1335.9,463.1 1336.1,442.8 1336.3,505.3 1336.5,476.7 1336.7,462.6 1336.9,489.2 1337.1,454.2 1337.3,498.5 1337.5,496.7 1337.7,465.4 1337.9,506.6 1338.1,501.5 1338.3,478.7 1338.5,479.3 1338.7,471.2 1338.9,501.3 1339.1,482.9 1339.3,471.3 1339.5,472.6 1339.7,488.8 1339.9,480.3 1340.1,462.7 1340.3,502.5 1340.5,460.5 1340.7,484.5 1340.9,472.5 1341.1,475.5 1341.3,457.1 1341.5,466.9 1341.7,484.7 1341.9,506.2 1342.1,458.4 1342.3,457.6 1342.5,479.0 1342.7,474.5 1342.9,496.3 1343.1,467.2 1343.3,489.0 1343.5,474.3 1343.6,452.2 1343.8,452.2 1344.0,506.3 1344.2,477.3 1344.4,469.6 1344.6,483.1 1344.8,472.5 1345.0,502.6 1345.2,465.0 1345.4,452.5 1345.6,501.6 1345.8,487.9 1346.0,459.5 1346.2,484.0 1346.4,506.7 1346.6,496.6 1346.8,461.9 1347.0,484.9 1347.2,488.7 1347.4,499.6 1347.6,510.4 1347.8,507.8 1348.0,467.5 1348.2,491.2 1348.4,503.9 1348.6,450.9 1348.8,494.6 1349.0,501.8 1349.2,486.0 1349.4,507.5 1349.6,504.0 1349.8,468.8 1350.0,456.0 1350.2,456.4 1350.4,480.5 1350.6,503.3 1350.8,453.4 1351.0,481.9 1351.2,483.1 1351.4,470.0 1351.5,473.5 1351.7,467.1 1351.9,496.9 1352.1,454.9 1352.3,491.7 1352.5,492.2 1352.7,458.9 1352.9,508.5 1353.1,507.3 1353.3,467.5 1353.5,508.7 1353.7,461.2 1353.9,431.4 1354.1,500.1 1354.3,491.3 1354.5,474.5 1354.7,468.6 1354.9,490.5 1355.1,461.6 1355.3,464.8 1355.5,505.5 1355.7,466.8 1355.9,456.0 1356.1,474.2 1356.3,457.2 1356.5,465.1 1356.7,503.1 1356.9,456.5 1357.1,505.6 1357.3,499.3 1357.5,437.3 1357.7,463.6 1357.9,480.9 1358.1,464.3 1358.3,485.8 1358.5,496.4 1358.7,490.4 1358.9,489.8 1359.1,456.8 1359.3,473.8 1359.4,468.4 1359.6,410.0 1359.8,497.0 1360.0,458.7 1360.2,503.6 1360.4,481.5 1360.6,479.6 1360.8,502.5 1361.0,499.5 1361.2,471.6 1361.4,480.7 1361.6,495.0 1361.8,494.8 1362.0,472.7 1362.2,467.0 1362.4,476.8 1362.6,465.8 1362.8,495.7 1363.0,479.1 1363.2,498.5 1363.4,481.1 1363.6,487.4 1363.8,473.4 1364.0,495.7 1364.2,505.0 1364.4,508.9 1364.6,474.6 1364.8,465.5 1365.0,493.5 1365.2,504.1 1365.4,480.3 1365.6,471.8 1365.8,455.3 1366.0,462.0 1366.2,484.9 1366.4,492.5 1366.6,483.8 1366.8,501.6 1367.0,497.5 1367.2,506.9 1367.3,506.1 1367.5,490.3 1367.7,451.9 1367.9,479.5 1368.1,507.5 1368.3,452.3 1368.5,484.2 1368.7,472.9 1368.9,460.1 1369.1,471.6 1369.3,489.5 1369.5,507.5 1369.7,456.1 1369.9,458.6 1370.1,463.9 1370.3,487.1 1370.5,455.7 1370.7,481.0 1370.9,464.1 1371.1,408.5 1371.3,469.4 1371.5,503.3 1371.7,465.0 1371.9,502.1 1372.1,499.6 1372.3,476.1 1372.5,469.9 1372.7,450.0 1372.9,467.4 1373.1,480.9 1373.3,492.6 1373.5,459.7 1373.7,462.6 1373.9,452.7 1374.1,471.8 1374.3,493.0 1374.5,506.2 1374.7,461.4 1374.9,511.6 1375.0,511.3 1375.2,485.4 1375.4,461.3 1375.6,503.1 1375.8,457.9 1376.0,471.0 1376.2,461.6 1376.4,505.7 1376.6,476.1 1376.8,485.1 1377.0,476.6 1377.2,491.7 1377.4,482.1 1377.6,504.3 1377.8,469.9 1378.0,507.2 1378.2,508.8 1378.4,502.5 1378.6,487.4 1378.8,487.5 1379.0,485.2 1379.2,496.7 1379.4,479.4 1379.6,463.0 1379.8,504.6 1380.0,472.5 1380.2,467.5 1380.4,482.9 1380.6,510.7 1380.8,485.2 1381.0,476.0 1381.2,491.0 1381.4,490.2 1381.6,498.8 1381.8,477.6 1382.0,471.1 1382.2,478.6 1382.4,483.3 1382.6,490.6 1382.8,473.9 1382.9,469.6 1383.1,453.4 1383.3,450.0 1383.5,456.7 1383.7,444.3 1383.9,450.2 1384.1,505.1 1384.3,473.7 1384.5,505.8 1384.7,491.1 1384.9,508.9 1385.1,478.8 1385.3,500.0 1385.5,466.5 1385.7,510.4 1385.9,465.9 1386.1,472.0 1386.3,465.9 1386.5,465.2 1386.7,451.9 1386.9,456.5 1387.1,465.7 1387.3,465.0 1387.5,502.6 1387.7,475.5 1387.9,472.3 1388.1,480.1 1388.3,497.5 1388.5,458.8 1388.7,459.8 1388.9,459.1 1389.1,462.7 1389.3,486.7 1389.5,496.0 1389.7,475.2 1389.9,438.0 1390.1,495.3 1390.3,452.5 1390.5,460.1 1390.7,436.7 1390.8,474.3 1391.0,509.9 1391.2,506.2 1391.4,456.1 1391.6,471.1 1391.8,488.5 1392.0,466.5 1392.2,488.6 1392.4,489.7 1392.6,503.9 1392.8,457.4 1393.0,510.2 1393.2,463.8 1393.4,460.4 1393.6,498.0 1393.8,461.5 1394.0,450.8 1394.2,475.2 1394.4,489.6 1394.6,488.6 1394.8,465.4 1395.0,508.0 1395.2,498.2 1395.4,511.4 1395.6,449.1 1395.8,453.2 1396.0,461.9 1396.2,452.6 1396.4,508.7 1396.6,465.3 1396.8,455.2 1397.0,474.4 1397.2,491.5 1397.4,462.0 1397.6,476.8 1397.8,481.3 1398.0,453.1 1398.2,427.8 1398.4,486.3 1398.6,470.2 1398.7,478.1 1398.9,468.0 1399.1,449.0 1399.3,455.5 1399.5,462.4 1399.7,453.3 1399.9,503.0 1400.1,472.1 1400.3,497.0 1400.5,451.8 1400.7,494.9 1400.9,485.6 1401.1,481.6 1401.3,499.4 1401.5,470.6 1401.7,459.2 1401.9,494.2 1402.1,412.1 1402.3,455.9 1402.5,507.6 1402.7,485.7 1402.9,474.2 1403.1,471.5 1403.3,452.7 1403.5,498.4 1403.7,487.5 1403.9,486.3 1404.1,482.4 1404.3,456.4 1404.5,499.8 1404.7,480.3 1404.9,451.6 1405.1,500.4 1405.3,482.4 1405.5,451.8 1405.7,457.1 1405.9,476.0 1406.1,487.0 1406.3,457.8 1406.4,509.7 1406.6,457.0 1406.8,510.1 1407.0,463.2 1407.2,475.1 1407.4,477.0 1407.6,494.4 1407.8,467.0 1408.0,492.4 1408.2,464.5 1408.4,449.7 1408.6,488.4 1408.8,463.6 1409.0,503.7 1409.2,471.4 1409.4,496.5 1409.6,480.2 1409.8,508.3 1410.0,500.9 1410.2,474.6 1410.4,453.9 1410.6,466.0 1410.8,504.2 1411.0,486.9 1411.2,462.9 1411.4,507.4 1411.6,464.2 1411.8,510.5 1412.0,462.3 1412.2,484.9 1412.4,466.8 1412.6,453.7 1412.8,492.0 1413.0,484.6 1413.2,489.3 1413.4,507.2 1413.6,482.6 1413.8,484.7 1414.0,485.1 1414.2,449.7 1414.3,456.1 1414.5,459.3 1414.7,458.3 1414.9,459.7 1415.1,476.9 1415.3,489.9 1415.5,500.6 1415.7,467.4 1415.9,411.2 1416.1,472.6 1416.3,471.7 1416.5,487.7 1416.7,495.3 1416.9,461.5 1417.1,501.9 1417.3,452.4 1417.5,478.1 1417.7,453.6 1417.9,482.6 1418.1,508.6 1418.3,491.9 1418.5,491.1 1418.7,473.3 1418.9,500.7 1419.1,503.1 1419.3,468.4 1419.5,454.4 1419.7,458.4 1419.9,486.9 1420.1,511.6 1420.3,493.0 1420.5,459.5 1420.7,482.0 1420.9,463.5 1421.1,486.5 1421.3,498.0 1421.5,460.3 1421.7,485.6 1421.9,485.0 1422.1,508.7 1422.2,499.3 1422.4,498.0 1422.6,507.4 1422.8,478.6 1423.0,490.6 1423.2,501.0 1423.4,461.8 1423.6,488.7 1423.8,494.1 1424.0,462.4 1424.2,478.4 1424.4,455.4 1424.6,454.4 1424.8,510.3 1425.0,491.4 1425.2,478.0 1425.4,507.1 1425.6,452.9 1425.8,482.8 1426.0,470.2 1426.2,452.0 1426.4,479.2 1426.6,467.1 1426.8,477.5 1427.0,491.6 1427.2,499.6 1427.4,501.8 1427.6,467.8 1427.8,497.9 1428.0,453.5 1428.2,477.8 1428.4,484.0 1428.6,510.8 1428.8,454.6 1429.0,473.2 1429.2,454.5 1429.4,480.5 1429.6,494.5 1429.8,488.0 1430.0,510.7 1430.1,466.4 1430.3,454.0 1430.5,457.8 1430.7,492.5 1430.9,502.9 1431.1,468.2 1431.3,452.4 1431.5,429.8 1431.7,476.9 1431.9,452.5 1432.1,508.0 1432.3,500.5 1432.5,457.0 1432.7,457.4 1432.9,477.8 1433.1,471.7 1433.3,484.1 1433.5,482.5 1433.7,468.0 1433.9,505.3 1434.1,506.6 1434.3,468.1 1434.5,477.0 1434.7,509.3 1434.9,451.8 1435.1,455.6 1435.3,506.8 1435.5,508.9 1435.7,468.9 1435.9,508.9 1436.1,490.5 1436.3,507.9 1436.5,467.8 1436.7,482.5 1436.9,491.5 1437.1,486.8 1437.3,459.9 1437.5,488.2 1437.7,498.2 1437.8,459.8 1438.0,503.2 1438.2,475.3 1438.4,459.4 1438.6,485.1 1438.8,473.3 1439.0,495.0 1439.2,477.6 1439.4,499.8 1439.6,478.7 1439.8,502.1 1440.0,487.7 1440.2,470.2 1440.4,495.9 1440.6,473.1 1440.8,468.3 1441.0,500.9 1441.2,480.8 1441.4,461.1 1441.6,477.2 1441.8,483.2 1442.0,510.9 1442.2,493.7 1442.4,464.5 1442.6,451.9 1442.8,505.9 1443.0,498.4 1443.2,492.7 1443.4,500.2 1443.6,494.5 1443.8,505.5 1444.0,496.8 1444.2,478.4 1444.4,486.6 1444.6,495.9 1444.8,497.0 1445.0,471.9 1445.2,485.9 1445.4,501.0 1445.6,468.1 1445.7,475.0 1445.9,472.7 1446.1,507.9 1446.3,449.1 1446.5,475.5 1446.7,494.3 1446.9,457.6 1447.1,488.5 1447.3,484.7 1447.5,473.3 1447.7,457.1 1447.9,465.6 1448.1,412.7 1448.3,457.9 1448.5,481.6 1448.7,449.4 1448.9,451.6 1449.1,498.0 1449.3,476.1 1449.5,486.2 1449.7,478.9 1449.9,453.6 1450.1,449.8 1450.3,482.7 1450.5,507.3 1450.7,500.0 1450.9,473.6 1451.1,490.4 1451.3,456.2 1451.5,481.1 1451.7,455.1 1451.9,475.0 1452.1,498.0 1452.3,486.6 1452.5,494.7 1452.7,495.9 1452.9,484.9 1453.1,466.3 1453.3,501.1 1453.5,507.8 1453.6,449.4 1453.8,452.1 1454.0,470.9 1454.2,491.6 1454.4,479.5 1454.6,509.8 1454.8,481.0 1455.0,491.4 1455.2,466.8 1455.4,478.9 1455.6,479.0 1455.8,511.5 1456.0,507.3 1456.2,494.5 1456.4,464.1 1456.6,468.2 1456.8,505.7 1457.0,493.1 1457.2,483.2 1457.4,501.7 1457.6,467.1 1457.8,498.6 1458.0,488.8 1458.2,487.7 1458.4,463.7 1458.6,476.7 1458.8,487.3 1459.0,468.9 1459.2,499.8 1459.4,453.9 1459.6,485.8 1459.8,489.3 1460.0,449.9 1460.2,496.9 1460.4,476.8 1460.6,503.9 1460.8,507.7 1461.0,490.4 1461.2,510.7 1461.4,479.0 1461.5,471.6 1461.7,505.1 1461.9,484.9 1462.1,493.8 1462.3,480.0 1462.5,501.2 1462.7,498.8 1462.9,461.8 1463.1,450.0 1463.3,449.9 1463.5,450.3 1463.7,452.0 1463.9,418.8 1464.1,476.6 1464.3,460.4 1464.5,506.4 1464.7,508.0 1464.9,504.2 1465.1,483.4 1465.3,463.1 1465.5,456.8 1465.7,507.6 1465.9,483.7 1466.1,491.9 1466.3,508.3 1466.5,503.0 1466.7,450.1 1466.9,466.5 1467.1,506.0 1467.3,507.1 1467.5,480.0 1467.7,430.4 1467.9,462.4 1468.1,460.3 1468.3,464.6 1468.5,507.7 1468.7,501.9 1468.9,480.6 1469.1,501.4 1469.2,456.7 1469.4,480.6 1469.6,452.8 1469.8,509.6 1470.0,470.8 1470.2,456.8 1470.4,510.3 1470.6,510.4 1470.8,481.2 1471.0,469.6 1471.2,475.0 1471.4,471.8 1471.6,498.7 1471.8,468.4 1472.0,510.4 1472.2,458.9 1472.4,462.8 1472.6,475.8 1472.8,500.4 1473.0,476.9 1473.2,503.6 1473.4,488.3 1473.6,452.7 1473.8,472.7 1474.0,489.8 1474.2,498.3 1474.4,485.0 1474.6,509.4 1474.8,506.5 1475.0,494.7 1475.2,481.3 1475.4,481.6 1475.6,504.0 1475.8,511.5 1476.0,502.8 1476.2,452.5 1476.4,509.9 1476.6,473.8 1476.8,487.4 1477.0,481.1 1477.1,483.8 1477.3,481.6 1477.5,497.0 1477.7,450.8 1477.9,453.2 1478.1,489.5 1478.3,451.7 1478.5,476.6 1478.7,469.2 1478.9,452.0 1479.1,458.7 1479.3,485.6 1479.5,482.1 1479.7,483.5 1479.9,470.7 1480.1,455.8 1480.3,508.1 1480.5,509.2 1480.7,468.3 1480.9,508.5 1481.1,449.7 1481.3,463.9 1481.5,489.0 1481.7,489.8 1481.9,493.7 1482.1,473.0 1482.3,455.0 1482.5,465.7 1482.7,456.2 1482.9,494.3 1483.1,478.5 1483.3,448.7 1483.5,464.4 1483.7,473.0 1483.9,465.7 1484.1,449.7 1484.3,502.5 1484.5,464.1 1484.7,503.3 1484.9,492.0 1485.0,455.2 1485.2,478.0 1485.4,500.6 1485.6,500.0 1485.8,481.3 1486.0,488.1 1486.2,487.9 1486.4,454.1 1486.6,494.4 1486.8,490.2 1487.0,501.5 1487.2,489.2 1487.4,502.6 1487.6,478.9 1487.8,467.1 1488.0,501.3 1488.2,500.4 1488.4,499.5 1488.6,507.3 1488.8,478.3 1489.0,499.9 1489.2,507.4 1489.4,488.2 1489.6,461.2 1489.8,497.3 1490.0,506.1 1490.2,510.5 1490.4,467.8 1490.6,450.5 1490.8,494.6 1491.0,469.4 1491.2,507.1 1491.4,486.7 1491.6,462.8 1491.8,496.2 1492.0,484.2 1492.2,449.2 1492.4,470.7 1492.6,478.2 1492.8,510.6 1492.9,504.7 1493.1,495.0 1493.3,478.9 1493.5,488.7 1493.7,473.2 1493.9,446.7 1494.1,490.0 1494.3,485.6 1494.5,477.0 1494.7,494.9 1494.9,480.0 1495.1,496.4 1495.3,509.1 1495.5,481.8 1495.7,467.2 1495.9,502.4 1496.1,454.4 1496.3,464.0 1496.5,501.7 1496.7,485.2 1496.9,468.8 1497.1,482.8 1497.3,460.7 1497.5,447.2 1497.7,478.0 1497.9,475.2 1498.1,504.3 1498.3,466.5 1498.5,470.1 1498.7,501.6 1498.9,474.0 1499.1,501.2 1499.3,465.7 1499.5,492.5 1499.7,509.1 1499.9,462.3 1500.1,478.6 1500.3,504.2 1500.5,444.7 1500.6,452.9 1500.8,480.4 1501.0,464.6 1501.2,456.2 1501.4,471.7 1501.6,456.1 1501.8,503.7 1502.0,446.5 1502.2,461.7 1502.4,474.0 1502.6,438.3 1502.8,480.8 1503.0,474.0 1503.2,474.5 1503.4,444.5 1503.6,503.8 1503.8,459.8 1504.0,454.9 1504.2,509.2 1504.4,487.2 1504.6,467.2 1504.8,508.8 1505.0,472.4 1505.2,453.6 1505.4,456.8 1505.6,491.1 1505.8,502.9 1506.0,507.9 1506.2,496.6 1506.4,484.7 1506.6,501.8 1506.8,490.9 1507.0,479.3 1507.2,473.1 1507.4,494.7 1507.6,492.5 1507.8,447.2 1508.0,469.1 1508.2,495.2 1508.4,456.5 1508.5,449.8 1508.7,475.6 1508.9,470.8 1509.1,448.1 1509.3,446.2 1509.5,490.7 1509.7,499.9 1509.9,498.6 1510.1,481.1 1510.3,510.0 1510.5,461.7 1510.7,466.9 1510.9,464.8 1511.1,458.2 1511.3,451.6 1511.5,454.2 1511.7,449.8 1511.9,483.1 1512.1,468.9 1512.3,498.2 1512.5,496.9 1512.7,476.2 1512.9,478.3 1513.1,506.7 1513.3,442.9 1513.5,451.5 1513.7,449.3 1513.9,446.8 1514.1,483.4 1514.3,467.6 1514.5,509.0 1514.7,471.8 1514.9,457.7 1515.1,472.2 1515.3,510.7 1515.5,484.4 1515.7,494.9 1515.9,491.0 1516.1,466.4 1516.3,483.5 1516.4,456.2 1516.6,507.4 1516.8,508.4 1517.0,462.2 1517.2,447.9 1517.4,453.5 1517.6,504.7 1517.8,479.4 1518.0,489.4 1518.2,481.3 1518.4,448.4 1518.6,494.3 1518.8,448.5 1519.0,453.0 1519.2,497.6 1519.4,455.0 1519.6,442.0 1519.8,452.5 1520.0,506.0 1520.2,500.7 1520.4,481.0 1520.6,492.4 1520.8,446.1 1521.0,508.4 1521.2,456.3 1521.4,449.5 1521.6,463.4 1521.8,506.4 1522.0,442.2 1522.2,499.3 1522.4,500.4 1522.6,502.2 1522.8,447.3 1523.0,492.9 1523.2,443.0 1523.4,504.8 1523.6,465.5 1523.8,499.0 1524.0,502.0 1524.2,481.1 1524.3,483.0 1524.5,456.0 1524.7,481.0 1524.9,504.6 1525.1,460.7 1525.3,464.5 1525.5,468.4 1525.7,421.1 1525.9,490.9 1526.1,418.0 1526.3,450.5 1526.5,450.4 1526.7,447.6 1526.9,459.8 1527.1,488.4 1527.3,470.4 1527.5,457.9 1527.7,507.0 1527.9,507.5 1528.1,478.8 1528.3,484.3 1528.5,440.7 1528.7,452.4 1528.9,493.7 1529.1,450.0 1529.3,507.6 1529.5,503.7 1529.7,476.6 1529.9,454.1 1530.1,490.8 1530.3,489.0 1530.5,483.8 1530.7,494.0 1530.9,508.8 1531.1,462.6 1531.3,468.5 1531.5,443.8 1531.7,503.8 1531.9,504.1 1532.0,438.2 1532.2,451.7 1532.4,483.9 1532.6,500.8 1532.8,501.6 1533.0,448.7 1533.2,504.1 1533.4,461.9 1533.6,454.6 1533.8,497.6 1534.0,500.3 1534.2,463.6 1534.4,498.5 1534.6,477.8 1534.8,484.2 1535.0,476.6 1535.2,442.3 1535.4,510.8 1535.6,476.7 1535.8,486.4 1536.0,458.6 1536.2,459.5 1536.4,450.9 1536.6,465.7 1536.8,483.0 1537.0,440.4 1537.2,450.8 1537.4,479.6 1537.6,475.9 1537.8,485.3 1538.0,454.8 1538.2,440.0 1538.4,490.9 1538.6,483.3 1538.8,483.5 1539.0,469.7 1539.2,494.4 1539.4,499.0 1539.6,444.3 1539.8,508.7 1539.9,506.5 1540.1,441.7 1540.3,491.4 1540.5,493.2 1540.7,505.9 1540.9,497.5 1541.1,480.0 1541.3,436.8 1541.5,502.6 1541.7,439.3 1541.9,479.4 1542.1,498.2 1542.3,501.8 1542.5,452.9 1542.7,437.5 1542.9,497.6 1543.1,481.1 1543.3,453.5 1543.5,505.4 1543.7,470.6 1543.9,457.2 1544.1,446.0 1544.3,459.2 1544.5,490.0 1544.7,507.0 1544.9,492.3 1545.1,509.2 1545.3,471.8 1545.5,451.0 1545.7,460.8 1545.9,466.0 1546.1,475.8 1546.3,438.4 1546.5,500.5 1546.7,424.5 1546.9,506.2 1547.1,481.2 1547.3,442.2 1547.5,504.1 1547.7,498.1 1547.8,466.7 1548.0,454.4 1548.2,444.8 1548.4,476.5 1548.6,436.0 1548.8,462.6 1549.0,501.3 1549.2,453.3 1549.4,437.9 1549.6,504.0 1549.8,454.4 1550.0,443.9 1550.2,470.1 1550.4,497.5 1550.6,435.8 1550.8,481.4 1551.0,484.9 1551.2,491.5 1551.4,466.2 1551.6,485.3 1551.8,471.3 1552.0,504.6 1552.2,501.2 1552.4,450.2 1552.6,456.4 1552.8,442.5 1553.0,448.5 1553.2,425.9 1553.4,504.0 1553.6,476.0 1553.8,442.0 1554.0,467.6 1554.2,464.8 1554.4,376.3 1554.6,446.4 1554.8,464.8 1555.0,454.7 1555.2,507.2 1555.4,440.1 1555.6,449.9 1555.7,433.9 1555.9,443.7 1556.1,436.8 1556.3,438.5 1556.5,499.1 1556.7,498.3 1556.9,487.7 1557.1,471.3 1557.3,507.1 1557.5,438.3 1557.7,447.1 1557.9,451.5 1558.1,473.4 1558.3,499.6 1558.5,480.3 1558.7,508.8 1558.9,487.2 1559.1,452.2 1559.3,504.0 1559.5,453.8 1559.7,505.2 1559.9,462.7 1560.1,499.5 1560.3,461.6 1560.5,434.5 1560.7,492.3 1560.9,469.7 1561.1,455.4 1561.3,493.4 1561.5,480.5 1561.7,480.2 1561.9,447.3 1562.1,473.6 1562.3,499.2 1562.5,506.7 1562.7,471.1 1562.9,506.1 1563.1,487.4 1563.3,495.3 1563.4,478.3 1563.6,509.4 1563.8,394.4 1564.0,508.7 1564.2,444.2 1564.4,409.8 1564.6,453.5 1564.8,501.7 1565.0,503.0 1565.2,443.7 1565.4,509.7 1565.6,498.0 1565.8,432.7 1566.0,484.6 1566.2,475.2 1566.4,471.4 1566.6,441.6 1566.8,500.6 1567.0,480.3 1567.2,460.7 1567.4,433.6 1567.6,494.5 1567.8,482.4 1568.0,434.9 1568.2,499.1 1568.4,479.7 1568.6,488.8 1568.8,468.4 1569.0,469.6 1569.2,489.2 1569.4,456.7 1569.6,432.0 1569.8,447.1 1570.0,431.7 1570.2,445.7 1570.4,452.6 1570.6,460.2 1570.8,478.5 1571.0,334.2 1571.2,446.7 1571.3,505.5 1571.5,372.9 1571.7,470.4 1571.9,510.6 1572.1,438.7 1572.3,474.1 1572.5,494.2 1572.7,501.0 1572.9,508.7 1573.1,461.6 1573.3,446.5 1573.5,480.6 1573.7,466.3 1573.9,453.7 1574.1,506.8 1574.3,450.4 1574.5,457.8 1574.7,450.6 1574.9,479.5 1575.1,480.3 1575.3,440.5 1575.5,446.1 1575.7,506.7 1575.9,458.5 1576.1,372.9 1576.3,433.6 1576.5,508.1 1576.7,485.6 1576.9,454.5 1577.1,493.3 1577.3,508.6 1577.5,439.1 1577.7,503.0 1577.9,473.0 1578.1,388.5 1578.3,489.9 1578.5,466.6 1578.7,510.6 1578.9,498.6 1579.1,504.0 1579.2,504.9 1579.4,473.3 1579.6,460.0 1579.8,468.8 1580.0,438.5 1580.2,473.5 1580.4,385.0 1580.6,472.1 1580.8,506.6 1581.0,504.2 1581.2,450.8 1581.4,434.7 1581.6,452.9 1581.8,433.8 1582.0,470.1 1582.2,447.7 1582.4,479.4 1582.6,440.9 1582.8,433.4 1583.0,453.9 1583.2,510.8 1583.4,499.8 1583.6,452.5 1583.8,455.3 1584.0,443.9 1584.2,439.0 1584.4,466.6 1584.6,489.6 1584.8,510.1 1585.0,507.1 1585.2,477.0 1585.4,488.8 1585.6,442.2 1585.8,509.3 1586.0,433.5 1586.2,506.9 1586.4,479.7 1586.6,452.0 1586.8,492.7 1586.9,439.5 1587.1,498.9 1587.3,483.1 1587.5,470.3 1587.7,459.1 1587.9,487.7 1588.1,509.1 1588.3,437.4 1588.5,465.1 1588.7,438.1 1588.9,450.3 1589.1,484.3 1589.3,496.7 1589.5,463.4 1589.7,442.9 1589.9,481.6 1590.1,428.3 1590.3,488.7 1590.5,435.8 1590.7,340.2 1590.9,509.2 1591.1,439.1 1591.3,426.6 1591.5,409.7 1591.7,475.7 1591.9,502.1 1592.1,470.7 1592.3,454.1 1592.5,449.5 1592.7,454.3 1592.9,445.8 1593.1,491.3 1593.3,427.3 1593.5,482.2 1593.7,471.6 1593.9,503.2 1594.1,428.0 1594.3,471.9 1594.5,475.4 1594.7,499.5 1594.8,433.1 1595.0,448.8 1595.2,486.6 1595.4,470.6 1595.6,462.9 1595.8,424.4 1596.0,430.9 1596.2,487.8 1596.4,438.7 1596.6,449.3 1596.8,463.4 1597.0,441.5 1597.2,463.0 1597.4,503.5 1597.6,359.5 1597.8,501.9 1598.0,456.9 1598.2,496.6 1598.4,372.9 1598.6,448.3 1598.8,478.3 1599.0,497.1 1599.2,497.6 1599.4,464.8 1599.6,428.5 1599.8,480.8 1600.0,445.4 1600.2,457.2 1600.4,482.3 1600.6,457.0 1600.8,434.9 1601.0,452.5 1601.2,491.4 1601.4,431.3 1601.6,458.1 1601.8,507.0 1602.0,458.9 1602.2,435.9 1602.4,445.6 1602.6,426.3 1602.7,507.3 1602.9,489.2 1603.1,461.9 1603.3,462.4 1603.5,441.9 1603.7,432.7 1603.9,379.2 1604.1,500.6 1604.3,475.5 1604.5,496.8 1604.7,484.7 1604.9,427.6 1605.1,506.0 1605.3,408.4 1605.5,420.5 1605.7,491.3 1605.9,481.9 1606.1,453.1 1606.3,491.0 1606.5,438.7 1606.7,501.5 1606.9,506.7 1607.1,479.3 1607.3,498.2 1607.5,432.6 1607.7,488.5 1607.9,461.4 1608.1,462.3 1608.3,490.3 1608.5,495.9 1608.7,456.0 1608.9,447.4 1609.1,372.9 1609.3,483.1 1609.5,479.4 1609.7,436.4 1609.9,432.6 1610.1,431.5 1610.3,502.0 1610.5,459.9 1610.6,451.6 1610.8,481.7 1611.0,479.5 1611.2,501.3 1611.4,450.3 1611.6,458.6 1611.8,445.0 1612.0,466.6 1612.2,483.3 1612.4,372.9 1612.6,463.3 1612.8,470.4 1613.0,448.6 1613.2,507.6" fill="none" stroke="#000" stroke-width="0.5" stroke-opacity="0.5" stroke-linejoin="round" clip-path="url(#c4)"/>
<polyline points="908.0,451.8 915.1,452.8 922.1,453.9 929.2,455.3 936.2,457.0 943.3,458.6 950.3,460.3 957.4,461.9 964.4,463.5 971.5,465.1 978.5,466.7 985.6,468.3 992.6,469.9 999.7,471.5 1006.7,473.1 1013.8,474.6 1020.8,476.2 1027.9,477.8 1035.0,479.2 1042.0,480.5 1049.1,481.6 1056.1,482.7 1063.2,483.6 1070.2,484.3 1077.3,484.9 1084.3,485.3 1091.4,485.7 1098.4,486.1 1105.5,486.3 1112.5,486.5 1119.6,486.6 1126.6,486.7 1133.7,486.8 1140.7,486.9 1147.8,487.0 1154.9,487.1 1161.9,487.2 1169.0,487.4 1176.0,487.4 1183.1,487.5 1190.1,487.5 1197.2,487.5 1204.2,487.5 1211.3,487.5 1218.3,487.4 1225.4,487.4 1232.4,487.3 1239.5,487.3 1246.5,487.2 1253.6,487.1 1260.7,487.1 1267.7,487.0 1274.8,487.0 1281.8,486.9 1288.9,486.8 1295.9,486.8 1303.0,486.7 1310.0,486.7 1317.1,486.6 1324.1,486.5 1331.2,486.5 1338.2,486.4 1345.3,486.4 1352.3,486.3 1359.4,486.3 1366.4,486.2 1373.5,486.2 1380.6,486.1 1387.6,486.1 1394.7,486.0 1401.7,486.0 1408.8,485.9 1415.8,485.9 1422.9,485.8 1429.9,485.7 1437.0,485.7 1444.0,485.6 1451.1,485.6 1458.1,485.5 1465.2,485.3 1472.2,485.1 1479.3,484.7 1486.3,484.4 1493.4,483.9 1500.5,483.4 1507.5,482.8 1514.6,482.2 1521.6,481.5 1528.7,480.7 1535.7,479.9 1542.8,479.1 1549.8,478.3 1556.9,477.4 1563.9,476.4 1571.0,475.3 1578.0,474.2 1585.1,472.9 1592.1,471.7 1599.2,470.5 1606.2,469.5 1613.3,468.7" fill="none" stroke="#f00" stroke-width="2.4" stroke-dasharray="10.5 2"/>
<rect x="908" y="334.2" width="705.30" height="178.80" fill="none" stroke="#000" stroke-width="1.7"/>
<text x="0.50" y="0.00" font-size="27.5" letter-spacing="1.0" text-anchor="middle" fill="#000" stroke="#000" stroke-width="0.25" transform="translate(907.20 540.00) scale(0.94 1)">0</text>
<text x="0.50" y="0.00" font-size="27.5" letter-spacing="1.0" text-anchor="middle" fill="#000" stroke="#000" stroke-width="0.25" transform="translate(977.73 540.00) scale(0.94 1)">50</text>
<text x="0.50" y="0.00" font-size="27.5" letter-spacing="1.0" text-anchor="middle" fill="#000" stroke="#000" stroke-width="0.25" transform="translate(1048.26 540.00) scale(0.94 1)">100</text>
<text x="0.50" y="0.00" font-size="27.5" letter-spacing="1.0" text-anchor="middle" fill="#000" stroke="#000" stroke-width="0.25" transform="translate(1118.79 540.00) scale(0.94 1)">150</text>
<text x="0.50" y="0.00" font-size="27.5" letter-spacing="1.0" text-anchor="middle" fill="#000" stroke="#000" stroke-width="0.25" transform="translate(1189.32 540.00) scale(0.94 1)">200</text>
<text x="0.50" y="0.00" font-size="27.5" letter-spacing="1.0" text-anchor="middle" fill="#000" stroke="#000" stroke-width="0.25" transform="translate(1259.85 540.00) scale(0.94 1)">250</text>
<text x="0.50" y="0.00" font-size="27.5" letter-spacing="1.0" text-anchor="middle" fill="#000" stroke="#000" stroke-width="0.25" transform="translate(1330.38 540.00) scale(0.94 1)">300</text>
<text x="0.50" y="0.00" font-size="27.5" letter-spacing="1.0" text-anchor="middle" fill="#000" stroke="#000" stroke-width="0.25" transform="translate(1400.91 540.00) scale(0.94 1)">350</text>
<text x="0.50" y="0.00" font-size="27.5" letter-spacing="1.0" text-anchor="middle" fill="#000" stroke="#000" stroke-width="0.25" transform="translate(1471.44 540.00) scale(0.94 1)">400</text>
<text x="0.50" y="0.00" font-size="27.5" letter-spacing="1.0" text-anchor="middle" fill="#000" stroke="#000" stroke-width="0.25" transform="translate(1541.97 540.00) scale(0.94 1)">450</text>
<text x="0.50" y="0.00" font-size="27.5" letter-spacing="1.0" text-anchor="middle" fill="#000" stroke="#000" stroke-width="0.25" transform="translate(1612.50 540.00) scale(0.94 1)">500</text>
<text x="1.00" y="0.00" font-size="27.5" letter-spacing="1.0" text-anchor="end" fill="#000" stroke="#000" stroke-width="0.25" transform="translate(900.50 521.50) scale(0.92 1)">0</text>
<text x="1.00" y="0.00" font-size="27.5" letter-spacing="1.0" text-anchor="end" fill="#000" stroke="#000" stroke-width="0.25" transform="translate(900.50 492.70) scale(0.92 1)">2</text>
<text x="1.00" y="0.00" font-size="27.5" letter-spacing="1.0" text-anchor="end" fill="#000" stroke="#000" stroke-width="0.25" transform="translate(900.50 463.20) scale(0.92 1)">4</text>
<text x="1.00" y="0.00" font-size="27.5" letter-spacing="1.0" text-anchor="end" fill="#000" stroke="#000" stroke-width="0.25" transform="translate(900.50 432.40) scale(0.92 1)">6</text>
<text x="1.00" y="0.00" font-size="27.5" letter-spacing="1.0" text-anchor="end" fill="#000" stroke="#000" stroke-width="0.25" transform="translate(900.50 403.10) scale(0.92 1)">8</text>
<text x="1.00" y="0.00" font-size="27.5" letter-spacing="1.0" text-anchor="end" fill="#000" stroke="#000" stroke-width="0.25" transform="translate(900.50 374.50) scale(0.92 1)">10</text>
<text x="1.00" y="0.00" font-size="27.5" letter-spacing="1.0" text-anchor="end" fill="#000" stroke="#000" stroke-width="0.25" transform="translate(900.50 342.70) scale(0.92 1)">12</text>
<text x="1269.43" y="314.00" font-size="26.4" letter-spacing="0.87" text-anchor="middle" fill="#000" stroke="#000" stroke-width="0.25">FFT of vibration signal on the track induced by train</text>
<text x="1253.60" y="579.00" font-size="26.4" letter-spacing="1.2" text-anchor="middle" fill="#000" stroke="#000" stroke-width="0.25">Frequency(Hz)</text>
<text x="857.65" y="424.00" font-size="24.6" letter-spacing="2.3" text-anchor="middle" fill="#000" stroke="#000" stroke-width="0.25" transform="rotate(-90 856.50 424.00)">Amp(m/s<tspan font-size="11" dy="-9">2</tspan><tspan dy="9">)</tspan></text>
<text x="911.00" y="323.00" font-size="20.5" letter-spacing="1" text-anchor="start" fill="#000" stroke="#000" stroke-width="0.25">×10<tspan font-size="14" dy="-8.5">4</tspan></text>
<text x="1197.30" y="386.50" font-size="16.5" letter-spacing="0.59" text-anchor="middle" fill="#f00" stroke="#f00" stroke-width="0.45">Energy distribution close to</text>
<text x="1197.22" y="404.80" font-size="16.5" letter-spacing="0.45" text-anchor="middle" fill="#f00" stroke="#f00" stroke-width="0.45">flat at all frequency</text>
<path d="M1191.5 416V462" stroke="#f00" stroke-width="2" stroke-dasharray="3 2.5" fill="none"/>
<path d="M1191.5 485L1180 460L1191.5 465L1203 460Z" fill="#f00"/>
<defs><linearGradient id="jet" x1="0" y1="1" x2="0" y2="0">
<stop offset="0.0000" stop-color="#000080"/>
<stop offset="0.0312" stop-color="#00009f"/>
<stop offset="0.0625" stop-color="#0000bf"/>
<stop offset="0.0938" stop-color="#0000df"/>
<stop offset="0.1250" stop-color="#0000ff"/>
<stop offset="0.1562" stop-color="#0020ff"/>
<stop offset="0.1875" stop-color="#0040ff"/>
<stop offset="0.2188" stop-color="#0060ff"/>
<stop offset="0.2500" stop-color="#0080ff"/>
<stop offset="0.2812" stop-color="#009fff"/>
<stop offset="0.3125" stop-color="#00bfff"/>
<stop offset="0.3438" stop-color="#00dfff"/>
<stop offset="0.3750" stop-color="#00ffff"/>
<stop offset="0.4062" stop-color="#20ffdf"/>
<stop offset="0.4375" stop-color="#40ffbf"/>
<stop offset="0.4688" stop-color="#60ff9f"/>
<stop offset="0.5000" stop-color="#80ff80"/>
<stop offset="0.5312" stop-color="#9fff60"/>
<stop offset="0.5625" stop-color="#bfff40"/>
<stop offset="0.5938" stop-color="#dfff20"/>
<stop offset="0.6250" stop-color="#ffff00"/>
<stop offset="0.6562" stop-color="#ffdf00"/>
<stop offset="0.6875" stop-color="#ffbf00"/>
<stop offset="0.7188" stop-color="#ff9f00"/>
<stop offset="0.7500" stop-color="#ff8000"/>
<stop offset="0.7812" stop-color="#ff6000"/>
<stop offset="0.8125" stop-color="#ff4000"/>
<stop offset="0.8438" stop-color="#ff2000"/>
<stop offset="0.8750" stop-color="#ff0000"/>
<stop offset="0.9062" stop-color="#df0000"/>
<stop offset="0.9375" stop-color="#bf0000"/>
<stop offset="0.9688" stop-color="#9f0000"/>
<stop offset="1.0000" stop-color="#800000"/>
</linearGradient></defs>
<rect x="89.3" y="627.3" width="648.40" height="194.60" fill="#000096"/>
<defs><filter id="streak" x="0" y="0" width="100%" height="100%" color-interpolation-filters="sRGB"><feTurbulence type="fractalNoise" baseFrequency="0.2 0.04" numOctaves="2" seed="7" result="n"/><feColorMatrix in="n" type="matrix" values="0 0 0 0 0  0 0 0 0 0.01  0 0 0 0 0.82  2.2 0 0 0 -0.85"/></filter><filter id="b1" color-interpolation-filters="sRGB" x="-20%" y="-20%" width="140%" height="140%"><feGaussianBlur stdDeviation="1.1"/></filter><filter id="b2" color-interpolation-filters="sRGB" x="-20%" y="-20%" width="140%" height="140%"><feGaussianBlur stdDeviation="2.2"/></filter><filter id="b05" color-interpolation-filters="sRGB" x="-20%" y="-20%" width="140%" height="140%"><feGaussianBlur stdDeviation="0.6"/></filter><filter id="bv" color-interpolation-filters="sRGB" x="-50%" y="-5%" width="200%" height="110%"><feGaussianBlur stdDeviation="0.8 3"/></filter></defs>
<clipPath id="c5"><rect x="89.3" y="627.3" width="648.40" height="194.60"/></clipPath>
<g clip-path="url(#c5)">
<rect x="89.3" y="627.3" width="648.40" height="194.60" filter="url(#streak)"/>
<g filter="url(#bv)">
<rect x="353.4" y="627" width="6" height="63" fill="#1e78ff" opacity="0.9"/>
<rect x="352.9" y="660" width="7" height="30" fill="#30d0ff" opacity="0.95"/>
<rect x="354.6" y="668" width="3.5" height="22" fill="#c0ff60" opacity="0.9"/>
<rect x="352.1" y="722" width="8.5" height="28" fill="#30e0ff" opacity="0.95"/>
<rect x="352.4" y="745" width="8" height="57" fill="#30d8ff" opacity="0.95"/>
<rect x="354.1" y="722" width="4.6" height="28" fill="#ff2000" opacity="1"/>
<rect x="354.3" y="746" width="4.2" height="18" fill="#ffb000" opacity="1"/>
<rect x="354.3" y="760" width="4.2" height="16" fill="#ff6000" opacity="1"/>
<rect x="354.5" y="772" width="3.8" height="28" fill="#ffe000" opacity="1"/>
<rect x="353.6" y="795" width="5.5" height="15" fill="#40ffc0" opacity="0.95"/>
<rect x="353.4" y="803" width="6" height="19" fill="#2080ff" opacity="0.9"/>
<rect x="409.9" y="636" width="6" height="54" fill="#2090ff" opacity="0.9"/>
<rect x="410.1" y="640" width="5.5" height="16" fill="#30d0ff" opacity="0.9"/>
<rect x="410.1" y="664" width="5.5" height="26" fill="#38e0ff" opacity="0.95"/>
<rect x="409.9" y="718" width="6" height="26" fill="#40f0ff" opacity="1"/>
<rect x="409.9" y="738" width="6" height="84" fill="#2088ff" opacity="0.9"/>
<rect x="410.1" y="758" width="5.5" height="40" fill="#30c8ff" opacity="0.9"/>
<rect x="493.5" y="627" width="3" height="23" fill="#1848ff" opacity="0.6"/>
<rect x="508.5" y="627" width="3" height="28" fill="#1848ff" opacity="0.6"/>
<rect x="543.5" y="627" width="3" height="18" fill="#1848ff" opacity="0.6"/>
<rect x="468.0" y="627" width="4" height="63" fill="#1040ff" opacity="0.5"/>
</g>
<g filter="url(#b2)">
<ellipse cx="476" cy="703.5" rx="25" ry="14" fill="#1e6cff" opacity="0.95"/>
<ellipse cx="472" cy="703.5" rx="16" ry="11" fill="#30c8ff" opacity="1"/>
<ellipse cx="467" cy="703.5" rx="9" ry="8" fill="#70ffd0" opacity="0.9"/>
</g>
<g filter="url(#b1)">
<path d="M352.9 685.5 L357.5 684.6 L359 686.3 L372 688.6 L390 691.6 L408.2 694.8 L409.5 689 L411 687.3 L413.5 687.4 L425 689.4 L437 691.6 L442 693.6 L445 697 L446.8 703.5 L445 710 L442 713.4 L437 715.2 L425 717.6 L413.5 721.2 L411 722.6 L409.5 722 L408.2 717 L390 719.4 L372 722 L361 724 L359.5 726 L358.5 733 L355.5 733.5 L353.6 728 Z" fill="#1a6cff" stroke="#1a6cff" stroke-width="11" stroke-linejoin="round" opacity="0.9"/>
<path d="M453.4 697 C456.5 697 457.6 700.5 457.6 703.5 C457.6 706.5 456.5 710 453.4 710 C450.6 710 449.6 706.5 449.6 703.5 C449.6 700.5 450.6 697 453.4 697 Z" fill="#1a6cff" stroke="#1a6cff" stroke-width="13.5" stroke-linejoin="round" opacity="0.9"/>
<path d="M352.9 685.5 L357.5 684.6 L359 686.3 L372 688.6 L390 691.6 L408.2 694.8 L409.5 689 L411 687.3 L413.5 687.4 L425 689.4 L437 691.6 L442 693.6 L445 697 L446.8 703.5 L445 710 L442 713.4 L437 715.2 L425 717.6 L413.5 721.2 L411 722.6 L409.5 722 L408.2 717 L390 719.4 L372 722 L361 724 L359.5 726 L358.5 733 L355.5 733.5 L353.6 728 Z" fill="#28d8ff" stroke="#28d8ff" stroke-width="8.2" stroke-linejoin="round" opacity="1"/>
<path d="M453.4 697 C456.5 697 457.6 700.5 457.6 703.5 C457.6 706.5 456.5 710 453.4 710 C450.6 710 449.6 706.5 449.6 703.5 C449.6 700.5 450.6 697 453.4 697 Z" fill="#28d8ff" stroke="#28d8ff" stroke-width="10.7" stroke-linejoin="round" opacity="1"/>
<path d="M352.9 685.5 L357.5 684.6 L359 686.3 L372 688.6 L390 691.6 L408.2 694.8 L409.5 689 L411 687.3 L413.5 687.4 L425 689.4 L437 691.6 L442 693.6 L445 697 L446.8 703.5 L445 710 L442 713.4 L437 715.2 L425 717.6 L413.5 721.2 L411 722.6 L409.5 722 L408.2 717 L390 719.4 L372 722 L361 724 L359.5 726 L358.5 733 L355.5 733.5 L353.6 728 Z" fill="#b0ff50" stroke="#b0ff50" stroke-width="6.2" stroke-linejoin="round" opacity="1"/>
<path d="M453.4 697 C456.5 697 457.6 700.5 457.6 703.5 C457.6 706.5 456.5 710 453.4 710 C450.6 710 449.6 706.5 449.6 703.5 C449.6 700.5 450.6 697 453.4 697 Z" fill="#b0ff50" stroke="#b0ff50" stroke-width="8.7" stroke-linejoin="round" opacity="1"/>
<path d="M352.9 685.5 L357.5 684.6 L359 686.3 L372 688.6 L390 691.6 L408.2 694.8 L409.5 689 L411 687.3 L413.5 687.4 L425 689.4 L437 691.6 L442 693.6 L445 697 L446.8 703.5 L445 710 L442 713.4 L437 715.2 L425 717.6 L413.5 721.2 L411 722.6 L409.5 722 L408.2 717 L390 719.4 L372 722 L361 724 L359.5 726 L358.5 733 L355.5 733.5 L353.6 728 Z" fill="#ffd800" stroke="#ffd800" stroke-width="4.6" stroke-linejoin="round" opacity="1"/>
<path d="M453.4 697 C456.5 697 457.6 700.5 457.6 703.5 C457.6 706.5 456.5 710 453.4 710 C450.6 710 449.6 706.5 449.6 703.5 C449.6 700.5 450.6 697 453.4 697 Z" fill="#ffd800" stroke="#ffd800" stroke-width="7.1" stroke-linejoin="round" opacity="1"/>
<path d="M352.9 685.5 L357.5 684.6 L359 686.3 L372 688.6 L390 691.6 L408.2 694.8 L409.5 689 L411 687.3 L413.5 687.4 L425 689.4 L437 691.6 L442 693.6 L445 697 L446.8 703.5 L445 710 L442 713.4 L437 715.2 L425 717.6 L413.5 721.2 L411 722.6 L409.5 722 L408.2 717 L390 719.4 L372 722 L361 724 L359.5 726 L358.5 733 L355.5 733.5 L353.6 728 Z" fill="#ff5a00" stroke="#ff5a00" stroke-width="3.0" stroke-linejoin="round" opacity="1"/>
<path d="M453.4 697 C456.5 697 457.6 700.5 457.6 703.5 C457.6 706.5 456.5 710 453.4 710 C450.6 710 449.6 706.5 449.6 703.5 C449.6 700.5 450.6 697 453.4 697 Z" fill="#ff5a00" stroke="#ff5a00" stroke-width="5.5" stroke-linejoin="round" opacity="1"/>
<path d="M352.9 685.5 L357.5 684.6 L359 686.3 L372 688.6 L390 691.6 L408.2 694.8 L409.5 689 L411 687.3 L413.5 687.4 L425 689.4 L437 691.6 L442 693.6 L445 697 L446.8 703.5 L445 710 L442 713.4 L437 715.2 L425 717.6 L413.5 721.2 L411 722.6 L409.5 722 L408.2 717 L390 719.4 L372 722 L361 724 L359.5 726 L358.5 733 L355.5 733.5 L353.6 728 Z" fill="#e80000" stroke="#e80000" stroke-width="1.6" stroke-linejoin="round" opacity="1"/>
<path d="M453.4 697 C456.5 697 457.6 700.5 457.6 703.5 C457.6 706.5 456.5 710 453.4 710 C450.6 710 449.6 706.5 449.6 703.5 C449.6 700.5 450.6 697 453.4 697 Z" fill="#e80000" stroke="#e80000" stroke-width="4.1" stroke-linejoin="round" opacity="1"/>
</g>
<g filter="url(#b05)">
<path d="M352.9 685.5 L357.5 684.6 L359 686.3 L372 688.6 L390 691.6 L408.2 694.8 L409.5 689 L411 687.3 L413.5 687.4 L425 689.4 L437 691.6 L442 693.6 L445 697 L446.8 703.5 L445 710 L442 713.4 L437 715.2 L425 717.6 L413.5 721.2 L411 722.6 L409.5 722 L408.2 717 L390 719.4 L372 722 L361 724 L359.5 726 L358.5 733 L355.5 733.5 L353.6 728 Z" fill="#820000"/>
<path d="M453.4 697 C456.5 697 457.6 700.5 457.6 703.5 C457.6 706.5 456.5 710 453.4 710 C450.6 710 449.6 706.5 449.6 703.5 C449.6 700.5 450.6 697 453.4 697 Z" fill="#a00000"/>
</g>
</g>
<polyline points="358.8,676.3 365.6,677.0 372.3,677.8 378.8,678.5 385.2,679.2 391.3,680.0 397.3,680.7 403.1,681.4 408.7,682.1 414.2,682.9 419.5,683.6 424.6,684.3 429.5,685.1 434.3,685.8 438.9,686.5 443.3,687.2 447.6,688.0 451.6,688.7 455.5,689.4 459.3,690.2 462.8,690.9 466.2,691.6 469.4,692.4 472.4,693.1 475.3,693.8 478.0,694.5 480.5,695.3 482.8,696.0 485.0,696.7 487.0,697.5 488.8,698.2 490.5,698.9 492.0,699.7 493.3,700.4 494.4,701.1 495.3,701.9 496.1,702.6 496.7,703.3 497.2,704.0 497.4,704.8 497.5,705.5 497.4,706.2 497.2,707.0 496.7,707.7 496.1,708.4 495.3,709.1 494.4,709.9 493.3,710.6 492.0,711.3 490.5,712.1 488.8,712.8 487.0,713.5 485.0,714.3 482.8,715.0 480.5,715.7 478.0,716.5 475.3,717.2 472.4,717.9 469.4,718.6 466.2,719.4 462.8,720.1 459.3,720.8 455.5,721.6 451.6,722.3 447.6,723.0 443.3,723.8 438.9,724.5 434.3,725.2 429.5,725.9 424.6,726.7 419.5,727.4 414.2,728.1 408.7,728.9 403.1,729.6 397.3,730.3 391.3,731.0 385.2,731.8 378.8,732.5 372.3,733.2 365.6,734.0 358.8,734.7" fill="none" stroke="#fff" stroke-width="1.4" stroke-dasharray="8.5 4.5"/>
<path d="M495.5 740L549.3 765.8" stroke="#fff" stroke-width="1.6" stroke-dasharray="3 2.4" fill="none"/>
<path d="M472.8 729.3L499.9 730.5Q493.5 738.5 490.5 749.3Z" fill="#fff"/>
<path d="M89.30 821.9v7.5M170.30 821.9v7.5M251.30 821.9v7.5M332.30 821.9v7.5M413.30 821.9v7.5M494.30 821.9v7.5M575.30 821.9v7.5M656.30 821.9v7.5M737.30 821.9v7.5M89.3 821.90h-7.5M89.3 782.98h-7.5M89.3 744.06h-7.5M89.3 705.14h-7.5M89.3 666.22h-7.5M89.3 627.30h-7.5" stroke="#000" stroke-width="1.7" fill="none"/>
<rect x="89.3" y="627.3" width="648.40" height="194.60" fill="none" stroke="#000" stroke-width="1.7"/>
<rect x="746" y="627.3" width="20.60" height="195.90" fill="url(#jet)" stroke="#000" stroke-width="1.8"/>
<text x="773.00" y="826.10" font-size="19.5" letter-spacing="1" text-anchor="start" fill="#000" stroke="#000" stroke-width="0.25">0</text>
<text x="773.00" y="791.00" font-size="19.5" letter-spacing="1" text-anchor="start" fill="#000" stroke="#000" stroke-width="0.25">0.01</text>
<text x="773.00" y="751.80" font-size="19.5" letter-spacing="1" text-anchor="start" fill="#000" stroke="#000" stroke-width="0.25">0.02</text>
<text x="773.00" y="713.40" font-size="19.5" letter-spacing="1" text-anchor="start" fill="#000" stroke="#000" stroke-width="0.25">0.03</text>
<text x="773.00" y="675.50" font-size="19.5" letter-spacing="1" text-anchor="start" fill="#000" stroke="#000" stroke-width="0.25">0.04</text>
<text x="773.00" y="637.00" font-size="19.5" letter-spacing="1" text-anchor="start" fill="#000" stroke="#000" stroke-width="0.25">0.05</text>
<path d="M766.6 782.98h-6M766.6 744.06h-6M766.6 705.14h-6M766.6 666.22h-6" stroke="#000" stroke-width="1" fill="none"/>
<text x="89.80" y="853.00" font-size="27.5" letter-spacing="1.0" text-anchor="middle" fill="#000" stroke="#000" stroke-width="0.25">0</text>
<text x="170.80" y="853.00" font-size="27.5" letter-spacing="1.0" text-anchor="middle" fill="#000" stroke="#000" stroke-width="0.25">0.5</text>
<text x="251.80" y="853.00" font-size="27.5" letter-spacing="1.0" text-anchor="middle" fill="#000" stroke="#000" stroke-width="0.25">1</text>
<text x="332.80" y="853.00" font-size="27.5" letter-spacing="1.0" text-anchor="middle" fill="#000" stroke="#000" stroke-width="0.25">1.5</text>
<text x="413.80" y="853.00" font-size="27.5" letter-spacing="1.0" text-anchor="middle" fill="#000" stroke="#000" stroke-width="0.25">2</text>
<text x="494.80" y="853.00" font-size="27.5" letter-spacing="1.0" text-anchor="middle" fill="#000" stroke="#000" stroke-width="0.25">2.5</text>
<text x="575.80" y="853.00" font-size="27.5" letter-spacing="1.0" text-anchor="middle" fill="#000" stroke="#000" stroke-width="0.25">3</text>
<text x="656.80" y="853.00" font-size="27.5" letter-spacing="1.0" text-anchor="middle" fill="#000" stroke="#000" stroke-width="0.25">3.5</text>
<text x="737.80" y="853.00" font-size="27.5" letter-spacing="1.0" text-anchor="middle" fill="#000" stroke="#000" stroke-width="0.25">4</text>
<text x="77.60" y="832.40" font-size="27.5" letter-spacing="0.5" text-anchor="end" fill="#000" stroke="#000" stroke-width="0.25">0</text>
<text x="77.60" y="793.48" font-size="27.5" letter-spacing="0.5" text-anchor="end" fill="#000" stroke="#000" stroke-width="0.25">100</text>
<text x="77.60" y="754.56" font-size="27.5" letter-spacing="0.5" text-anchor="end" fill="#000" stroke="#000" stroke-width="0.25">200</text>
<text x="77.60" y="715.64" font-size="27.5" letter-spacing="0.5" text-anchor="end" fill="#000" stroke="#000" stroke-width="0.25">300</text>
<text x="77.60" y="676.72" font-size="27.5" letter-spacing="0.5" text-anchor="end" fill="#000" stroke="#000" stroke-width="0.25">400</text>
<text x="77.60" y="637.80" font-size="27.5" letter-spacing="0.5" text-anchor="end" fill="#000" stroke="#000" stroke-width="0.25">500</text>
<text x="421.44" y="611.20" font-size="26.4" letter-spacing="0.87" text-anchor="middle" fill="#000" stroke="#000" stroke-width="0.25">STFT of vibration signal on the track induced by rockfall</text>
<text x="419.44" y="886.50" font-size="26.4" letter-spacing="0.87" text-anchor="middle" fill="#000" stroke="#000" stroke-width="0.25">Time(s)</text>
<text x="20.62" y="726.00" font-size="24.6" letter-spacing="2.24" text-anchor="middle" fill="#000" stroke="#000" stroke-width="0.25" transform="rotate(-90 19.50 726.00)">Frequency(Hz)</text>
<text x="540.73" y="786.50" font-size="17" letter-spacing="0.46" text-anchor="middle" fill="#fff" stroke="#fff" stroke-width="0.3">Independent cone distribution</text>
<rect x="912.5" y="627.3" width="651.50" height="196.00" fill="#000096"/>
<defs>
<filter id="jn6" filterUnits="userSpaceOnUse" x="912.5" y="627.3" width="651.50" height="196.00" color-interpolation-filters="sRGB"><feTurbulence type="fractalNoise" baseFrequency="0.125 0.045" numOctaves="2" seed="11" result="n1"/><feTurbulence type="fractalNoise" baseFrequency="0.1412 0.0405" numOctaves="2" seed="28" result="n2"/><feColorMatrix in="n1" type="matrix" values="2.5 0 0 0 -1.25  -2.5 0 0 0 1.25  0 0 0 0 0  0 0 0 0 1" result="i1"/><feColorMatrix in="n2" type="matrix" values="2.5 0 0 0 -1.25  -2.5 0 0 0 1.25  0 0 0 0 0  0 0 0 0 1" result="i2"/><feComposite in="i1" in2="i1" operator="arithmetic" k1="1" k2="0" k3="0" k4="0" result="q1"/><feComposite in="i2" in2="i2" operator="arithmetic" k1="1" k2="0" k3="0" k4="0" result="q2"/><feColorMatrix in="q1" type="matrix" values="1 1 0 0 0  1 1 0 0 0  1 1 0 0 0  0 0 0 0 1" result="s1"/><feColorMatrix in="q2" type="matrix" values="1 1 0 0 0  1 1 0 0 0  1 1 0 0 0  0 0 0 0 1" result="s2"/><feComposite in="s1" in2="s2" operator="arithmetic" k1="0" k2="1" k3="1" k4="0" result="S"/><feComponentTransfer in="S" result="g"><feFuncR type="gamma" amplitude="0.75" exponent="0.65"/><feFuncG type="gamma" amplitude="0.75" exponent="0.65"/><feFuncB type="gamma" amplitude="0.75" exponent="0.65"/></feComponentTransfer><feColorMatrix in="SourceGraphic" type="matrix" values="1 0 0 0 0  1 0 0 0 0  1 0 0 0 0  0 0 0 0 1" result="E"/><feColorMatrix in="SourceGraphic" type="matrix" values="0 1 0 0 0  0 1 0 0 0  0 1 0 0 0  0 0 0 0 1" result="F"/><feComposite in="g" in2="E" operator="arithmetic" k1="3.57" k2="0" k3="0" k4="0" result="m"/><feComposite in="m" in2="F" operator="arithmetic" k1="0" k2="1" k3="1" k4="0" result="v"/><feComponentTransfer in="v"><feFuncR type="table" tableValues="0.000 0.000 0.000 0.000 0.000 0.000 0.000 0.000 0.000 0.000 0.000 0.000 0.000 0.125 0.250 0.375 0.500 0.625 0.750 0.875 1.000 1.000 1.000 1.000 1.000 1.000 1.000 1.000 1.000 0.875 0.750 0.625 0.500"/><feFuncG type="table" tableValues="0.000 0.000 0.000 0.000 0.000 0.125 0.250 0.375 0.500 0.625 0.750 0.875 1.000 1.000 1.000 1.000 1.000 1.000 1.000 1.000 1.000 0.875 0.750 0.625 0.500 0.375 0.250 0.125 0.000 0.000 0.000 0.000 0.000"/><feFuncB type="table" tableValues="0.500 0.625 0.750 0.875 1.000 1.000 1.000 1.000 1.000 1.000 1.000 1.000 1.000 0.875 0.750 0.625 0.500 0.375 0.250 0.125 0.000 0.000 0.000 0.000 0.000 0.000 0.000 0.000 0.000 0.000 0.000 0.000 0.000"/><feFuncA type="linear" slope="0" intercept="1"/></feComponentTransfer></filter>
<filter id="eb" x="-30%" y="-30%" width="160%" height="160%" color-interpolation-filters="sRGB"><feGaussianBlur stdDeviation="2.5 4"/></filter>
<filter id="eb2" x="-30%" y="-30%" width="160%" height="160%" color-interpolation-filters="sRGB"><feGaussianBlur stdDeviation="7 2"/></filter>
<filter id="eb3" x="-30%" y="-30%" width="160%" height="160%" color-interpolation-filters="sRGB"><feGaussianBlur stdDeviation="8 9"/></filter>
</defs>
<clipPath id="c6"><rect x="912.5" y="627.3" width="651.50" height="196.00"/></clipPath>
<g clip-path="url(#c6)"><g filter="url(#jn6)">
<rect x="892.5" y="607.3" width="691.50" height="236.00" fill="#0b0400"/>
<g filter="url(#eb2)">
<rect x="1014" y="597.3" width="424" height="256.0" fill="#170800"/>
<rect x="1035" y="597.3" width="383" height="256.0" fill="#2e0a00"/>
<rect x="1049" y="597.3" width="357" height="256.0" fill="#540d00"/>
</g>
<g filter="url(#eb3)">
<rect x="1060" y="607.3" width="350" height="44" fill="#791200" opacity="0.85"/>
<rect x="1050" y="789.3" width="340" height="60" fill="#731200" opacity="0.8"/>
<rect x="1300" y="680" width="100" height="80" fill="#400a00" opacity="0.7"/>
</g>
<g filter="url(#eb)">
<rect x="1049.5" y="597.3" width="11" height="256.0" fill="#861200" opacity="0.9"/>
<rect x="1091.5" y="597.3" width="11" height="256.0" fill="#861200" opacity="0.9"/>
<rect x="1129.5" y="597.3" width="13" height="256.0" fill="#861200" opacity="0.9"/>
<rect x="1174.0" y="597.3" width="18" height="256.0" fill="#861200" opacity="0.9"/>
<rect x="1215.5" y="597.3" width="11" height="256.0" fill="#861200" opacity="0.9"/>
<rect x="1266.5" y="597.3" width="11" height="256.0" fill="#861200" opacity="0.9"/>
<rect x="1306.0" y="597.3" width="14" height="256.0" fill="#861200" opacity="0.9"/>
<rect x="1347.0" y="597.3" width="12" height="256.0" fill="#861200" opacity="0.9"/>
<rect x="1390.0" y="597.3" width="10" height="256.0" fill="#861200" opacity="0.9"/>
<ellipse cx="1075" cy="720" rx="8" ry="60" fill="#400800" opacity="0.7"/>
<ellipse cx="1115" cy="700" rx="8" ry="70" fill="#400800" opacity="0.7"/>
<ellipse cx="1160" cy="700" rx="7" ry="60" fill="#400800" opacity="0.7"/>
<ellipse cx="1248" cy="705" rx="9" ry="55" fill="#400800" opacity="0.7"/>
<ellipse cx="1292" cy="740" rx="8" ry="45" fill="#400800" opacity="0.7"/>
<ellipse cx="1334" cy="720" rx="7" ry="60" fill="#400800" opacity="0.7"/>
<ellipse cx="1375" cy="720" rx="7" ry="70" fill="#400800" opacity="0.7"/>
</g>
<g filter="url(#b1)">
<ellipse cx="1097" cy="706" rx="3.5" ry="8" fill="#bf5900"/>
<ellipse cx="1152" cy="634" rx="6" ry="5" fill="#bf5900"/>
<ellipse cx="1222" cy="634" rx="10" ry="6" fill="#bf5900"/>
<ellipse cx="1217" cy="762" rx="3" ry="36" fill="#bf5900"/>
<ellipse cx="1275" cy="724" rx="3.5" ry="11" fill="#bf5900"/>
<ellipse cx="1320" cy="634" rx="8" ry="7" fill="#bf5900"/>
<ellipse cx="1313" cy="663" rx="9" ry="6" fill="#bf5900"/>
<ellipse cx="1188" cy="700" rx="3.5" ry="10" fill="#bf5900"/>
<ellipse cx="1186" cy="660" rx="3" ry="13" fill="#bf5900"/>
<ellipse cx="1060" cy="812" rx="4" ry="9" fill="#bf5900"/>
<ellipse cx="1096" cy="800" rx="3.5" ry="18" fill="#bf5900"/>
<ellipse cx="1136" cy="805" rx="6" ry="14" fill="#bf5900"/>
<ellipse cx="1133" cy="735" rx="3" ry="14" fill="#bf5900"/>
<ellipse cx="1268" cy="817" rx="8" ry="5" fill="#bf5900"/>
<ellipse cx="1320" cy="812" rx="8" ry="8" fill="#bf5900"/>
<ellipse cx="1345" cy="815" rx="5" ry="6" fill="#bf5900"/>
<ellipse cx="1394" cy="810" rx="5" ry="10" fill="#bf5900"/>
<ellipse cx="1393" cy="655" rx="3.5" ry="12" fill="#bf5900"/>
<ellipse cx="1396" cy="712" rx="3.5" ry="9" fill="#bf5900"/>
<ellipse cx="1098" cy="645" rx="4" ry="14" fill="#bf5900"/>
<path d="M1187 758L1192 785L1196 824L1174 824L1180 795Z" fill="#ff9900"/>
<ellipse cx="1412" cy="638" rx="8" ry="4" fill="#997300"/>
</g>
</g></g>
<rect x="1033" y="628.6" width="36.6" height="194" fill="none" stroke="#fff" stroke-width="1.7" stroke-dasharray="7 3.5"/>
<path d="M982.6 744.1L1008.5 758.7" stroke="#fff" stroke-width="1.7" stroke-dasharray="3.2 2.2" fill="none"/>
<path d="M1027.3 771.7L1012 749.3Q1009.5 760 1000.2 767.7Z" fill="#fff"/>
<path d="M913.60 823.3v7.5M994.50 823.3v7.5M1075.40 823.3v7.5M1156.30 823.3v7.5M1237.20 823.3v7.5M1318.10 823.3v7.5M1399.00 823.3v7.5M1479.90 823.3v7.5M1560.80 823.3v7.5M912.5 823.30h-7.5M912.5 784.10h-7.5M912.5 744.90h-7.5M912.5 705.70h-7.5M912.5 666.50h-7.5M912.5 627.30h-7.5" stroke="#000" stroke-width="1.7" fill="none"/>
<rect x="912.5" y="627.3" width="651.50" height="196.00" fill="none" stroke="#000" stroke-width="1.7"/>
<rect x="1571" y="627.3" width="21.00" height="197.00" fill="url(#jet)" stroke="#000" stroke-width="1.8"/>
<text x="1601.50" y="827.00" font-size="19.5" letter-spacing="1" text-anchor="start" fill="#000" stroke="#000" stroke-width="0.25">0</text>
<text x="1601.50" y="765.50" font-size="19.5" letter-spacing="1" text-anchor="start" fill="#000" stroke="#000" stroke-width="0.25">500</text>
<text x="1601.50" y="700.60" font-size="19.5" letter-spacing="1" text-anchor="start" fill="#000" stroke="#000" stroke-width="0.25">1000</text>
<text x="1601.50" y="637.70" font-size="19.5" letter-spacing="1" text-anchor="start" fill="#000" stroke="#000" stroke-width="0.25">1500</text>
<path d="M1592 757.97h-4M1592 692.63h-4" stroke="#000" stroke-width="1" fill="none"/>
<text x="914.10" y="853.00" font-size="27.5" letter-spacing="1.0" text-anchor="middle" fill="#000" stroke="#000" stroke-width="0.25">0</text>
<text x="995.00" y="853.00" font-size="27.5" letter-spacing="1.0" text-anchor="middle" fill="#000" stroke="#000" stroke-width="0.25">0.5</text>
<text x="1075.90" y="853.00" font-size="27.5" letter-spacing="1.0" text-anchor="middle" fill="#000" stroke="#000" stroke-width="0.25">1</text>
<text x="1156.80" y="853.00" font-size="27.5" letter-spacing="1.0" text-anchor="middle" fill="#000" stroke="#000" stroke-width="0.25">1.5</text>
<text x="1237.70" y="853.00" font-size="27.5" letter-spacing="1.0" text-anchor="middle" fill="#000" stroke="#000" stroke-width="0.25">2</text>
<text x="1318.60" y="853.00" font-size="27.5" letter-spacing="1.0" text-anchor="middle" fill="#000" stroke="#000" stroke-width="0.25">2.5</text>
<text x="1399.50" y="853.00" font-size="27.5" letter-spacing="1.0" text-anchor="middle" fill="#000" stroke="#000" stroke-width="0.25">3</text>
<text x="1480.40" y="853.00" font-size="27.5" letter-spacing="1.0" text-anchor="middle" fill="#000" stroke="#000" stroke-width="0.25">3.5</text>
<text x="1561.30" y="853.00" font-size="27.5" letter-spacing="1.0" text-anchor="middle" fill="#000" stroke="#000" stroke-width="0.25">4</text>
<text x="898.90" y="835.50" font-size="27.5" letter-spacing="0.0" text-anchor="end" fill="#000" stroke="#000" stroke-width="0.25">0</text>
<text x="898.90" y="796.30" font-size="27.5" letter-spacing="0.0" text-anchor="end" fill="#000" stroke="#000" stroke-width="0.25">100</text>
<text x="898.90" y="757.10" font-size="27.5" letter-spacing="0.0" text-anchor="end" fill="#000" stroke="#000" stroke-width="0.25">200</text>
<text x="898.90" y="717.90" font-size="27.5" letter-spacing="0.0" text-anchor="end" fill="#000" stroke="#000" stroke-width="0.25">300</text>
<text x="898.90" y="678.70" font-size="27.5" letter-spacing="0.0" text-anchor="end" fill="#000" stroke="#000" stroke-width="0.25">400</text>
<text x="898.90" y="639.50" font-size="27.5" letter-spacing="0.0" text-anchor="end" fill="#000" stroke="#000" stroke-width="0.25">500</text>
<text x="1239.32" y="611.40" font-size="27" letter-spacing="0.64" text-anchor="middle" fill="#000" stroke="#000" stroke-width="0.25">STFT of vibration signal on the track induced by train</text>
<text x="1243.43" y="885.00" font-size="26.4" letter-spacing="0.87" text-anchor="middle" fill="#000" stroke="#000" stroke-width="0.25">Time(s)</text>
<text x="847.48" y="725.30" font-size="27" letter-spacing="0.95" text-anchor="middle" fill="#000" stroke="#000" stroke-width="0.25" transform="rotate(-90 847.00 725.30)">Frequency(Hz)</text>
<text x="972.19" y="695.60" font-size="17" letter-spacing="0.38" text-anchor="middle" fill="#fff" stroke="#fff" stroke-width="0.3">Equal interval</text>
<text x="972.19" y="713.70" font-size="17" letter-spacing="0.38" text-anchor="middle" fill="#fff" stroke="#fff" stroke-width="0.3">vertical bar</text>
<text x="972.19" y="731.80" font-size="17" letter-spacing="0.38" text-anchor="middle" fill="#fff" stroke="#fff" stroke-width="0.3">distribution</text>
</svg></body></html>
